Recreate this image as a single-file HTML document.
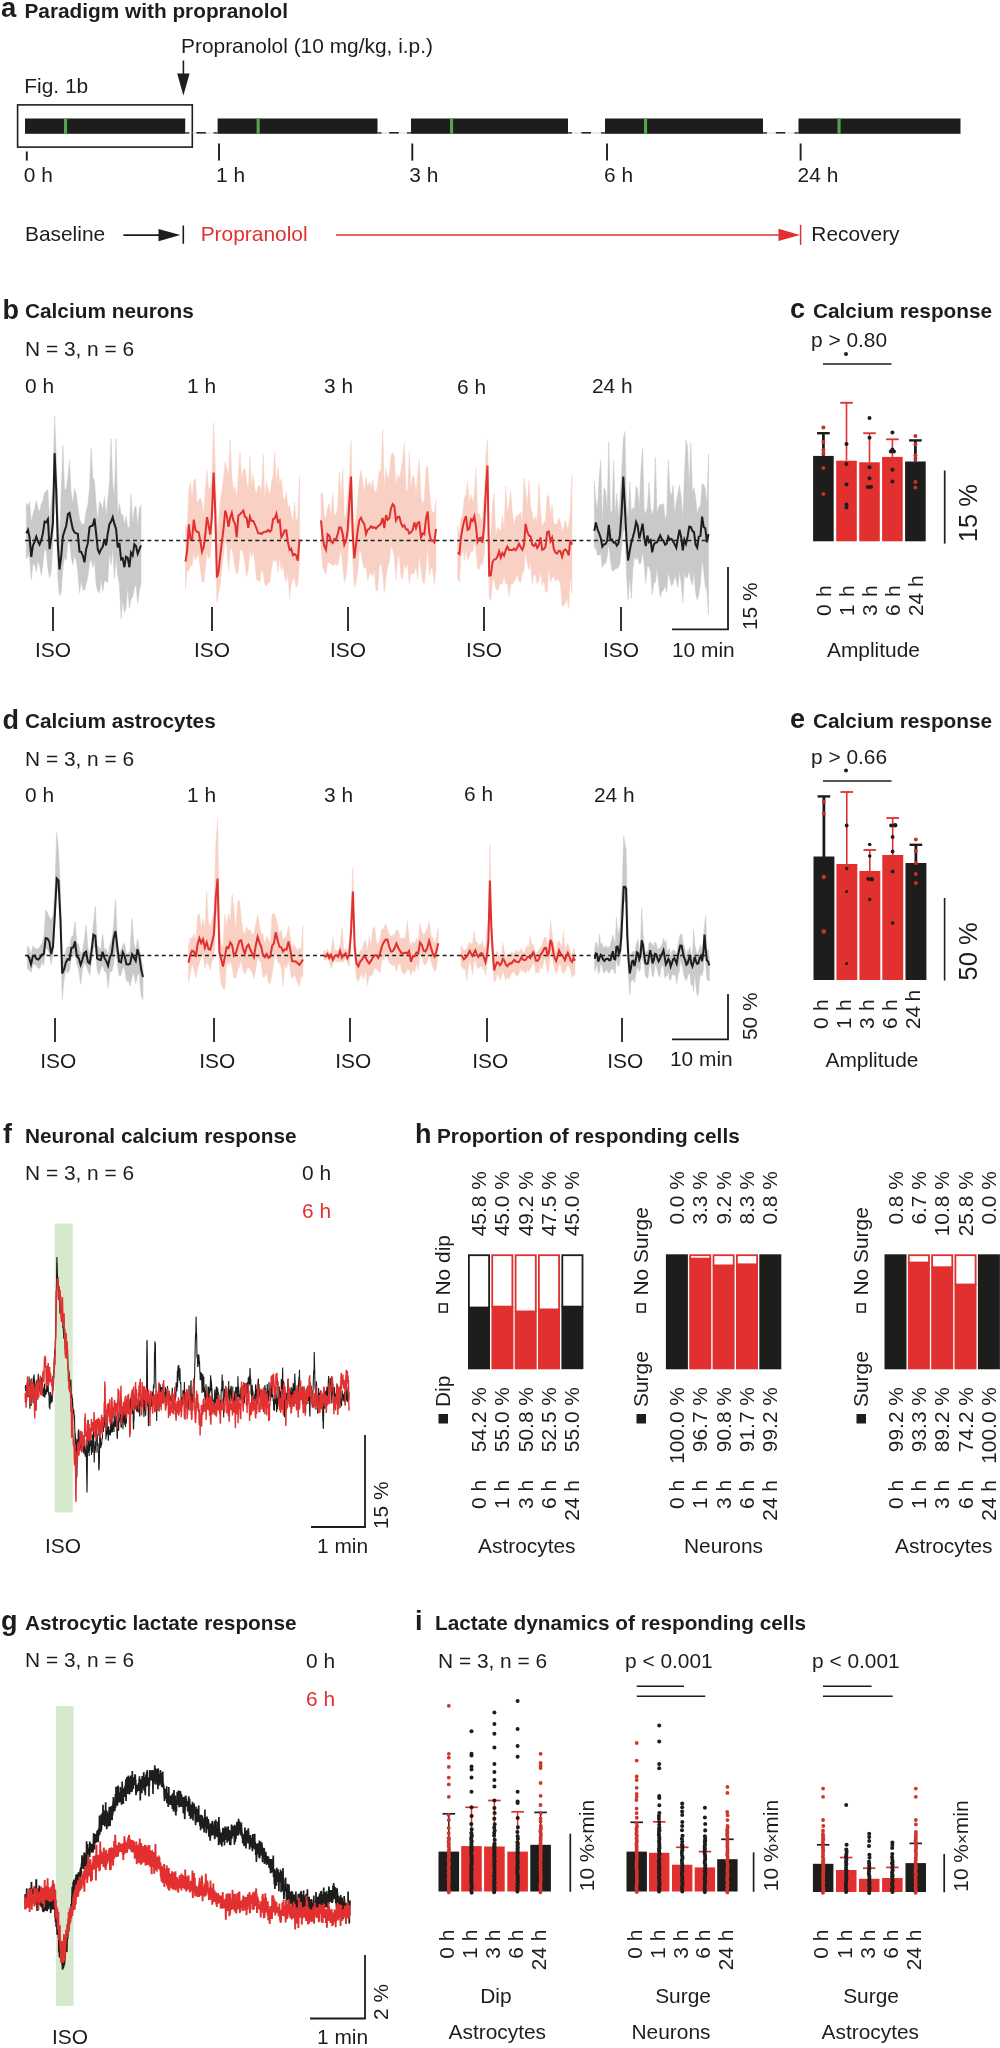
<!DOCTYPE html>
<html><head><meta charset="utf-8"><title>Figure</title>
<style>
html,body{margin:0;padding:0;background:#fff;}
body{width:1000px;height:2048px;overflow:hidden;font-family:"Liberation Sans",sans-serif;}
svg{position:absolute;left:0;top:0;display:block;will-change:transform;font-family:"Liberation Sans",sans-serif;}
</style></head><body>
<svg width="1000" height="2048" viewBox="0 0 1000 2048">
<rect width="1000" height="2048" fill="#fff"/>
<text x="1" y="17" font-size="27.5" fill="#1d1d1b" font-weight="700">a</text>
<text x="24.5" y="18" font-size="20.8" fill="#1d1d1b" font-weight="700">Paradigm with propranolol</text>
<text x="181" y="53" font-size="20.9" fill="#1d1d1b">Propranolol (10 mg/kg, i.p.)</text>
<line x1="183.4" y1="60.5" x2="183.4" y2="76" stroke="#1d1d1b" stroke-width="1.6"/>
<path d="M177.2,73.4 L189.6,73.4 L183.4,95.6 Z" fill="#1d1d1b"/>
<text x="24.3" y="92.5" font-size="20.9" fill="#1d1d1b">Fig. 1b</text>
<rect x="17.6" y="104.9" width="174.7" height="42.2" fill="none" stroke="#1d1d1b" stroke-width="1.6"/>
<rect x="25" y="118.5" width="160.2" height="15.3" fill="#1d1d1b"/>
<rect x="217.6" y="118.5" width="159.9" height="15.3" fill="#1d1d1b"/>
<rect x="411" y="118.5" width="157" height="15.3" fill="#1d1d1b"/>
<rect x="605" y="118.5" width="158" height="15.3" fill="#1d1d1b"/>
<rect x="798.5" y="118.5" width="162" height="15.3" fill="#1d1d1b"/>
<rect x="64" y="118.5" width="3.1" height="15.3" fill="#4fa84a"/>
<rect x="256.6" y="118.5" width="3.1" height="15.3" fill="#4fa84a"/>
<rect x="450" y="118.5" width="3.1" height="15.3" fill="#4fa84a"/>
<rect x="644" y="118.5" width="3.1" height="15.3" fill="#4fa84a"/>
<rect x="837.5" y="118.5" width="3.1" height="15.3" fill="#4fa84a"/>
<line x1="185.2" y1="133" x2="217.6" y2="133" stroke="#bdbdbd" stroke-width="0.6"/>
<line x1="196.4" y1="132.8" x2="205.9" y2="132.8" stroke="#1d1d1b" stroke-width="1.5"/>
<line x1="185.2" y1="132.9" x2="189.2" y2="132.9" stroke="#1d1d1b" stroke-width="1.3"/>
<line x1="213.6" y1="132.9" x2="217.6" y2="132.9" stroke="#1d1d1b" stroke-width="1.3"/>
<line x1="377.5" y1="133" x2="411" y2="133" stroke="#bdbdbd" stroke-width="0.6"/>
<line x1="389.2" y1="132.8" x2="398.8" y2="132.8" stroke="#1d1d1b" stroke-width="1.5"/>
<line x1="377.5" y1="132.9" x2="381.5" y2="132.9" stroke="#1d1d1b" stroke-width="1.3"/>
<line x1="407" y1="132.9" x2="411" y2="132.9" stroke="#1d1d1b" stroke-width="1.3"/>
<line x1="568" y1="133" x2="605" y2="133" stroke="#bdbdbd" stroke-width="0.6"/>
<line x1="581.5" y1="132.8" x2="591" y2="132.8" stroke="#1d1d1b" stroke-width="1.5"/>
<line x1="568" y1="132.9" x2="572" y2="132.9" stroke="#1d1d1b" stroke-width="1.3"/>
<line x1="601" y1="132.9" x2="605" y2="132.9" stroke="#1d1d1b" stroke-width="1.3"/>
<line x1="763" y1="133" x2="798.5" y2="133" stroke="#bdbdbd" stroke-width="0.6"/>
<line x1="775.8" y1="132.8" x2="785.2" y2="132.8" stroke="#1d1d1b" stroke-width="1.5"/>
<line x1="763" y1="132.9" x2="767" y2="132.9" stroke="#1d1d1b" stroke-width="1.3"/>
<line x1="794.5" y1="132.9" x2="798.5" y2="132.9" stroke="#1d1d1b" stroke-width="1.3"/>
<line x1="26.8" y1="151.5" x2="26.8" y2="160.6" stroke="#1d1d1b" stroke-width="1.9"/>
<text x="23.8" y="182" font-size="20.9" fill="#1d1d1b">0 h</text>
<line x1="219" y1="143.5" x2="219" y2="160.6" stroke="#1d1d1b" stroke-width="1.9"/>
<text x="216" y="182" font-size="20.9" fill="#1d1d1b">1 h</text>
<line x1="412.3" y1="143.5" x2="412.3" y2="160.6" stroke="#1d1d1b" stroke-width="1.9"/>
<text x="409.3" y="182" font-size="20.9" fill="#1d1d1b">3 h</text>
<line x1="607" y1="143.5" x2="607" y2="160.6" stroke="#1d1d1b" stroke-width="1.9"/>
<text x="604" y="182" font-size="20.9" fill="#1d1d1b">6 h</text>
<line x1="800.6" y1="143.5" x2="800.6" y2="160.6" stroke="#1d1d1b" stroke-width="1.9"/>
<text x="797.6" y="182" font-size="20.9" fill="#1d1d1b">24 h</text>
<text x="25" y="241.2" font-size="20.9" fill="#1d1d1b">Baseline</text>
<line x1="123.4" y1="235.1" x2="162" y2="235.1" stroke="#1d1d1b" stroke-width="1.6"/>
<path d="M158.5,229 L180.3,235.1 L158.5,241.2 Z" fill="#1d1d1b"/>
<line x1="183.3" y1="225.5" x2="183.3" y2="243.8" stroke="#1d1d1b" stroke-width="1.6"/>
<text x="200.7" y="241.2" font-size="20.9" fill="#e1302f">Propranolol</text>
<line x1="336" y1="234.9" x2="782" y2="234.9" stroke="#e1302f" stroke-width="1.5"/>
<path d="M778.5,228.7 L800,234.9 L778.5,241.1 Z" fill="#e1302f"/>
<line x1="800.6" y1="224.8" x2="800.6" y2="245" stroke="#e1302f" stroke-width="1.5"/>
<text x="811.3" y="241.2" font-size="20.9" fill="#1d1d1b">Recovery</text>
<text x="2.5" y="319" font-size="27" fill="#1d1d1b" font-weight="700">b</text>
<text x="25" y="318" font-size="20.8" fill="#1d1d1b" font-weight="700">Calcium neurons</text>
<text x="25" y="356" font-size="20.9" fill="#1d1d1b">N = 3, n = 6</text>
<text x="25" y="393" font-size="20.9" fill="#1d1d1b">0 h</text>
<text x="187" y="393" font-size="20.9" fill="#1d1d1b">1 h</text>
<text x="324" y="393" font-size="20.9" fill="#1d1d1b">3 h</text>
<text x="457" y="394" font-size="20.9" fill="#1d1d1b">6 h</text>
<text x="592" y="393" font-size="20.9" fill="#1d1d1b">24 h</text>
<path d="M26.3,503.1 28,505.7 29.6,502 31.3,522 32.9,514.3 34.6,508.6 36.3,500.8 37.9,507.8 39.6,512.1 41.3,503.8 42.9,501.1 44.6,492.7 46.2,491.1 47.9,489.4 49.6,521.3 51.2,502.6 52.9,489.2 54.6,416 56.2,455 57.9,509 59.5,542.6 61.2,491 62.9,444.9 64.5,489.7 66.2,489.2 67.9,477.2 69.5,460.5 71.2,493.3 72.8,503.3 74.5,488.7 76.2,494 77.8,506.1 79.5,518.5 81.2,523.2 82.8,524.4 84.5,523.2 86.1,511.2 87.8,505.3 89.5,488.7 91.1,448.2 92.8,477.4 94.5,480.9 96.1,503.8 97.8,522.6 99.4,501.2 101.1,503.9 102.8,510.4 104.4,496.6 106.1,517.4 107.8,498.8 109.4,482.7 111.1,439 112.7,483.3 114.4,496.7 116.1,439 117.7,515.6 119.4,503.5 121.1,514.6 122.7,514.9 124.4,524.5 126,516 127.7,526.7 129.4,527.8 131,494.3 132.7,524.4 134.4,508 136,505.8 137.7,527 139.3,508.7 141,504.8 141,583.5 139.3,591.7 137.7,603.1 136,584.3 134.4,588 132.7,597.1 131,599.1 129.4,608.3 127.7,587 126,608.2 124.4,612.6 122.7,600 121.1,618.9 119.4,583.8 117.7,575.4 116.1,556.9 114.4,578.3 112.7,547.8 111.1,564.9 109.4,552.1 107.8,582.9 106.1,581.2 104.4,580.8 102.8,591.3 101.1,580.1 99.4,592.9 97.8,591.2 96.1,585.1 94.5,560 92.8,567.7 91.1,558.8 89.5,563.6 87.8,577.2 86.1,584.3 84.5,590.6 82.8,589.4 81.2,581.1 79.5,592.8 77.8,571.8 76.2,559.9 74.5,556.1 72.8,565.2 71.2,557.3 69.5,540.9 67.9,541.4 66.2,560.4 64.5,557.5 62.9,567.8 61.2,592.4 59.5,595.5 57.9,579.4 56.2,511.3 54.6,486.8 52.9,543.9 51.2,570.7 49.6,578 47.9,567.9 46.2,551.1 44.6,548.6 42.9,564.6 41.3,575.3 39.6,565.8 37.9,561.1 36.3,571.7 34.6,564.1 32.9,564.5 31.3,579.6 29.6,557.8 28,555.2 26.3,558.9Z" fill="#c9c9c9" stroke="#c9c9c9" stroke-width="0.5" stroke-linejoin="round"/>
<path d="M185.5,525.5 187.2,530.3 188.8,490.4 190.5,482.2 192.1,500.4 193.8,479.9 195.4,479 197.1,503.8 198.7,500.3 200.4,497.9 202,502.7 203.7,515.1 205.3,490.6 207,470.5 208.6,490.4 210.3,487.1 211.9,479.3 213.6,422.5 215.2,464.4 216.9,533 218.5,522.2 220.2,501.7 221.8,491.8 223.5,478.5 225.2,461.7 226.8,468.9 228.5,475.5 230.1,440.1 231.8,475.3 233.4,489.9 235.1,487 236.7,499.5 238.4,474.1 240,452.4 241.7,479 243.3,470.3 245,468.4 246.6,481.5 248.3,490.7 249.9,456.4 251.6,486.5 253.2,473.8 254.9,489.8 256.5,493.8 258.2,485.7 259.8,485.6 261.5,491 263.2,453.6 264.8,501.2 266.5,481.3 268.1,489.2 269.8,494.5 271.4,483.8 273.1,476 274.7,451.8 276.4,483.7 278,466.7 279.7,484.1 281.3,478.7 283,496.6 284.6,500.7 286.3,491.8 287.9,507.2 289.6,505.5 291.2,514.8 292.9,522.2 294.5,502 296.2,521.1 297.8,517.6 299.5,476 299.5,561.9 297.8,583.7 296.2,587.6 294.5,578.5 292.9,578.6 291.2,584.4 289.6,598.5 287.9,572.7 286.3,582.2 284.6,576.4 283,565 281.3,570.7 279.7,557.2 278,572.2 276.4,558.3 274.7,561.9 273.1,559.2 271.4,568.9 269.8,582.7 268.1,582.4 266.5,585.9 264.8,584.4 263.2,572.1 261.5,569.2 259.8,581.9 258.2,580.3 256.5,579.5 254.9,562.3 253.2,550.9 251.6,557.5 249.9,548.9 248.3,570.4 246.6,576.3 245,562.7 243.3,554.3 241.7,549 240,551.6 238.4,570.5 236.7,574.3 235.1,568.1 233.4,556.6 231.8,547.7 230.1,550.2 228.5,571.2 226.8,546.2 225.2,538.1 223.5,555.4 221.8,568.3 220.2,584.6 218.5,592.8 216.9,602.8 215.2,532.1 213.6,495 211.9,537.4 210.3,555.4 208.6,558.9 207,552 205.3,569.4 203.7,582.4 202,581.4 200.4,570 198.7,554.5 197.1,556.4 195.4,560.1 193.8,552.6 192.1,565.5 190.5,565.6 188.8,570.5 187.2,570.4 185.5,588.6Z" fill="#f9d0c4" stroke="#f9d0c4" stroke-width="0.5" stroke-linejoin="round"/>
<path d="M321,492 322.7,494.2 324.3,517 326,517.8 327.7,507.3 329.3,503.7 331,518.5 332.7,493.7 334.3,514.8 336,515 337.7,506.3 339.3,472.1 341,498.2 342.7,468.1 344.3,517 346,516.1 347.7,495.5 349.3,477.8 351,440.5 352.7,509 354.3,528.4 356,518.5 357.7,499.3 359.3,480.1 361,470.3 362.7,481.8 364.3,491.9 366,477.3 367.7,487 369.3,481.8 371,488 372.7,479.9 374.3,490.5 376,492.4 377.7,484.7 379.3,470.4 381,473.1 382.7,429.3 384.3,488 386,468.7 387.7,479.6 389.3,474.1 391,456.1 392.7,452.4 394.3,456 396,486.6 397.7,474.8 399.3,479.1 401,469.8 402.7,460.3 404.3,442.2 406,490.6 407.7,490.8 409.3,451.9 411,489.6 412.7,475.5 414.3,478 416,495.4 417.7,475.1 419.3,459.2 421,497.8 422.7,504.2 424.3,500 426,468.8 427.7,465.6 429.3,488.7 431,507.6 432.7,512.4 434.3,512.9 436,499.7 436,568.5 434.3,584.3 432.7,569.5 431,567.8 429.3,575.3 427.7,546 426,567.8 424.3,583.8 422.7,581.8 421,568.9 419.3,554.5 417.7,579.1 416,565.6 414.3,573.3 412.7,574 411,572.4 409.3,583.7 407.7,563.6 406,568.7 404.3,563.6 402.7,578.9 401,577.5 399.3,555.9 397.7,557.1 396,580.1 394.3,557.6 392.7,550 391,546.1 389.3,562.5 387.7,566.8 386,578.1 384.3,592.5 382.7,572.9 381,563.7 379.3,566.3 377.7,589.9 376,591.1 374.3,569.3 372.7,576.8 371,572.6 369.3,574.7 367.7,580.3 366,567.8 364.3,568.4 362.7,563.3 361,552.2 359.3,550.5 357.7,572.4 356,582.2 354.3,587.4 352.7,559.7 351,514.9 349.3,530.5 347.7,561.2 346,576.7 344.3,582.5 342.7,565.3 341,550.2 339.3,557.6 337.7,566.4 336,562.8 334.3,565 332.7,565.6 331,563.4 329.3,563.1 327.7,561.5 326,574.1 324.3,570.9 322.7,567.2 321,545.3Z" fill="#f9d0c4" stroke="#f9d0c4" stroke-width="0.5" stroke-linejoin="round"/>
<path d="M457.7,525.9 459.4,534.8 461,518.4 462.7,514.5 464.3,497.7 466,495.3 467.6,481.5 469.3,503.6 471,494.6 472.6,502.4 474.3,495.5 475.9,468 477.6,512.7 479.2,513.6 480.9,519.5 482.5,519.2 484.2,496 485.9,455 487.5,439.5 489.2,548.6 490.8,536.5 492.5,504.2 494.1,493.4 495.8,536.1 497.5,527 499.1,529.6 500.8,531 502.4,515.4 504.1,528.8 505.7,486.1 507.4,513.2 509.1,504.5 510.7,490.9 512.4,512.9 514,525.4 515.7,516.9 517.3,515.5 519,514.8 520.6,511.9 522.3,522.6 524,478 525.6,491.2 527.3,506.2 528.9,480.4 530.6,506.3 532.2,513.2 533.9,521.5 535.6,516.1 537.2,522.8 538.9,482.2 540.5,511.2 542.2,526.9 543.8,522.8 545.5,520.3 547.2,496.5 548.8,495.1 550.5,515.5 552.1,505 553.8,523.4 555.4,524.5 557.1,523.9 558.7,517.6 560.4,522.3 562.1,530.8 563.7,527.3 565.4,519.5 567,528 568.7,525.9 570.3,512.5 572,475 572,593.7 570.3,575.7 568.7,608.4 567,598.2 565.4,603.2 563.7,605.6 562.1,606.2 560.4,582.8 558.7,580.9 557.1,579 555.4,581.5 553.8,576.2 552.1,577.9 550.5,582.4 548.8,565.9 547.2,591.7 545.5,591.9 543.8,579.5 542.2,586.5 540.5,570.7 538.9,581.3 537.2,583.7 535.6,575.5 533.9,574.2 532.2,584.3 530.6,562.3 528.9,569.7 527.3,563.8 525.6,550.1 524,570.4 522.3,573.2 520.6,583 519,581.4 517.3,573.4 515.7,578.9 514,581.1 512.4,584.6 510.7,584.1 509.1,596.7 507.4,582.9 505.7,584 504.1,575.6 502.4,583.9 500.8,583.3 499.1,586.6 497.5,590.7 495.8,588.6 494.1,578.7 492.5,580.3 490.8,600.9 489.2,596.2 487.5,486.4 485.9,515.4 484.2,554.4 482.5,564.6 480.9,562.9 479.2,569.4 477.6,568.7 475.9,550.1 474.3,541.3 472.6,552.2 471,550.5 469.3,557.4 467.6,560.4 466,549.5 464.3,560.2 462.7,548.6 461,557.1 459.4,581.8 457.7,579.4Z" fill="#f9d0c4" stroke="#f9d0c4" stroke-width="0.5" stroke-linejoin="round"/>
<path d="M594.3,481.1 595.9,501.4 597.5,508.6 599.1,478.2 600.7,460.5 602.3,523.3 604,487.9 605.6,491 607.2,507.9 608.8,441.9 610.4,511.2 612,511.8 613.6,460.4 615.2,513.9 616.8,493.5 618.4,517.8 620,497.8 621.6,473.8 623.3,439.5 624.9,431.4 626.5,504.3 628.1,518.8 629.7,482 631.3,511.4 632.9,507.7 634.5,509.7 636.1,486.1 637.7,489.6 639.3,509.3 640.9,470.2 642.6,448.6 644.2,509.5 645.8,514.3 647.4,506.5 649,481.9 650.6,506.9 652.2,515.6 653.8,507.8 655.4,457.3 657,512.7 658.6,507.1 660.2,504 661.9,504.8 663.5,503.5 665.1,519.4 666.7,514.1 668.3,460.4 669.9,490.8 671.5,496.5 673.1,485.4 674.7,514.1 676.3,501.9 677.9,493.6 679.5,485 681.2,497.6 682.8,518.5 684.4,476.4 686,440.2 687.6,447 689.2,487.7 690.8,442.8 692.4,492.7 694,487.7 695.6,497.5 697.2,513.9 698.8,507.5 700.5,505.3 702.1,483.8 703.7,484.7 705.3,489 706.9,504.7 708.5,453.9 708.5,614.3 706.9,590 705.3,586.7 703.7,571 702.1,559.4 700.5,583.2 698.8,594.7 697.2,599.7 695.6,592.9 694,571.2 692.4,585.1 690.8,580.4 689.2,570.3 687.6,577 686,577.9 684.4,572.3 682.8,603 681.2,582.4 679.5,571.1 677.9,587.5 676.3,579.9 674.7,575.8 673.1,583.7 671.5,586 669.9,579.2 668.3,571.8 666.7,592.3 665.1,585.5 663.5,590.3 661.9,591.8 660.2,597 658.6,583.5 657,568 655.4,582.2 653.8,583.4 652.2,594.5 650.6,572 649,566.9 647.4,565.3 645.8,583.5 644.2,564 642.6,552.1 640.9,563 639.3,564 637.7,557.3 636.1,559.7 634.5,555.9 632.9,568.2 631.3,598.4 629.7,575.9 628.1,600.5 626.5,574.6 624.9,529.7 623.3,530.5 621.6,546.8 620,563.3 618.4,567.5 616.8,568.7 615.2,568.7 613.6,570.9 612,570.4 610.4,559.7 608.8,543.3 607.2,557.1 605.6,563.5 604,564 602.3,567.5 600.7,552.9 599.1,555.2 597.5,555.2 595.9,547.5 594.3,549Z" fill="#c9c9c9" stroke="#c9c9c9" stroke-width="0.5" stroke-linejoin="round"/>
<line x1="25" y1="540.5" x2="706" y2="540.5" stroke="#1d1d1b" stroke-width="1.5" stroke-dasharray="4 3.2"/>
<path d="M26.3,533.3 28,529.9 29.6,537.8 31.3,556.9 32.9,545.7 34.6,541.9 36.3,536.6 37.9,541.3 39.6,544.5 41.3,540.2 42.9,533.1 44.6,521.7 46.2,522.3 47.9,519.2 49.6,549.2 51.2,538.3 52.9,523.2 54.6,453 56.2,489 57.9,545.3 59.5,569.5 61.2,556.2 62.9,536.3 64.5,531 66.2,526 67.9,514.1 69.5,512.9 71.2,521.5 72.8,529.2 74.5,532.2 76.2,533.4 77.8,533.6 79.5,551.6 81.2,551.9 82.8,555.6 84.5,562.3 86.1,549.4 87.8,543.4 89.5,527.2 91.1,525.9 92.8,525.6 94.5,518.5 96.1,533.1 97.8,549.4 99.4,553 101.1,549.2 102.8,546.7 104.4,539 106.1,545.4 107.8,533.2 109.4,524.2 111.1,521.5 112.7,517.2 114.4,523.9 116.1,529.1 117.7,547.3 119.4,543.2 121.1,559.5 122.7,558.3 124.4,567.2 126,556.7 127.7,557.9 129.4,567.2 131,552.6 132.7,555.6 134.4,544.2 136,546 137.7,553.8 139.3,549.7 141,545.4" fill="none" stroke="#1d1d1b" stroke-width="2" stroke-linejoin="miter"/>
<path d="M185.5,561.6 187.2,550.1 188.8,524.3 190.5,539.4 192.1,539 193.8,519.6 195.4,530 197.1,531.8 198.7,532.4 200.4,541.3 202,551.7 203.7,547.1 205.3,534.5 207,517.1 208.6,525.5 210.3,534.5 211.9,515.8 213.6,472.5 215.2,510 216.9,577.5 218.5,572.3 220.2,556.1 221.8,543 223.5,528.9 225.2,510.5 226.8,515.7 228.5,526.9 230.1,517.9 231.8,512.8 233.4,520.6 235.1,524 236.7,537.3 238.4,515.5 240,514.3 241.7,512.4 243.3,510.5 245,516.8 246.6,517.8 248.3,527.8 249.9,516.7 251.6,521.1 253.2,521.1 254.9,524.4 256.5,528.5 258.2,533.3 259.8,533.2 261.5,534 263.2,532.4 264.8,531.7 266.5,531.7 268.1,529.9 269.8,531.7 271.4,530.1 273.1,519.1 274.7,518.5 276.4,513.7 278,521.9 279.7,520.2 281.3,537.2 283,534.7 284.6,530.5 286.3,530.4 287.9,542.3 289.6,549.8 291.2,548.6 292.9,555.2 294.5,554.1 296.2,555.4 297.8,560.6 299.5,539.3" fill="none" stroke="#e1302f" stroke-width="2" stroke-linejoin="miter"/>
<path d="M321,520.3 322.7,538 324.3,546.1 326,549.8 327.7,534.2 329.3,535.5 331,541.4 332.7,543 334.3,538.9 336,539.8 337.7,534.1 339.3,527.4 341,527.7 342.7,534 344.3,544.8 346,540.7 347.7,530 349.3,503.5 351,476.5 352.7,533.3 354.3,558.5 356,544.7 357.7,530.6 359.3,520.4 361,517.8 362.7,521.8 364.3,524.1 366,534.1 367.7,529.7 369.3,528.8 371,526.2 372.7,527.8 374.3,527.2 376,528.5 377.7,526.4 379.3,525.4 381,523.4 382.7,517.8 384.3,528.2 386,515.2 387.7,519.7 389.3,518.3 391,508.3 392.7,504.1 394.3,506 396,520.4 397.7,517.1 399.3,516.7 401,523.1 402.7,526.6 404.3,525.3 406,529.4 407.7,529.5 409.3,533.4 411,532.3 412.7,530 414.3,522.4 416,528.1 417.7,522.8 419.3,522.1 421,537.4 422.7,533.4 424.3,534.3 426,518.9 427.7,511.6 429.3,533 431,540.4 432.7,540.4 434.3,542.3 436,529" fill="none" stroke="#e1302f" stroke-width="2" stroke-linejoin="miter"/>
<path d="M457.7,552.6 459.4,554 461,537 462.7,527.4 464.3,520.4 466,516 467.6,529.9 469.3,528.6 471,519.3 472.6,521 474.3,516.3 475.9,526.2 477.6,541.8 479.2,538.4 480.9,537.6 482.5,542.7 484.2,523.8 485.9,489.6 487.5,465.5 489.2,575.5 490.8,575.3 492.5,562.3 494.1,559.6 495.8,559.2 497.5,556.5 499.1,551.4 500.8,557.6 502.4,553 504.1,555.7 505.7,550.2 507.4,546.6 509.1,549.9 510.7,549.9 512.4,550.2 514,548.7 515.7,550.2 517.3,547.5 519,543.8 520.6,547.1 522.3,549.8 524,545.4 525.6,523.9 527.3,531.6 528.9,535.4 530.6,536.6 532.2,544.6 533.9,546.1 535.6,543.6 537.2,547.9 538.9,545.1 540.5,537.4 542.2,549.9 543.8,549.2 545.5,546.7 547.2,532 548.8,531.6 550.5,541.1 552.1,537.7 553.8,548.9 555.4,552.5 557.1,553.6 558.7,550.9 560.4,551.2 562.1,556.9 563.7,551 565.4,549.4 567,551.2 568.7,555.3 570.3,540 572,544.7" fill="none" stroke="#e1302f" stroke-width="2" stroke-linejoin="miter"/>
<path d="M594.3,530.9 595.9,522.5 597.5,529.3 599.1,533 600.7,537.9 602.3,546.6 604,544.3 605.6,543.9 607.2,540.7 608.8,524.9 610.4,539.3 612,539.5 613.6,542.6 615.2,542.2 616.8,545.6 618.4,543.5 620,534.9 621.6,512.8 623.3,476.5 624.9,507.9 626.5,539 628.1,560.5 629.7,551.1 631.3,542.6 632.9,537.1 634.5,531 636.1,522 637.7,525.7 639.3,538.5 640.9,531.9 642.6,523.6 644.2,537.5 645.8,546 647.4,535.6 649,542.1 650.6,540.2 652.2,552.4 653.8,544.5 655.4,542.7 657,542.3 658.6,538.9 660.2,535.4 661.9,539.3 663.5,540.9 665.1,544.7 666.7,543.6 668.3,536.6 669.9,539.6 671.5,538.9 673.1,541.4 674.7,544.3 676.3,547.7 677.9,538.3 679.5,529.6 681.2,537.5 682.8,550.4 684.4,539.7 686,543.8 687.6,536.8 689.2,526.7 690.8,526.9 692.4,530.9 694,532.1 695.6,544.6 697.2,547.6 698.8,536.6 700.5,535.9 702.1,516.7 703.7,526.9 705.3,528.3 706.9,542.4 708.5,534" fill="none" stroke="#1d1d1b" stroke-width="2" stroke-linejoin="miter"/>
<line x1="53" y1="607" x2="53" y2="631" stroke="#1d1d1b" stroke-width="1.8"/>
<text x="53" y="657" font-size="20.9" fill="#1d1d1b" text-anchor="middle">ISO</text>
<line x1="212" y1="607" x2="212" y2="631" stroke="#1d1d1b" stroke-width="1.8"/>
<text x="212" y="657" font-size="20.9" fill="#1d1d1b" text-anchor="middle">ISO</text>
<line x1="348" y1="607" x2="348" y2="631" stroke="#1d1d1b" stroke-width="1.8"/>
<text x="348" y="657" font-size="20.9" fill="#1d1d1b" text-anchor="middle">ISO</text>
<line x1="484" y1="607" x2="484" y2="631" stroke="#1d1d1b" stroke-width="1.8"/>
<text x="484" y="657" font-size="20.9" fill="#1d1d1b" text-anchor="middle">ISO</text>
<line x1="621" y1="607" x2="621" y2="631" stroke="#1d1d1b" stroke-width="1.8"/>
<text x="621" y="657" font-size="20.9" fill="#1d1d1b" text-anchor="middle">ISO</text>
<line x1="672" y1="629.3" x2="728.9" y2="629.3" stroke="#1d1d1b" stroke-width="1.8"/>
<line x1="728" y1="567" x2="728" y2="629.3" stroke="#1d1d1b" stroke-width="1.8"/>
<text transform="translate(757 630) rotate(-90)" font-size="20.9" fill="#1d1d1b">15 %</text>
<text x="672" y="657" font-size="20.9" fill="#1d1d1b">10 min</text>
<text x="790" y="318" font-size="27" fill="#1d1d1b" font-weight="700">c</text>
<text x="813" y="318" font-size="20.8" fill="#1d1d1b" font-weight="700">Calcium response</text>
<text x="811" y="347" font-size="20.9" fill="#1d1d1b">p &gt; 0.80</text>
<line x1="823" y1="364" x2="891.5" y2="364" stroke="#1d1d1b" stroke-width="1.5"/>
<circle cx="846" cy="354" r="2" fill="#1d1d1b"/>
<rect x="813.1" y="455.9" width="20.6" height="85.4" fill="#1d1d1b"/>
<rect x="836.2" y="460.7" width="20.6" height="80.6" fill="#e1302f"/>
<rect x="859.2" y="462.3" width="20.6" height="79" fill="#e1302f"/>
<rect x="882.1" y="456.9" width="20.6" height="84.4" fill="#e1302f"/>
<rect x="905.1" y="461.5" width="20.6" height="79.8" fill="#1d1d1b"/>
<line x1="823.4" y1="433.2" x2="823.4" y2="455.9" stroke="#1d1d1b" stroke-width="2.8"/>
<line x1="817.1" y1="433.2" x2="829.7" y2="433.2" stroke="#1d1d1b" stroke-width="2.4"/>
<line x1="846.5" y1="402.8" x2="846.5" y2="460.7" stroke="#e1302f" stroke-width="1.6"/>
<line x1="840.2" y1="402.8" x2="852.8" y2="402.8" stroke="#e1302f" stroke-width="1.8"/>
<line x1="869.5" y1="433.2" x2="869.5" y2="462.3" stroke="#e1302f" stroke-width="1.6"/>
<line x1="863.2" y1="433.2" x2="875.8" y2="433.2" stroke="#e1302f" stroke-width="1.8"/>
<line x1="892.4" y1="439.3" x2="892.4" y2="456.9" stroke="#e1302f" stroke-width="1.6"/>
<line x1="886.1" y1="439.3" x2="898.7" y2="439.3" stroke="#e1302f" stroke-width="1.8"/>
<line x1="915.4" y1="440.4" x2="915.4" y2="461.5" stroke="#1d1d1b" stroke-width="2.8"/>
<line x1="909.1" y1="440.4" x2="921.7" y2="440.4" stroke="#1d1d1b" stroke-width="2.4"/>
<circle cx="823.4" cy="427.6" r="2" fill="#c4322b"/>
<circle cx="823.4" cy="442" r="2" fill="#c4322b"/>
<circle cx="823.4" cy="450" r="2" fill="#c4322b"/>
<circle cx="823.4" cy="453.5" r="2" fill="#c4322b"/>
<circle cx="823.4" cy="468" r="2" fill="#c4322b"/>
<circle cx="823.4" cy="494" r="2" fill="#c4322b"/>
<circle cx="846.5" cy="444" r="2" fill="#1d1d1b"/>
<circle cx="846.5" cy="464" r="2" fill="#1d1d1b"/>
<circle cx="846.5" cy="484.4" r="2" fill="#1d1d1b"/>
<circle cx="846.5" cy="504.6" r="2" fill="#1d1d1b"/>
<circle cx="846.5" cy="507.4" r="2" fill="#1d1d1b"/>
<circle cx="869.5" cy="418" r="2" fill="#1d1d1b"/>
<circle cx="869.5" cy="437.7" r="2" fill="#1d1d1b"/>
<circle cx="869.5" cy="467.3" r="2" fill="#1d1d1b"/>
<circle cx="869.5" cy="478.3" r="2" fill="#1d1d1b"/>
<circle cx="868" cy="487" r="2" fill="#1d1d1b"/>
<circle cx="871" cy="487" r="2" fill="#1d1d1b"/>
<circle cx="892.4" cy="432.4" r="2" fill="#1d1d1b"/>
<circle cx="892.4" cy="449.4" r="2" fill="#1d1d1b"/>
<circle cx="890.8" cy="451.6" r="2" fill="#1d1d1b"/>
<circle cx="894" cy="451.6" r="2" fill="#1d1d1b"/>
<circle cx="892.4" cy="469.7" r="2" fill="#1d1d1b"/>
<circle cx="892.4" cy="481.5" r="2" fill="#1d1d1b"/>
<circle cx="915.4" cy="436" r="2" fill="#c4322b"/>
<circle cx="915.4" cy="444.4" r="2" fill="#c4322b"/>
<circle cx="915.4" cy="455.6" r="2" fill="#c4322b"/>
<circle cx="915.4" cy="458.8" r="2" fill="#c4322b"/>
<circle cx="915.4" cy="482" r="2" fill="#c4322b"/>
<circle cx="915.4" cy="487.6" r="2" fill="#c4322b"/>
<line x1="944.7" y1="470.5" x2="944.7" y2="543.6" stroke="#1d1d1b" stroke-width="1.7"/>
<text transform="translate(977 542.3) rotate(-90)" font-size="25.5" fill="#1d1d1b">15 %</text>
<text transform="translate(831.1 616) rotate(-90)" font-size="20.9" fill="#1d1d1b" word-spacing="1.6">0 h</text>
<text transform="translate(854.2 616) rotate(-90)" font-size="20.9" fill="#1d1d1b" word-spacing="1.6">1 h</text>
<text transform="translate(877.2 616) rotate(-90)" font-size="20.9" fill="#1d1d1b" word-spacing="1.6">3 h</text>
<text transform="translate(900.1 616) rotate(-90)" font-size="20.9" fill="#1d1d1b" word-spacing="1.6">6 h</text>
<text transform="translate(923.1 616) rotate(-90)" font-size="20.9" fill="#1d1d1b" word-spacing="0">24 h</text>
<text x="827" y="657" font-size="20.9" fill="#1d1d1b">Amplitude</text>
<text x="2.5" y="729" font-size="27" fill="#1d1d1b" font-weight="700">d</text>
<text x="25" y="728" font-size="20.8" fill="#1d1d1b" font-weight="700">Calcium astrocytes</text>
<text x="25" y="766" font-size="20.9" fill="#1d1d1b">N = 3, n = 6</text>
<text x="25" y="802" font-size="20.9" fill="#1d1d1b">0 h</text>
<text x="187" y="802" font-size="20.9" fill="#1d1d1b">1 h</text>
<text x="324" y="802" font-size="20.9" fill="#1d1d1b">3 h</text>
<text x="464" y="801" font-size="20.9" fill="#1d1d1b">6 h</text>
<text x="594" y="802" font-size="20.9" fill="#1d1d1b">24 h</text>
<path d="M27.3,946.4 29.1,947.7 31,955.1 32.8,945.8 34.6,948.1 36.5,949.1 38.3,948.7 40.2,945.9 42,943.3 43.8,937.6 45.7,910.1 47.5,912.8 49.3,917.6 51.2,919.8 53,915.2 54.8,890.9 56.7,832.5 58.5,850.5 60.4,888.1 62.2,957.7 64,957.7 65.9,950.4 67.7,946.2 69.5,947.4 71.4,937.1 73.2,935.7 75,921.5 76.9,942.3 78.7,945 80.6,953.3 82.4,951.8 84.2,940.8 86.1,925.6 87.9,948.1 89.7,954.7 91.6,943.1 93.4,923.8 95.3,905.9 97.1,945 98.9,947.4 100.8,949.7 102.6,933.8 104.4,949.8 106.3,948.8 108.1,955.8 109.9,944.7 111.8,940 113.6,924.9 115.5,899.1 117.3,938.3 119.1,954 121,950.1 122.8,945.2 124.6,943.2 126.5,954.4 128.3,953.1 130.1,950.9 132,918.3 133.8,943 135.7,950.1 137.5,939 139.3,948.2 141.2,958.9 143,966.6 143,999.4 141.2,996.3 139.3,974.3 137.5,974.8 135.7,984 133.8,972.7 132,977.6 130.1,986 128.3,980.3 126.5,981.6 124.6,968.7 122.8,967.6 121,975.3 119.1,975.7 117.3,963.7 115.5,947.6 113.6,964.2 111.8,971.5 109.9,971.5 108.1,987.9 106.3,971.9 104.4,971.2 102.6,964.2 100.8,968.9 98.9,974.8 97.1,970 95.3,946.8 93.4,948.3 91.6,961.6 89.7,975.3 87.9,970.3 86.1,965.6 84.2,963 82.4,969.7 80.6,984.4 78.7,969.8 76.9,964 75,953.3 73.2,956.9 71.4,957.1 69.5,970.2 67.7,973.2 65.9,970.1 64,979.8 62.2,999.2 60.4,927.7 58.5,888.5 56.7,891.9 54.8,923.3 53,954.1 51.2,964.5 49.3,953.8 47.5,949.3 45.7,947.4 43.8,965.2 42,962.1 40.2,967.7 38.3,968.6 36.5,966.1 34.6,964 32.8,964.9 31,972.4 29.1,969.5 27.3,968.9Z" fill="#c9c9c9" stroke="#c9c9c9" stroke-width="0.5" stroke-linejoin="round"/>
<path d="M188.5,947.5 190.3,938.3 192.1,938.1 194,933.5 195.8,941.3 197.6,916.2 199.4,913.7 201.2,928.2 203,918.4 204.9,929 206.7,890.9 208.5,923.5 210.3,926.5 212.1,919.5 213.9,913.6 215.8,846.3 217.6,818.5 219.4,929.4 221.2,943.7 223,947.6 224.8,913.9 226.7,926.1 228.5,913.6 230.3,921.1 232.1,894.1 233.9,907.4 235.8,931 237.6,901.7 239.4,900 241.2,917.5 243,931.9 244.8,933.2 246.7,926.9 248.5,930.5 250.3,929.8 252.1,934.6 253.9,933.4 255.7,924.3 257.6,915.1 259.4,925.1 261.2,933.8 263,933.9 264.8,944.3 266.7,936 268.5,939.8 270.3,943.5 272.1,914.3 273.9,912.9 275.7,916.8 277.6,924.7 279.4,935.1 281.2,930 283,939.7 284.8,937.5 286.6,936.1 288.5,926 290.3,937.2 292.1,949.7 293.9,944.4 295.7,947 297.5,950.9 299.4,948.1 301.2,949.7 303,925.1 303,977.1 301.2,976.3 299.4,986.4 297.5,982.8 295.7,976.7 293.9,975.4 292.1,979 290.3,970.6 288.5,959.9 286.6,968.4 284.8,964.3 283,986 281.2,967.6 279.4,963.3 277.6,961.5 275.7,953 273.9,961 272.1,973.6 270.3,983.4 268.5,982.7 266.7,972.6 264.8,976.8 263,977.4 261.2,962.5 259.4,960.5 257.6,958 255.7,969.8 253.9,978.7 252.1,972.2 250.3,969.7 248.5,967.2 246.7,969.6 244.8,973.9 243,969.9 241.2,959.7 239.4,966.8 237.6,970.3 235.8,977.8 233.9,978.2 232.1,966.2 230.3,961.4 228.5,965.5 226.7,961 224.8,989.3 223,988.5 221.2,984.2 219.4,967.3 217.6,904.2 215.8,919.4 213.9,957.6 212.1,961.2 210.3,970.1 208.5,964.9 206.7,962.2 204.9,968.2 203,954.4 201.2,958 199.4,962.9 197.6,968.3 195.8,978.3 194,969.2 192.1,964.6 190.3,973.2 188.5,982.4Z" fill="#f9d0c4" stroke="#f9d0c4" stroke-width="0.5" stroke-linejoin="round"/>
<path d="M323.8,950 325.6,952.1 327.4,948.7 329.2,953.2 331.1,951.3 332.9,937.5 334.7,949.6 336.5,950.4 338.3,950.4 340.1,944.7 342,927.7 343.8,950.1 345.6,948.5 347.4,953.1 349.2,946 351,911.4 352.9,867.5 354.7,937 356.5,953.3 358.3,956.5 360.1,950.5 361.9,950.1 363.7,943 365.6,940.4 367.4,951.1 369.2,936.7 371,946.5 372.8,928.9 374.6,926.4 376.5,943.5 378.3,943.9 380.1,938.4 381.9,929 383.7,929.1 385.5,923.2 387.4,928.8 389.2,934.6 391,936.4 392.8,935.1 394.6,934.6 396.4,929.7 398.3,930.4 400.1,938.6 401.9,937.9 403.7,938.8 405.5,936.6 407.3,920.9 409.1,939.4 411,946.6 412.8,941.4 414.6,943.8 416.4,937.8 418.2,941.7 420,923.2 421.9,931.8 423.7,935.4 425.5,931.4 427.3,928.6 429.1,921.4 430.9,935.1 432.8,938 434.6,944.1 436.4,936.9 438.2,928.3 438.2,952.8 436.4,968.7 434.6,971.6 432.8,966.7 430.9,961 429.1,952.4 427.3,961.4 425.5,964.7 423.7,964.1 421.9,955.5 420,954.3 418.2,970 416.4,963.4 414.6,972.3 412.8,969.4 411,975.1 409.1,969.7 407.3,969 405.5,973 403.7,973.9 401.9,971.2 400.1,963.8 398.3,964.1 396.4,972.1 394.6,964 392.8,965.9 391,964 389.2,962.7 387.4,955.9 385.5,954.6 383.7,960.1 381.9,960.2 380.1,972.7 378.3,971.2 376.5,968.9 374.6,967.8 372.8,974.5 371,975.9 369.2,976.3 367.4,985.3 365.6,970.3 363.7,979.6 361.9,974.1 360.1,976.8 358.3,981.7 356.5,979 354.7,959.8 352.9,903 351,942.4 349.2,966.1 347.4,963.2 345.6,957 343.8,961.5 342,961.6 340.1,961.9 338.3,961.3 336.5,962.1 334.7,959.3 332.9,963.3 331.1,968.2 329.2,961.7 327.4,958 325.6,959.8 323.8,960.4Z" fill="#f9d0c4" stroke="#f9d0c4" stroke-width="0.5" stroke-linejoin="round"/>
<path d="M461,945.3 462.4,948 463.9,950.3 465.3,949.8 466.8,948.7 468.2,944.2 469.7,942.2 471.1,943.8 472.5,944.5 474,930.6 475.4,941.3 476.9,942.1 478.3,946.8 479.8,943.6 481.2,944.9 482.6,940.4 484.1,948.7 485.5,946.4 487,930.2 488.4,917.7 489.9,844.5 491.3,902.3 492.7,939.2 494.2,958.2 495.6,954.8 497.1,950.8 498.5,954.2 500,956.7 501.4,956.6 502.8,942.9 504.3,950.7 505.7,956.7 507.2,955.6 508.6,954.2 510.1,954.4 511.5,951.4 512.9,953.7 514.4,953.4 515.8,950.4 517.3,950.6 518.7,952.9 520.2,949.9 521.6,948.8 523.1,952.6 524.5,952.5 525.9,948.3 527.4,945.3 528.8,947 530.3,936 531.7,945.6 533.2,943.8 534.6,949.1 536,953.7 537.5,951.7 538.9,949.6 540.4,947.5 541.8,946.1 543.3,940.6 544.7,937.1 546.1,938 547.6,945.4 549,941.5 550.5,919.8 551.9,932.8 553.4,942.9 554.8,947.4 556.2,953.3 557.7,941.4 559.1,941 560.6,944.2 562,947.7 563.5,931.1 564.9,951.1 566.3,945.8 567.8,943.3 569.2,947.8 570.7,951.4 572.1,956.3 573.6,947.4 575,952.3 575,974.6 573.6,975.1 572.1,977.5 570.7,969.8 569.2,966.5 567.8,965.6 566.3,968.3 564.9,972 563.5,973.7 562,971.4 560.6,965.1 559.1,964.2 557.7,970.5 556.2,973.3 554.8,970.1 553.4,962.6 551.9,955.5 550.5,953.1 549,968.6 547.6,973.5 546.1,963.9 544.7,957.7 543.3,963.4 541.8,969.4 540.4,964.8 538.9,973.5 537.5,971.6 536,973.6 534.6,965.5 533.2,962.4 531.7,966.2 530.3,969.1 528.8,971.8 527.4,969.5 525.9,973.5 524.5,972.1 523.1,969.9 521.6,971.7 520.2,968.1 518.7,974.8 517.3,976.2 515.8,975 514.4,972.2 512.9,971.7 511.5,973.6 510.1,976.6 508.6,979.1 507.2,976.8 505.7,980.2 504.3,975.2 502.8,970.6 501.4,976.3 500,980 498.5,974.8 497.1,974.1 495.6,980.6 494.2,982.5 492.7,964.5 491.3,941.7 489.9,893.7 488.4,954.6 487,964.2 485.5,975.4 484.1,969 482.6,968.7 481.2,966 479.8,966.8 478.3,968.9 476.9,967.1 475.4,959.9 474,962.6 472.5,975.1 471.1,965.5 469.7,960.5 468.2,967.9 466.8,980.4 465.3,968.4 463.9,969.6 462.4,967.7 461,965.3Z" fill="#f9d0c4" stroke="#f9d0c4" stroke-width="0.5" stroke-linejoin="round"/>
<path d="M594.7,948 595.9,942 597.1,943.8 598.3,951.7 599.5,934 600.7,944.7 601.9,943 603.1,947.4 604.4,947.4 605.6,945.5 606.8,948.1 608,946.4 609.2,948.5 610.4,944.9 611.6,939.7 612.8,934.9 614,939.7 615.2,945.6 616.4,917 617.6,932.3 618.8,932.5 620,925.1 621.2,898.8 622.4,881.8 623.7,836 624.9,844.6 626.1,848.5 627.3,902.4 628.5,947.5 629.7,961.8 630.9,956 632.1,952.6 633.3,951.1 634.5,954.1 635.7,946.9 636.9,942 638.1,939.4 639.3,951 640.5,944.6 641.7,908.3 643,933.5 644.2,944.9 645.4,952.7 646.6,952.1 647.8,950.6 649,943.1 650.2,941.7 651.4,944.6 652.6,943.4 653.8,948 655,942.1 656.2,943.5 657.4,949.5 658.6,948.5 659.8,948.7 661,946 662.3,943.8 663.5,938 664.7,943.1 665.9,940.4 667.1,952.4 668.3,949.7 669.5,948.1 670.7,957.6 671.9,951.4 673.1,950 674.3,949.9 675.5,951.6 676.7,955.4 677.9,945.5 679.1,939.2 680.3,934.6 681.6,933.7 682.8,941.3 684,946 685.2,950.1 686.4,956.1 687.6,950.8 688.8,950.6 690,946.9 691.2,954.3 692.4,957.2 693.6,929.9 694.8,944.8 696,950.6 697.2,954.8 698.4,951.6 699.6,947.6 700.9,944.9 702.1,953 703.3,941.1 704.5,925.6 705.7,915.6 706.9,950.8 708.1,949.1 709.3,957.4 709.3,980.4 708.1,980.8 706.9,979.3 705.7,964.4 704.5,952.9 703.3,969.9 702.1,975.9 700.9,972.7 699.6,978.7 698.4,994 697.2,995.8 696,986.3 694.8,973.1 693.6,991.4 692.4,984 691.2,985.6 690,974 688.8,973.5 687.6,976.6 686.4,980.6 685.2,979.3 684,976 682.8,968.1 681.6,964.6 680.3,960.6 679.1,972 677.9,975.6 676.7,983.8 675.5,974 674.3,975.8 673.1,973.9 671.9,975.2 670.7,979.8 669.5,980.3 668.3,970.7 667.1,975.9 665.9,976 664.7,978 663.5,965.6 662.3,965.6 661,967.8 659.8,977.3 658.6,975.2 657.4,970.2 656.2,965.8 655,964.7 653.8,975.3 652.6,977.2 651.4,969.8 650.2,960.2 649,968 647.8,978.7 646.6,977.4 645.4,976 644.2,964.2 643,960.7 641.7,949.7 640.5,968.6 639.3,971.9 638.1,967.7 636.9,968.3 635.7,975.4 634.5,982.7 633.3,978.4 632.1,980.5 630.9,981.1 629.7,995 628.5,975.8 627.3,949.9 626.1,903.6 624.9,901.5 623.7,901.3 622.4,930.1 621.2,953.2 620,961.4 618.8,966.6 617.6,964.5 616.4,959.3 615.2,974 614,971.5 612.8,967.7 611.6,969.7 610.4,970.2 609.2,973.3 608,972.2 606.8,969.7 605.6,970 604.4,973.1 603.1,971.9 601.9,964.8 600.7,964.2 599.5,972.1 598.3,973.6 597.1,964.9 595.9,967.5 594.7,971.4Z" fill="#c9c9c9" stroke="#c9c9c9" stroke-width="0.5" stroke-linejoin="round"/>
<line x1="25" y1="955.5" x2="706" y2="955.5" stroke="#1d1d1b" stroke-width="1.5" stroke-dasharray="4 3.2"/>
<path d="M27.3,955.4 29.1,957.7 31,964.2 32.8,956.5 34.6,955.5 36.5,959 38.3,959.5 40.2,957.4 42,954.4 43.8,954.2 45.7,938.1 47.5,938.7 49.3,941.5 51.2,954 53,946.6 54.8,915.2 56.7,878.5 58.5,880.5 60.4,918.3 62.2,973.5 64,969.4 65.9,962.4 67.7,959.2 69.5,959.7 71.4,947.8 73.2,947.6 75,941.5 76.9,956.5 78.7,958.1 80.6,964.9 82.4,959.5 84.2,953 86.1,951.6 87.9,962 89.7,963.6 91.6,950.6 93.4,934.7 95.3,935.9 97.1,958.4 98.9,959.6 100.8,960 102.6,951.8 104.4,957.9 106.3,961.1 108.1,965.8 109.9,957.1 111.8,953.4 113.6,938.3 115.5,931.1 117.3,947 119.1,961.5 121,962.3 122.8,952.3 124.6,956 126.5,964.3 128.3,964.4 130.1,963.7 132,954.3 133.8,957.6 135.7,961 137.5,949.2 139.3,955.9 141.2,969.6 143,977" fill="none" stroke="#1d1d1b" stroke-width="2" stroke-linejoin="miter"/>
<path d="M188.5,962.8 190.3,954.9 192.1,950.7 194,951.8 195.8,956.9 197.6,944.1 199.4,938.1 201.2,943.2 203,939.3 204.9,947.8 206.7,942.3 208.5,949 210.3,949.6 212.1,942.2 213.9,934.5 215.8,896.8 217.6,878.5 219.4,952 221.2,959.1 223,966.5 224.8,957 226.7,947.1 228.5,948.3 230.3,942.6 232.1,945.2 233.9,955.6 235.8,953.2 237.6,947 239.4,941 241.2,940.3 243,948.4 244.8,954.2 246.7,946.8 248.5,944.7 250.3,949.5 252.1,953.4 253.9,957.2 255.7,946 257.6,936.9 259.4,942.3 261.2,946.8 263,955.2 264.8,957.1 266.7,954.1 268.5,957.9 270.3,956.7 272.1,946 273.9,943.4 275.7,932.3 277.6,940 279.4,946.9 281.2,947.1 283,951.5 284.8,949.3 286.6,949.6 288.5,941.4 290.3,949.7 292.1,961.1 293.9,961.4 295.7,961.3 297.5,963.1 299.4,964.9 301.2,962.5 303,959.5" fill="none" stroke="#e1302f" stroke-width="2" stroke-linejoin="miter"/>
<path d="M323.8,955.5 325.6,956.7 327.4,954.1 329.2,958 331.1,954.8 332.9,959.9 334.7,956 336.5,955.1 338.3,956.7 340.1,951 342,957.7 343.8,955 345.6,953.2 347.4,958.2 349.2,954.7 351,932.8 352.9,891.5 354.7,948.2 356.5,963.4 358.3,966.5 360.1,961.8 361.9,959.7 363.7,956.7 365.6,957.5 367.4,961.1 369.2,963.6 371,960.9 372.8,957.5 374.6,955.5 376.5,955.4 378.3,957.9 380.1,953.3 381.9,946.4 383.7,942.3 385.5,939.8 387.4,939.6 389.2,946.8 391,951.6 392.8,951.2 394.6,948 396.4,943.4 398.3,948 400.1,950.9 401.9,953.8 403.7,953.2 405.5,952.5 407.3,953.4 409.1,951 411,961.8 412.8,956.1 414.6,956.4 416.4,952.5 418.2,953.4 420,942.4 421.9,945.2 423.7,950.7 425.5,951.5 427.3,947.7 429.1,940.9 430.9,947.3 432.8,953.5 434.6,956.6 436.4,951 438.2,943.3" fill="none" stroke="#e1302f" stroke-width="2" stroke-linejoin="miter"/>
<path d="M461,954.8 462.4,956.7 463.9,959.4 465.3,958 466.8,956.3 468.2,953.7 469.7,950.9 471.1,953.8 472.5,956 474,952.6 475.4,950.4 476.9,954.8 478.3,957 479.8,954.7 481.2,953.1 482.6,954 484.1,957.9 485.5,962.1 487,955.1 488.4,941.1 489.9,880.5 491.3,926.7 492.7,951.4 494.2,970.5 495.6,965.5 497.1,962.3 498.5,963 500,965.3 501.4,963.3 502.8,958.9 504.3,960.6 505.7,964.3 507.2,966.2 508.6,964.7 510.1,963.1 511.5,963.6 512.9,961.4 514.4,959.9 515.8,961.8 517.3,961.7 518.7,962.3 520.2,959.7 521.6,957.1 523.1,959.7 524.5,960.3 525.9,959.8 527.4,956.9 528.8,956.7 530.3,958 531.7,954.9 533.2,952.2 534.6,955.4 536,960.7 537.5,961 538.9,959 540.4,954.9 541.8,953.1 543.3,950.3 544.7,947.9 546.1,948.2 547.6,956.2 549,951.9 550.5,939.8 551.9,943.3 553.4,952.8 554.8,958.2 556.2,961 557.7,955.4 559.1,950.5 560.6,953.8 562,955 563.5,957.1 564.9,960.1 566.3,956.3 567.8,952.8 569.2,956 570.7,960.4 572.1,961.9 573.6,958 575,960.6" fill="none" stroke="#e1302f" stroke-width="2" stroke-linejoin="miter"/>
<path d="M594.7,958.9 595.9,953.3 597.1,954.1 598.3,961.7 599.5,958 600.7,954.9 601.9,956.3 603.1,959.5 604.4,961 605.6,959.3 606.8,958.8 608,958.7 609.2,960.3 610.4,960.1 611.6,956.1 612.8,951.2 614,958.8 615.2,959.3 616.4,947 617.6,946.6 618.8,954.1 620,951 621.2,938.2 622.4,914.8 623.7,887 624.9,886.9 626.1,888.5 627.3,936.1 628.5,958.7 629.7,973.5 630.9,968 632.1,961.2 633.3,960.7 634.5,966.1 635.7,960.5 636.9,952.3 638.1,953.3 639.3,959.5 640.5,956.1 641.7,940.3 643,944.8 644.2,955.4 645.4,963.2 646.6,964 647.8,963.6 649,956.7 650.2,950.1 651.4,956 652.6,963.4 653.8,960 655,953.8 656.2,954.3 657.4,958.4 658.6,961.3 659.8,959 661,955.9 662.3,953.3 663.5,950.4 664.7,957.2 665.9,964.4 667.1,962.3 668.3,958.9 669.5,960.7 670.7,966.6 671.9,963.3 673.1,959.2 674.3,958.1 675.5,960.8 676.7,963.8 677.9,956.1 679.1,950 680.3,945.5 681.6,945.7 682.8,951.7 684,957.5 685.2,960.2 686.4,964.7 687.6,963.5 688.8,958.9 690,955.1 691.2,963.3 692.4,966.4 693.6,961.9 694.8,956.7 696,961.4 697.2,963.8 698.4,963.2 699.6,957.9 700.9,955.7 702.1,961.2 703.3,952.7 704.5,934.5 705.7,949.6 706.9,960.3 708.1,961.6 709.3,965.5" fill="none" stroke="#1d1d1b" stroke-width="2" stroke-linejoin="miter"/>
<line x1="55" y1="1018" x2="55" y2="1042" stroke="#1d1d1b" stroke-width="1.8"/>
<text x="58.3" y="1068" font-size="20.9" fill="#1d1d1b" text-anchor="middle">ISO</text>
<line x1="214" y1="1018" x2="214" y2="1042" stroke="#1d1d1b" stroke-width="1.8"/>
<text x="217.3" y="1068" font-size="20.9" fill="#1d1d1b" text-anchor="middle">ISO</text>
<line x1="350" y1="1018" x2="350" y2="1042" stroke="#1d1d1b" stroke-width="1.8"/>
<text x="353.3" y="1068" font-size="20.9" fill="#1d1d1b" text-anchor="middle">ISO</text>
<line x1="487" y1="1018" x2="487" y2="1042" stroke="#1d1d1b" stroke-width="1.8"/>
<text x="490.3" y="1068" font-size="20.9" fill="#1d1d1b" text-anchor="middle">ISO</text>
<line x1="622" y1="1018" x2="622" y2="1042" stroke="#1d1d1b" stroke-width="1.8"/>
<text x="625.3" y="1068" font-size="20.9" fill="#1d1d1b" text-anchor="middle">ISO</text>
<line x1="672" y1="1039.3" x2="728.9" y2="1039.3" stroke="#1d1d1b" stroke-width="1.8"/>
<line x1="728" y1="994" x2="728" y2="1039.3" stroke="#1d1d1b" stroke-width="1.8"/>
<text transform="translate(757 1040) rotate(-90)" font-size="20.9" fill="#1d1d1b">50 %</text>
<text x="670" y="1066" font-size="20.9" fill="#1d1d1b">10 min</text>
<text x="790" y="728" font-size="27" fill="#1d1d1b" font-weight="700">e</text>
<text x="813" y="728" font-size="20.8" fill="#1d1d1b" font-weight="700">Calcium response</text>
<text x="811" y="763.5" font-size="20.9" fill="#1d1d1b">p &gt; 0.66</text>
<line x1="823" y1="781" x2="891.5" y2="781" stroke="#1d1d1b" stroke-width="1.5"/>
<circle cx="846" cy="770.5" r="2" fill="#1d1d1b"/>
<rect x="813.5" y="856.5" width="20.9" height="123.5" fill="#1d1d1b"/>
<rect x="836.4" y="864" width="20.9" height="116" fill="#e1302f"/>
<rect x="859.4" y="871" width="20.9" height="109" fill="#e1302f"/>
<rect x="882.3" y="855" width="20.9" height="125" fill="#e1302f"/>
<rect x="905.5" y="863" width="20.9" height="117" fill="#1d1d1b"/>
<line x1="823.9" y1="796.4" x2="823.9" y2="918" stroke="#1d1d1b" stroke-width="2.8"/>
<line x1="817.6" y1="796.4" x2="830.2" y2="796.4" stroke="#1d1d1b" stroke-width="2.4"/>
<line x1="846.8" y1="792" x2="846.8" y2="864" stroke="#e1302f" stroke-width="1.6"/>
<line x1="840.5" y1="792" x2="853.1" y2="792" stroke="#e1302f" stroke-width="1.8"/>
<line x1="869.8" y1="850" x2="869.8" y2="871" stroke="#e1302f" stroke-width="1.6"/>
<line x1="863.5" y1="850" x2="876.1" y2="850" stroke="#e1302f" stroke-width="1.8"/>
<line x1="892.7" y1="818" x2="892.7" y2="855" stroke="#e1302f" stroke-width="1.6"/>
<line x1="886.4" y1="818" x2="899" y2="818" stroke="#e1302f" stroke-width="1.8"/>
<line x1="915.9" y1="844.8" x2="915.9" y2="863" stroke="#1d1d1b" stroke-width="2.8"/>
<line x1="909.6" y1="844.8" x2="922.2" y2="844.8" stroke="#1d1d1b" stroke-width="2.4"/>
<circle cx="823.8" cy="802" r="2" fill="#c4322b"/>
<circle cx="823.8" cy="813.5" r="2" fill="#c4322b"/>
<circle cx="823.8" cy="877" r="2.2" fill="#c4322b"/>
<circle cx="823.8" cy="931.5" r="2.4" fill="#c4322b"/>
<circle cx="846.7" cy="825.5" r="1.9" fill="#1d1d1b"/>
<circle cx="846.7" cy="868.5" r="1.7" fill="#1d1d1b"/>
<circle cx="846.7" cy="891.5" r="1.6" fill="#1d1d1b"/>
<circle cx="846.7" cy="963.5" r="1.6" fill="#1d1d1b"/>
<circle cx="869.7" cy="844.5" r="1.8" fill="#1d1d1b"/>
<circle cx="869.7" cy="856" r="1.8" fill="#1d1d1b"/>
<circle cx="868.2" cy="879" r="1.9" fill="#1d1d1b"/>
<circle cx="871.7" cy="879.3" r="2.3" fill="#1d1d1b"/>
<circle cx="869.7" cy="899.5" r="1.7" fill="#1d1d1b"/>
<circle cx="895.1" cy="825.3" r="2.3" fill="#1d1d1b"/>
<circle cx="891.1" cy="825.5" r="1.9" fill="#1d1d1b"/>
<circle cx="892.6" cy="837" r="1.9" fill="#1d1d1b"/>
<circle cx="892.6" cy="851.5" r="1.9" fill="#1d1d1b"/>
<circle cx="892.6" cy="871.5" r="1.9" fill="#1d1d1b"/>
<circle cx="892.6" cy="923" r="1.8" fill="#1d1d1b"/>
<circle cx="915.8" cy="839.5" r="1.9" fill="#c4322b"/>
<circle cx="915.8" cy="851" r="2" fill="#c4322b"/>
<circle cx="915.8" cy="863" r="2" fill="#c4322b"/>
<circle cx="915.8" cy="874" r="2" fill="#c4322b"/>
<circle cx="915.8" cy="883" r="2" fill="#c4322b"/>
<line x1="944.6" y1="898" x2="944.6" y2="980.5" stroke="#1d1d1b" stroke-width="1.6"/>
<text transform="translate(977 980.5) rotate(-90)" font-size="25.5" fill="#1d1d1b">50 %</text>
<text transform="translate(828.3 1029) rotate(-90)" font-size="20.9" fill="#1d1d1b" word-spacing="0.6">0 h</text>
<text transform="translate(851.2 1029) rotate(-90)" font-size="20.9" fill="#1d1d1b" word-spacing="0.6">1 h</text>
<text transform="translate(874.2 1029) rotate(-90)" font-size="20.9" fill="#1d1d1b" word-spacing="0.6">3 h</text>
<text transform="translate(897.1 1029) rotate(-90)" font-size="20.9" fill="#1d1d1b" word-spacing="0.6">6 h</text>
<text transform="translate(920.3 1029) rotate(-90)" font-size="20.9" fill="#1d1d1b" word-spacing="-1.5">24 h</text>
<text x="825.5" y="1066.5" font-size="20.9" fill="#1d1d1b">Amplitude</text>
<text x="3" y="1143" font-size="27" fill="#1d1d1b" font-weight="700">f</text>
<text x="25" y="1143" font-size="20.8" fill="#1d1d1b" font-weight="700">Neuronal calcium response</text>
<text x="25" y="1180" font-size="20.9" fill="#1d1d1b">N = 3, n = 6</text>
<text x="302" y="1180" font-size="20.9" fill="#1d1d1b">0 h</text>
<text x="302" y="1218" font-size="20.9" fill="#e1302f">6 h</text>
<rect x="54.6" y="1223.5" width="18.2" height="289" fill="#d6e9cd"/>
<path d="M25,1387 25.2,1387 25.4,1387.9 25.5,1385 25.7,1390.9 25.9,1389.7 26.1,1388.7 26.3,1398.6 26.4,1388 26.6,1385.8 26.8,1390.5 27,1388.9 27.2,1382.7 27.3,1386.4 27.5,1389.3 27.7,1397.3 27.9,1390.8 28.1,1387.7 28.2,1387.5 28.4,1396.8 28.6,1385.4 28.8,1387.5 29,1391 29.1,1376.6 29.3,1383.6 29.5,1394 29.7,1396.7 29.9,1408.8 30,1395.7 30.2,1397.4 30.4,1398.8 30.6,1388.3 30.8,1401.5 30.9,1393.2 31.1,1405.9 31.3,1400.2 31.5,1401.5 31.7,1386.9 31.8,1378.2 32,1385.7 32.2,1382.7 32.4,1388 32.6,1384.6 32.7,1390.7 32.9,1398.3 33.1,1403.4 33.3,1392.4 33.5,1378.1 33.6,1376.2 33.8,1384.1 34,1374.4 34.2,1377.5 34.4,1378.9 34.5,1381.3 34.7,1386.7 34.9,1391.2 35.1,1400.2 35.3,1393.8 35.4,1393.5 35.6,1384.1 35.8,1387.5 36,1399.9 36.2,1394.4 36.3,1380.4 36.5,1384.1 36.7,1390.4 36.9,1396.4 37.1,1396.9 37.2,1391.3 37.4,1395.8 37.6,1379.5 37.8,1380.8 38,1381.5 38.1,1376.7 38.3,1373.7 38.5,1382.1 38.7,1382.2 38.9,1383 39,1383.6 39.2,1391.6 39.4,1385.1 39.6,1382.9 39.8,1383.3 39.9,1390.4 40.1,1388.2 40.3,1389.6 40.5,1389.7 40.7,1383.6 40.8,1376.8 41,1377.5 41.2,1379.9 41.4,1379.7 41.6,1383.6 41.7,1386.5 41.9,1393 42.1,1391.2 42.3,1379.5 42.5,1378.2 42.6,1387 42.8,1390.6 43,1396.2 43.2,1390.6 43.4,1388.4 43.6,1396.7 43.7,1391.5 43.9,1396.7 44.1,1386.8 44.3,1389.3 44.5,1383.4 44.6,1392.4 44.8,1397.7 45,1395 45.2,1389.7 45.4,1389.2 45.5,1395 45.7,1391.7 45.9,1390.5 46.1,1391.8 46.3,1394.5 46.4,1382.9 46.6,1387.5 46.8,1391.6 47,1390.6 47.2,1390.7 47.3,1392.2 47.5,1388.5 47.7,1385.8 47.9,1387 48.1,1382.3 48.2,1385.4 48.4,1392.2 48.6,1392.6 48.8,1395.5 49,1392.3 49.1,1399.6 49.3,1407.8 49.5,1398.9 49.7,1402.2 49.9,1409.6 50,1400.7 50.2,1397.3 50.4,1391.9 50.6,1395.8 50.8,1399.5 50.9,1403.6 51.1,1401.3 51.3,1397 51.5,1397.2 51.7,1395.3 51.8,1399.4 52,1394 52.2,1402 52.4,1396.7 52.6,1389.5 52.7,1382.6 52.9,1375.7 53.1,1390.8 53.3,1381.9 53.5,1374.4 53.6,1370.8 53.8,1378.1 54,1370.8 54.2,1357.8 54.4,1367.3 54.5,1358 54.7,1349.8 54.9,1355.6 55.1,1348.6 55.3,1348.6 55.4,1342.4 55.6,1334.1 55.8,1324 56,1314.3 56.2,1298.6 56.3,1294 56.5,1283.2 56.7,1265.8 56.9,1256.9 57.1,1263.5 57.2,1263.3 57.4,1273.9 57.6,1276.9 57.8,1281.4 58,1277.6 58.1,1281.7 58.3,1294.7 58.5,1299.8 58.7,1289.3 58.9,1289.7 59,1285.9 59.2,1288.8 59.4,1298.4 59.6,1293.8 59.8,1301.7 59.9,1313.7 60.1,1294.4 60.3,1306.2 60.5,1299.5 60.7,1295.9 60.8,1299.5 61,1312.5 61.2,1303.5 61.4,1315.5 61.6,1320.3 61.7,1318.7 61.9,1310.3 62.1,1308.6 62.3,1304.3 62.5,1312.1 62.6,1317.3 62.8,1327.8 63,1328.1 63.2,1325.7 63.4,1331.6 63.5,1329.7 63.7,1336.6 63.9,1338.7 64.1,1334.4 64.3,1336.2 64.4,1332.7 64.6,1336.7 64.8,1328.8 65,1337.9 65.2,1344.2 65.3,1354.4 65.5,1349.9 65.7,1348.2 65.9,1356.5 66.1,1356.1 66.2,1351.5 66.4,1354.4 66.6,1358.7 66.8,1354.4 67,1355.8 67.1,1355.7 67.3,1354.1 67.5,1350.3 67.7,1359.3 67.9,1363.8 68,1365 68.2,1369.2 68.4,1381.7 68.6,1370.9 68.8,1371 68.9,1370.8 69.1,1380.4 69.3,1373.3 69.5,1379.3 69.7,1380.1 69.8,1389.4 70,1383.7 70.2,1383.8 70.4,1382.5 70.6,1382 70.7,1383.7 70.9,1379.6 71.1,1386.9 71.3,1395.5 71.5,1396.3 71.6,1398 71.8,1394.4 72,1396.8 72.2,1413.2 72.4,1408.4 72.5,1398.1 72.7,1403 72.9,1408.8 73.1,1408.1 73.3,1413 73.4,1409.9 73.6,1414.2 73.8,1409.9 74,1413.3 74.2,1420.7 74.3,1418.5 74.5,1415.1 74.7,1426.8 74.9,1431.6 75.1,1445 75.2,1432.7 75.4,1438 75.6,1451.4 75.8,1457.9 76,1451.1 76.1,1438.5 76.3,1440.2 76.5,1444.2 76.7,1461 76.9,1477.4 77,1469.8 77.2,1460 77.4,1452.6 77.6,1439.6 77.8,1445.2 77.9,1445.9 78.1,1436.7 78.3,1430.4 78.5,1435.3 78.7,1429.2 78.8,1439.1 79,1437.2 79.2,1440.7 79.4,1450.2 79.6,1444 79.8,1436.9 79.9,1439.1 80.1,1438.9 80.3,1431.2 80.5,1444 80.7,1448.1 80.8,1447.9 81,1450.8 81.2,1439.3 81.4,1442.3 81.6,1449.8 81.7,1451.4 81.9,1431.5 82.1,1441.8 82.3,1446.6 82.5,1442.1 82.6,1437.4 82.8,1438.4 83,1445.4 83.2,1450.8 83.4,1444.7 83.5,1442.5 83.7,1453.7 83.9,1442.2 84.1,1438.4 84.3,1445.7 84.4,1446.4 84.6,1445 84.8,1448.8 85,1455.1 85.2,1450.7 85.3,1456.7 85.5,1449.1 85.7,1454.2 85.9,1449.4 86.1,1450.8 86.2,1439.6 86.4,1454.9 86.6,1471.4 86.8,1481.9 87,1492.5 87.1,1487.3 87.3,1471 87.5,1449.3 87.7,1433.8 87.9,1441.4 88,1426 88.2,1420 88.4,1431.9 88.6,1453 88.8,1446.6 88.9,1443.2 89.1,1456.1 89.3,1447.5 89.5,1446.7 89.7,1450.7 89.8,1442 90,1437 90.2,1441.7 90.4,1440.4 90.6,1443.4 90.7,1446.3 90.9,1446 91.1,1440.4 91.3,1445 91.5,1454.9 91.6,1444.4 91.8,1449.5 92,1443.9 92.2,1434.6 92.4,1438.8 92.5,1446.5 92.7,1452.7 92.9,1441.1 93.1,1439.3 93.3,1436.7 93.4,1431.4 93.6,1435 93.8,1440.7 94,1447.3 94.2,1462.4 94.3,1460.1 94.5,1452 94.7,1449.9 94.9,1445.7 95.1,1446.2 95.2,1445.4 95.4,1441.2 95.6,1444.9 95.8,1444.3 96,1452.8 96.1,1441.4 96.3,1438.4 96.5,1434.6 96.7,1427.3 96.9,1428.3 97,1436.5 97.2,1434.6 97.4,1446 97.6,1443.1 97.8,1443.7 97.9,1452.6 98.1,1443.4 98.3,1452 98.5,1451 98.7,1464.2 98.8,1470.4 99,1468.6 99.2,1467 99.4,1460 99.6,1446.6 99.7,1431.7 99.9,1431.5 100.1,1433.2 100.3,1430.1 100.5,1445.9 100.6,1445.5 100.8,1448.1 101,1443.2 101.2,1444.9 101.4,1445.8 101.5,1442.5 101.7,1444.7 101.9,1438.8 102.1,1439.4 102.3,1438.5 102.4,1438.9 102.6,1430.2 102.8,1429.8 103,1424.6 103.2,1423.1 103.3,1431.9 103.5,1426.7 103.7,1423.8 103.9,1422.9 104.1,1426.8 104.2,1427.8 104.4,1420.4 104.6,1414.1 104.8,1423.7 105,1420.9 105.1,1424.7 105.3,1421.5 105.5,1421.2 105.7,1416.9 105.9,1439.6 106,1436.1 106.2,1437.1 106.4,1430.5 106.6,1431 106.8,1431.8 106.9,1424.5 107.1,1413.1 107.3,1434.8 107.5,1430.7 107.7,1426.8 107.8,1428 108,1430.4 108.2,1438.9 108.4,1440.7 108.6,1430.6 108.7,1426.2 108.9,1429.8 109.1,1434.4 109.3,1432.5 109.5,1432.8 109.6,1430.1 109.8,1431.4 110,1435.5 110.2,1429.7 110.4,1435.2 110.5,1429.3 110.7,1421.8 110.9,1430.3 111.1,1425 111.3,1432.8 111.4,1423.8 111.6,1416.8 111.8,1422.9 112,1417.6 112.2,1424.5 112.3,1430.3 112.5,1432.2 112.7,1428.5 112.9,1426.7 113.1,1425.3 113.2,1428.9 113.4,1423.6 113.6,1421.8 113.8,1426.5 114,1432 114.1,1421.4 114.3,1415.7 114.5,1417.8 114.7,1424.8 114.9,1420.9 115.1,1411.5 115.2,1426.9 115.4,1420.5 115.6,1419.3 115.8,1424.8 116,1421 116.1,1426.9 116.3,1421.5 116.5,1415.9 116.7,1419.4 116.9,1427.4 117,1436.6 117.2,1437 117.4,1439 117.6,1421.3 117.8,1422.5 117.9,1428.8 118.1,1431 118.3,1429.6 118.5,1426.2 118.7,1430.8 118.8,1412.4 119,1417.4 119.2,1422.4 119.4,1420.5 119.6,1412 119.7,1406.3 119.9,1415.6 120.1,1415.9 120.3,1417.1 120.5,1414 120.6,1412.4 120.8,1421.6 121,1427.3 121.2,1421.9 121.4,1427.7 121.5,1417.2 121.7,1417.1 121.9,1423.4 122.1,1421.5 122.3,1419.8 122.4,1418.7 122.6,1410.8 122.8,1421.7 123,1429.3 123.2,1420 123.3,1418.7 123.5,1418.3 123.7,1412.8 123.9,1414.7 124.1,1411.9 124.2,1422.5 124.4,1420.2 124.6,1423 124.8,1424.9 125,1415 125.1,1411.8 125.3,1423.2 125.5,1427.1 125.7,1419.4 125.9,1409.7 126,1416.5 126.2,1416.7 126.4,1423.5 126.6,1404.3 126.8,1404.1 126.9,1404.6 127.1,1403.2 127.3,1404 127.5,1406.1 127.7,1413.1 127.8,1409.8 128,1412.5 128.2,1405.5 128.4,1413.9 128.6,1413.6 128.7,1407.8 128.9,1402.2 129.1,1405.1 129.3,1410.9 129.5,1411.3 129.6,1415.2 129.8,1403.8 130,1402.7 130.2,1398.9 130.4,1402.4 130.5,1409.6 130.7,1402.4 130.9,1397.3 131.1,1400.1 131.3,1402.9 131.4,1397.7 131.6,1402.4 131.8,1400.1 132,1407 132.2,1413.8 132.3,1406.2 132.5,1405.3 132.7,1397.6 132.9,1405.9 133.1,1407.4 133.2,1418.3 133.4,1428.1 133.6,1429.4 133.8,1417.8 134,1421.3 134.1,1412.2 134.3,1401.9 134.5,1406.1 134.7,1396.9 134.9,1402.7 135,1398.6 135.2,1403 135.4,1400 135.6,1409.4 135.8,1405.7 135.9,1408.7 136.1,1409.2 136.3,1405.3 136.5,1407.9 136.7,1411.8 136.8,1406.1 137,1401 137.2,1411 137.4,1403.4 137.6,1401.1 137.7,1407.8 137.9,1404.1 138.1,1412.6 138.3,1398.4 138.5,1404.5 138.6,1406.4 138.8,1400.2 139,1405.4 139.2,1401.8 139.4,1413.2 139.5,1412.6 139.7,1416.5 139.9,1411.9 140.1,1400.7 140.3,1397.4 140.4,1394 140.6,1402.4 140.8,1406.1 141,1405.4 141.2,1400.5 141.3,1400.2 141.5,1400.7 141.7,1398.8 141.9,1400.5 142.1,1400.3 142.2,1394.1 142.4,1401.1 142.6,1400.4 142.8,1392.4 143,1395.2 143.1,1394.2 143.3,1401 143.5,1393.1 143.7,1410.6 143.9,1415.7 144,1417.1 144.2,1399.6 144.4,1396.8 144.6,1401.1 144.8,1410.7 144.9,1404.5 145.1,1403.7 145.3,1407.1 145.5,1415.7 145.7,1414.8 145.8,1405.3 146,1403.1 146.2,1400.9 146.4,1394.5 146.6,1385 146.7,1357.7 146.9,1342.3 147.1,1340.1 147.3,1357.1 147.5,1383.8 147.6,1406.3 147.8,1405.1 148,1406.5 148.2,1410.2 148.4,1426.2 148.5,1418 148.7,1408.3 148.9,1401.5 149.1,1408.7 149.3,1411.8 149.4,1411.1 149.6,1399.3 149.8,1408.9 150,1406.2 150.2,1409.8 150.3,1405 150.5,1410.4 150.7,1402.1 150.9,1402.7 151.1,1402.7 151.3,1399.4 151.4,1393 151.6,1406.8 151.8,1398.8 152,1395.8 152.2,1401.5 152.3,1394.7 152.5,1396.2 152.7,1391.4 152.9,1398.6 153.1,1405.6 153.2,1395.1 153.4,1386 153.6,1386.8 153.8,1384.3 154,1388 154.1,1387.9 154.3,1375.7 154.5,1353.2 154.7,1351.7 154.9,1341.2 155,1344.9 155.2,1342.9 155.4,1344.7 155.6,1368.1 155.8,1382 155.9,1383 156.1,1390.3 156.3,1404.3 156.5,1412.5 156.7,1420.9 156.8,1407.2 157,1408.3 157.2,1399.9 157.4,1394.7 157.6,1400.8 157.7,1401.3 157.9,1393.7 158.1,1395.3 158.3,1394.6 158.5,1405.5 158.6,1395.5 158.8,1400.8 159,1411.5 159.2,1406.3 159.4,1398.4 159.5,1383.8 159.7,1391.3 159.9,1400.8 160.1,1384.4 160.3,1386.8 160.4,1389.5 160.6,1395.8 160.8,1399.6 161,1387.1 161.2,1390.9 161.3,1397.3 161.5,1400.6 161.7,1387.1 161.9,1394.1 162.1,1394.9 162.2,1395 162.4,1394.7 162.6,1402.9 162.8,1393.4 163,1383.4 163.1,1387.7 163.3,1395.9 163.5,1401.2 163.7,1394.6 163.9,1394.1 164,1394.5 164.2,1393.2 164.4,1401.1 164.6,1391.9 164.8,1392.4 164.9,1393.1 165.1,1392 165.3,1387.1 165.5,1389.7 165.7,1398.5 165.8,1388.9 166,1392.8 166.2,1399.2 166.4,1406.2 166.6,1401.9 166.7,1405.6 166.9,1402.5 167.1,1395.4 167.3,1391.7 167.5,1385.9 167.6,1389 167.8,1393.5 168,1399.2 168.2,1398.2 168.4,1392.2 168.5,1392.4 168.7,1395.2 168.9,1390.9 169.1,1392.5 169.3,1397.6 169.4,1406.2 169.6,1398.3 169.8,1397.6 170,1394.6 170.2,1399 170.3,1401.2 170.5,1400.5 170.7,1398.8 170.9,1398.3 171.1,1398.2 171.2,1400.3 171.4,1396.7 171.6,1396.3 171.8,1400.4 172,1394.9 172.1,1391.5 172.3,1387.9 172.5,1394.4 172.7,1397.8 172.9,1405.4 173,1398.7 173.2,1413.2 173.4,1409.4 173.6,1406.6 173.8,1398.4 173.9,1401.3 174.1,1405.7 174.3,1409.8 174.5,1408.2 174.7,1404.1 174.8,1402.6 175,1399.4 175.2,1399.5 175.4,1397.7 175.6,1391.6 175.7,1397.9 175.9,1395.4 176.1,1382.6 176.3,1384.5 176.5,1389.9 176.6,1386.6 176.8,1391.3 177,1390.3 177.2,1378.3 177.4,1370.7 177.5,1387.5 177.7,1379.2 177.9,1366.8 178.1,1377 178.3,1374.6 178.4,1365.1 178.6,1370.9 178.8,1365.2 179,1368.2 179.2,1380.4 179.3,1377 179.5,1380.1 179.7,1376.1 179.9,1368.3 180.1,1373.8 180.2,1382.5 180.4,1382.7 180.6,1384.2 180.8,1382.1 181,1395 181.1,1401.8 181.3,1409.4 181.5,1397.9 181.7,1397.1 181.9,1404.8 182,1407.3 182.2,1403 182.4,1405.2 182.6,1403.6 182.8,1403.1 182.9,1390.4 183.1,1390.6 183.3,1397.8 183.5,1401.9 183.7,1393 183.8,1394.3 184,1394.2 184.2,1389.6 184.4,1382 184.6,1396.1 184.7,1401.4 184.9,1411 185.1,1401.1 185.3,1400.5 185.5,1401.1 185.6,1402.1 185.8,1396.5 186,1400.2 186.2,1400.9 186.4,1393.1 186.5,1398.6 186.7,1407.5 186.9,1389.6 187.1,1397.9 187.3,1401.6 187.5,1403.5 187.6,1402.4 187.8,1395 188,1393.9 188.2,1394 188.4,1400 188.5,1409.5 188.7,1404.3 188.9,1393.4 189.1,1385.3 189.3,1393.3 189.4,1390.8 189.6,1395.1 189.8,1395.8 190,1400.8 190.2,1400.8 190.3,1396.2 190.5,1397.6 190.7,1390.9 190.9,1381.8 191.1,1380.2 191.2,1389.9 191.4,1399.5 191.6,1403.9 191.8,1405.7 192,1401.8 192.1,1396.1 192.3,1397.2 192.5,1395.4 192.7,1393.7 192.9,1398.7 193,1402.1 193.2,1386.9 193.4,1385.9 193.6,1394.2 193.8,1398.9 193.9,1397.7 194.1,1394.2 194.3,1384.8 194.5,1379.3 194.7,1373.1 194.8,1365.9 195,1357.4 195.2,1346.5 195.4,1338.4 195.6,1333.6 195.7,1337.5 195.9,1327.5 196.1,1316.6 196.3,1325.3 196.5,1334.2 196.6,1333 196.8,1344.3 197,1357.6 197.2,1354 197.4,1358.6 197.5,1358.6 197.7,1367 197.9,1365.4 198.1,1366.4 198.3,1363.1 198.4,1358.5 198.6,1354.3 198.8,1358.3 199,1355.4 199.2,1364.1 199.3,1360.9 199.5,1360.7 199.7,1367.4 199.9,1373.5 200.1,1374.3 200.2,1380.3 200.4,1374.8 200.6,1372.1 200.8,1379.4 201,1379.3 201.1,1373.4 201.3,1373.1 201.5,1373 201.7,1381.6 201.9,1385.2 202,1392.9 202.2,1388 202.4,1375.2 202.6,1375.4 202.8,1374.2 202.9,1375.2 203.1,1391 203.3,1389.7 203.5,1392.2 203.7,1381.6 203.8,1376.5 204,1386.5 204.2,1387.4 204.4,1387.5 204.6,1392.1 204.7,1396.6 204.9,1397.4 205.1,1391.1 205.3,1400.2 205.5,1393.4 205.6,1394.7 205.8,1391 206,1384.2 206.2,1394.9 206.4,1399.1 206.5,1395.5 206.7,1401.8 206.9,1401.5 207.1,1398.9 207.3,1398.7 207.4,1403.8 207.6,1401.9 207.8,1396 208,1386.3 208.2,1402.3 208.3,1390.2 208.5,1386.8 208.7,1392.5 208.9,1402.7 209.1,1395.3 209.2,1396 209.4,1391.9 209.6,1387.4 209.8,1392.9 210,1390 210.1,1388.7 210.3,1385 210.5,1378.6 210.7,1375.2 210.9,1384.3 211,1391.3 211.2,1379.5 211.4,1383.2 211.6,1384.6 211.8,1394.3 211.9,1388 212.1,1394.4 212.3,1393.9 212.5,1400.9 212.7,1399.4 212.8,1397.7 213,1406 213.2,1404.4 213.4,1399.8 213.6,1407 213.7,1408.8 213.9,1407.6 214.1,1411.6 214.3,1400.5 214.5,1404.6 214.6,1396.2 214.8,1389.5 215,1400 215.2,1395.8 215.4,1398.1 215.5,1403 215.7,1398.7 215.9,1396.6 216.1,1391.1 216.3,1386.4 216.4,1395.8 216.6,1398.9 216.8,1392.9 217,1386.7 217.2,1406.2 217.3,1394.9 217.5,1395.3 217.7,1388.4 217.9,1391.5 218.1,1398.9 218.2,1396.3 218.4,1392.6 218.6,1395 218.8,1410.3 219,1399.2 219.1,1406.7 219.3,1407.4 219.5,1405.1 219.7,1408.5 219.9,1408.7 220,1406.1 220.2,1407.4 220.4,1403.2 220.6,1400.1 220.8,1406.9 220.9,1402.1 221.1,1394.9 221.3,1389.1 221.5,1391.2 221.7,1389.6 221.8,1385.7 222,1379.4 222.2,1374.6 222.4,1387.2 222.6,1391.2 222.7,1383.2 222.9,1380.7 223.1,1381 223.3,1402.6 223.5,1401.1 223.7,1417.5 223.8,1403.8 224,1399.8 224.2,1397.3 224.4,1397.8 224.6,1388.8 224.7,1394.6 224.9,1391.7 225.1,1391.5 225.3,1390.9 225.5,1386.6 225.6,1392.1 225.8,1400.6 226,1395.3 226.2,1391.4 226.4,1395.8 226.5,1391.9 226.7,1387.5 226.9,1399.7 227.1,1398.6 227.3,1397.2 227.4,1399.2 227.6,1396.4 227.8,1397.2 228,1398.1 228.2,1393.7 228.3,1391.8 228.5,1391.4 228.7,1381 228.9,1389.8 229.1,1391.6 229.2,1402.1 229.4,1397.3 229.6,1390.4 229.8,1389.6 230,1396.5 230.1,1399.6 230.3,1390.3 230.5,1391.8 230.7,1387.2 230.9,1395.4 231,1387.2 231.2,1385.7 231.4,1390.5 231.6,1398.6 231.8,1399.5 231.9,1401.2 232.1,1398.6 232.3,1397 232.5,1397.4 232.7,1393.7 232.8,1386.4 233,1403.4 233.2,1407.3 233.4,1410.7 233.6,1408.8 233.7,1411.2 233.9,1399.8 234.1,1397.8 234.3,1397.9 234.5,1400.7 234.6,1396.1 234.8,1391.8 235,1391.1 235.2,1398.2 235.4,1390.7 235.5,1396.6 235.7,1387.1 235.9,1408.2 236.1,1405.6 236.3,1406.8 236.4,1395.8 236.6,1403.8 236.8,1387.3 237,1400.4 237.2,1386.6 237.3,1390.1 237.5,1391 237.7,1388.5 237.9,1376.3 238.1,1380.1 238.2,1397.1 238.4,1386.9 238.6,1386.6 238.8,1396.9 239,1389.6 239.1,1397.4 239.3,1395.7 239.5,1394.1 239.7,1398.1 239.9,1394.3 240,1400.7 240.2,1395 240.4,1398.2 240.6,1398.7 240.8,1387.4 240.9,1390.9 241.1,1396.9 241.3,1395.5 241.5,1398.7 241.7,1397.7 241.8,1394.8 242,1393.1 242.2,1393.4 242.4,1396.8 242.6,1393.8 242.7,1387.1 242.9,1391.9 243.1,1391.7 243.3,1390.6 243.5,1383.7 243.6,1382.4 243.8,1392.8 244,1393.4 244.2,1402.1 244.4,1403.5 244.5,1397 244.7,1390.1 244.9,1383.2 245.1,1387.3 245.3,1396.5 245.4,1391 245.6,1394.2 245.8,1388.5 246,1389.7 246.2,1387.3 246.3,1383.4 246.5,1383.7 246.7,1391.4 246.9,1386.6 247.1,1393.5 247.2,1393 247.4,1382.2 247.6,1384.5 247.8,1394.9 248,1383.5 248.1,1381.3 248.3,1377.6 248.5,1379.1 248.7,1381.7 248.9,1383.9 249,1385.9 249.2,1375.8 249.4,1383.4 249.6,1383.6 249.8,1384 249.9,1369.1 250.1,1368.2 250.3,1375.7 250.5,1379.3 250.7,1378.6 250.8,1378.9 251,1394.4 251.2,1387 251.4,1391.5 251.6,1395.9 251.7,1397.2 251.9,1391.8 252.1,1384.8 252.3,1388.3 252.5,1389.7 252.6,1396.9 252.8,1395.6 253,1391.2 253.2,1401.6 253.4,1402.5 253.5,1397.2 253.7,1407.8 253.9,1404.7 254.1,1398.3 254.3,1408.5 254.4,1404.1 254.6,1400 254.8,1393.7 255,1401.1 255.2,1391.8 255.3,1392.7 255.5,1386.1 255.7,1384.2 255.9,1386.2 256.1,1388.1 256.2,1400.7 256.4,1403.2 256.6,1402.9 256.8,1398.7 257,1389.1 257.1,1399.1 257.3,1396.5 257.5,1400.4 257.7,1404.7 257.9,1386.5 258,1388.5 258.2,1378.9 258.4,1379.1 258.6,1389.7 258.8,1398.9 258.9,1384.1 259.1,1387.4 259.3,1396.5 259.5,1391.1 259.7,1390.4 259.9,1396.8 260,1395.7 260.2,1392.4 260.4,1395.8 260.6,1393.5 260.8,1398.3 260.9,1399.3 261.1,1396.1 261.3,1396.2 261.5,1390 261.7,1396.4 261.8,1397.2 262,1405.8 262.2,1392 262.4,1400.2 262.6,1398.1 262.7,1405.7 262.9,1402.8 263.1,1395.8 263.3,1407.4 263.5,1402.7 263.6,1411.9 263.8,1398.5 264,1401.4 264.2,1407.4 264.4,1406.5 264.5,1395.7 264.7,1387.8 264.9,1385.1 265.1,1394.6 265.3,1396.4 265.4,1387.7 265.6,1396.2 265.8,1401.9 266,1405.5 266.2,1406.6 266.3,1393.7 266.5,1392.4 266.7,1394.1 266.9,1390.8 267.1,1388.4 267.2,1384.1 267.4,1390 267.6,1395.8 267.8,1402 268,1390.7 268.1,1396.1 268.3,1401.1 268.5,1397.7 268.7,1394.3 268.9,1387 269,1381.9 269.2,1388.6 269.4,1392.7 269.6,1393.7 269.8,1396.5 269.9,1393.5 270.1,1390.1 270.3,1388.9 270.5,1397.8 270.7,1400.7 270.8,1388 271,1394.2 271.2,1385.1 271.4,1383.2 271.6,1389.8 271.7,1397 271.9,1392.5 272.1,1397.4 272.3,1396.8 272.5,1393.2 272.6,1395.8 272.8,1395.3 273,1395.1 273.2,1401.5 273.4,1399.3 273.5,1400.7 273.7,1410 273.9,1404.4 274.1,1401.6 274.3,1402.7 274.4,1410.9 274.6,1398.6 274.8,1394.2 275,1392.3 275.2,1393.8 275.3,1400.8 275.5,1400 275.7,1404.1 275.9,1386.9 276.1,1396.1 276.2,1394.2 276.4,1406.5 276.6,1412.2 276.8,1407.8 277,1399.6 277.1,1397.7 277.3,1398.1 277.5,1409.4 277.7,1398.5 277.9,1405.7 278,1393 278.2,1386.8 278.4,1389.3 278.6,1388.8 278.8,1402.4 278.9,1386.4 279.1,1392.7 279.3,1386.6 279.5,1397 279.7,1396.3 279.8,1404.2 280,1403.7 280.2,1401.1 280.4,1398.8 280.6,1391.2 280.7,1392.3 280.9,1392.7 281.1,1391.9 281.3,1378.9 281.5,1389 281.6,1381.4 281.8,1394.9 282,1398.3 282.2,1393.1 282.4,1393.8 282.5,1373.2 282.7,1367.5 282.9,1388.7 283.1,1394.6 283.3,1394.1 283.4,1383.4 283.6,1380.7 283.8,1384.5 284,1400.4 284.2,1405 284.3,1415.7 284.5,1417.2 284.7,1403.7 284.9,1396 285.1,1403.6 285.2,1399.2 285.4,1391.3 285.6,1395.2 285.8,1400.7 286,1396.8 286.1,1393.1 286.3,1395.4 286.5,1399.7 286.7,1404.2 286.9,1402.3 287,1404.9 287.2,1395.3 287.4,1391.8 287.6,1387.2 287.8,1380.8 287.9,1379.5 288.1,1382.5 288.3,1387.6 288.5,1393.9 288.7,1385.4 288.8,1396 289,1402.2 289.2,1404.5 289.4,1399.5 289.6,1396.1 289.7,1388.4 289.9,1393.5 290.1,1405.1 290.3,1398.9 290.5,1391.9 290.6,1395.2 290.8,1396.3 291,1392.7 291.2,1387.1 291.4,1394.8 291.5,1403.1 291.7,1401.4 291.9,1398.1 292.1,1405.1 292.3,1392.3 292.4,1395.9 292.6,1388.4 292.8,1388.4 293,1392.8 293.2,1383.3 293.3,1391.7 293.5,1395.7 293.7,1390 293.9,1385.1 294.1,1386.5 294.2,1390.8 294.4,1382.8 294.6,1381.2 294.8,1373.5 295,1379.3 295.2,1383.6 295.3,1392.4 295.5,1403.8 295.7,1397.1 295.9,1392.6 296.1,1400.2 296.2,1402 296.4,1403.6 296.6,1393.3 296.8,1398.1 297,1393.2 297.1,1397 297.3,1395 297.5,1397.1 297.7,1408.1 297.9,1396.7 298,1386.3 298.2,1395.1 298.4,1384.9 298.6,1381.6 298.8,1380.8 298.9,1377 299.1,1385.9 299.3,1378.4 299.5,1369.8 299.7,1383.9 299.8,1386.6 300,1381.2 300.2,1385.2 300.4,1392.1 300.6,1396.3 300.7,1390.9 300.9,1390.5 301.1,1387.3 301.3,1396.7 301.5,1388.5 301.6,1395.1 301.8,1389.3 302,1392.3 302.2,1396.9 302.4,1397 302.5,1404.4 302.7,1403 302.9,1394.8 303.1,1389.4 303.3,1389.2 303.4,1395.8 303.6,1397.2 303.8,1392.1 304,1386.2 304.2,1394.1 304.3,1395.8 304.5,1399.7 304.7,1397 304.9,1393 305.1,1412.6 305.2,1405.2 305.4,1404.6 305.6,1413.1 305.8,1402.5 306,1399.2 306.1,1395.5 306.3,1403.1 306.5,1390 306.7,1393.1 306.9,1395.9 307,1388.1 307.2,1387.6 307.4,1389.2 307.6,1386.7 307.8,1404.1 307.9,1390.5 308.1,1395.3 308.3,1390.8 308.5,1391.7 308.7,1400.9 308.8,1399.3 309,1394.9 309.2,1398.2 309.4,1397.1 309.6,1410.1 309.7,1414.7 309.9,1416.5 310.1,1405.2 310.3,1382.6 310.5,1386 310.6,1390.7 310.8,1393.9 311,1388 311.2,1385.8 311.4,1398.1 311.5,1393.4 311.7,1393.2 311.9,1391.1 312.1,1403.9 312.3,1407.4 312.4,1400 312.6,1407.3 312.8,1397.5 313,1390.3 313.2,1387.3 313.3,1381.4 313.5,1376.1 313.7,1371 313.9,1369.9 314.1,1368.4 314.2,1352 314.4,1358.2 314.6,1365.8 314.8,1375.5 315,1388.1 315.1,1387.3 315.3,1391.1 315.5,1386.8 315.7,1394.8 315.9,1409.7 316,1405.3 316.2,1395.4 316.4,1381.3 316.6,1383.9 316.8,1393 316.9,1394.2 317.1,1401 317.3,1400 317.5,1405.6 317.7,1413.8 317.8,1407.2 318,1404.6 318.2,1403.7 318.4,1399.2 318.6,1388 318.7,1391.4 318.9,1395.8 319.1,1393.1 319.3,1406.3 319.5,1397.8 319.6,1401.4 319.8,1402.3 320,1400.4 320.2,1392.3 320.4,1397.1 320.5,1391.9 320.7,1390.7 320.9,1401 321.1,1395.1 321.3,1398.7 321.4,1404.7 321.6,1402.1 321.8,1401.2 322,1396.2 322.2,1402.2 322.3,1393.9 322.5,1402.9 322.7,1415.3 322.9,1421.9 323.1,1420.6 323.2,1428.5 323.4,1428.5 323.6,1416.7 323.8,1401.8 324,1397.6 324.1,1395 324.3,1396.7 324.5,1407.7 324.7,1402.5 324.9,1408.8 325,1395.6 325.2,1392.9 325.4,1395.1 325.6,1391.6 325.8,1391 325.9,1391.7 326.1,1391 326.3,1394.3 326.5,1401.5 326.7,1396 326.8,1388.7 327,1386.6 327.2,1392.5 327.4,1392.1 327.6,1397.4 327.7,1394.3 327.9,1396.6 328.1,1395.1 328.3,1380.5 328.5,1380.5 328.6,1376 328.8,1386.9 329,1392.4 329.2,1392.7 329.4,1389.2 329.5,1391.8 329.7,1386 329.9,1390 330.1,1379.5 330.3,1377.7 330.4,1387.9 330.6,1385.6 330.8,1391.8 331,1386.3 331.2,1392.2 331.4,1388.4 331.5,1382.8 331.7,1400.9 331.9,1403.5 332.1,1393 332.3,1390.3 332.4,1381.7 332.6,1382.4 332.8,1389.7 333,1387.5 333.2,1395.6 333.3,1394.6 333.5,1394.6 333.7,1389 333.9,1398.3 334.1,1400.1 334.2,1409 334.4,1387 334.6,1395.8 334.8,1400.6 335,1402.3 335.1,1403 335.3,1403.4 335.5,1394.9 335.7,1393.7 335.9,1395.8 336,1398.1 336.2,1399.1 336.4,1391.7 336.6,1394.7 336.8,1391 336.9,1404.2 337.1,1394.9 337.3,1392.7 337.5,1384.8 337.7,1406.7 337.8,1400.5 338,1399.2 338.2,1398.3 338.4,1400.5 338.6,1395.4 338.7,1390.1 338.9,1392.2 339.1,1393.7 339.3,1396.4 339.5,1397.3 339.6,1394.8 339.8,1398.4 340,1407.9 340.2,1393.1 340.4,1404.5 340.5,1400.6 340.7,1404.1 340.9,1403.6 341.1,1403.6 341.3,1398.7 341.4,1400.9 341.6,1406.3 341.8,1399.6 342,1390.8 342.2,1390.5 342.3,1391.2 342.5,1397.1 342.7,1395.4 342.9,1394.7 343.1,1400.4 343.2,1394 343.4,1395.2 343.6,1396.1 343.8,1400.2 344,1401.8 344.1,1399.3 344.3,1396.8 344.5,1391.9 344.7,1399.3 344.9,1398.3 345,1395.2 345.2,1405.5 345.4,1392.8 345.6,1391.8 345.8,1392.7 345.9,1400.8 346.1,1393.6 346.3,1397.4 346.5,1384.6 346.7,1387.6 346.8,1400.5 347,1395.5 347.2,1399.2 347.4,1401.5 347.6,1401.9 347.7,1397.8 347.9,1395.4 348.1,1389.7 348.3,1387.3 348.5,1393.6 348.6,1399.9 348.8,1399.8 349,1392.3" fill="none" stroke="#1d1d1b" stroke-width="1.1" stroke-linejoin="bevel"/>
<path d="M25,1393 25.2,1393.5 25.4,1402.5 25.5,1401.2 25.7,1401.8 25.9,1403 26.1,1407.8 26.3,1402.3 26.4,1400.9 26.6,1400.7 26.8,1394 27,1383.7 27.2,1387.3 27.3,1384.9 27.5,1376.5 27.7,1382.5 27.9,1378.4 28.1,1390.8 28.2,1395.8 28.4,1388 28.6,1387.2 28.8,1390.1 29,1385.8 29.1,1386.2 29.3,1389.5 29.5,1396 29.7,1390 29.9,1388.4 30,1395 30.2,1404.2 30.4,1399.4 30.6,1379.3 30.8,1402.3 30.9,1403.9 31.1,1401.9 31.3,1396.9 31.5,1389.1 31.7,1386.3 31.8,1384.9 32,1383.5 32.2,1391.8 32.4,1393.4 32.6,1396.4 32.7,1395 32.9,1394.3 33.1,1398.4 33.3,1382.9 33.5,1387.1 33.6,1392.6 33.8,1387 34,1398.8 34.2,1400 34.4,1403.1 34.5,1409 34.7,1418.4 34.9,1408.6 35.1,1404.7 35.3,1401.5 35.4,1391.5 35.6,1397.2 35.8,1383 36,1397.6 36.2,1410.8 36.3,1404.4 36.5,1394.9 36.7,1382.9 36.9,1390.4 37.1,1393.7 37.2,1394.5 37.4,1378.8 37.6,1400.1 37.8,1392.7 38,1390.7 38.1,1393.4 38.3,1393.9 38.5,1394.8 38.7,1397.7 38.9,1394.6 39,1386.2 39.2,1379.1 39.4,1383 39.6,1385.3 39.8,1384.2 39.9,1378.8 40.1,1379.9 40.3,1375.5 40.5,1380.6 40.7,1395.2 40.8,1385.8 41,1391.2 41.2,1386.2 41.4,1388.1 41.6,1384.5 41.7,1386.5 41.9,1386.8 42.1,1395.6 42.3,1381.9 42.5,1380.1 42.6,1380.9 42.8,1373.5 43,1373 43.2,1370.8 43.4,1371.3 43.6,1373 43.7,1377.1 43.9,1382.5 44.1,1370.2 44.3,1363.3 44.5,1358.1 44.6,1360.6 44.8,1356.4 45,1355.9 45.2,1357.7 45.4,1358.2 45.5,1359.1 45.7,1368.1 45.9,1367.2 46.1,1376.2 46.3,1387.4 46.4,1378.1 46.6,1380.2 46.8,1365.9 47,1380.5 47.2,1372.2 47.3,1378.2 47.5,1375.5 47.7,1383.7 47.9,1364.9 48.1,1372.8 48.2,1363 48.4,1375.7 48.6,1382.4 48.8,1384.7 49,1373.8 49.1,1381.5 49.3,1380.4 49.5,1369.6 49.7,1366.8 49.9,1379.1 50,1381.9 50.2,1372.6 50.4,1380.8 50.6,1373.1 50.8,1376 50.9,1382.4 51.1,1379.2 51.3,1379.5 51.5,1380 51.7,1386.3 51.8,1380.5 52,1385.4 52.2,1379.4 52.4,1392.7 52.6,1396.3 52.7,1389.8 52.9,1384.5 53.1,1384.6 53.3,1379.3 53.5,1384.8 53.6,1380 53.8,1375.2 54,1372.1 54.2,1363.3 54.4,1367.9 54.5,1357.5 54.7,1355.5 54.9,1361.2 55.1,1364.8 55.3,1343.3 55.4,1344.3 55.6,1338.8 55.8,1338.6 56,1311 56.2,1290.8 56.3,1294.7 56.5,1299.7 56.7,1296.2 56.9,1288 57.1,1283.6 57.2,1278.3 57.4,1284.8 57.6,1283.2 57.8,1278.6 58,1281.8 58.1,1281.8 58.3,1286.6 58.5,1290.2 58.7,1287.2 58.9,1300.3 59,1291.2 59.2,1295.2 59.4,1291.4 59.6,1304.8 59.8,1297.6 59.9,1298.5 60.1,1290.1 60.3,1296.2 60.5,1305.8 60.7,1298.4 60.8,1307.7 61,1315.8 61.2,1318.9 61.4,1321.9 61.6,1320.7 61.7,1321.4 61.9,1309.4 62.1,1304.7 62.3,1301.8 62.5,1297.3 62.6,1304.3 62.8,1311.4 63,1323.4 63.2,1325.5 63.4,1321.9 63.5,1314.3 63.7,1324.3 63.9,1317.2 64.1,1313.3 64.3,1323.2 64.4,1330.7 64.6,1332.8 64.8,1341.4 65,1349.1 65.2,1349.4 65.3,1343.8 65.5,1357.7 65.7,1350.5 65.9,1338.7 66.1,1337.4 66.2,1332.7 66.4,1349.4 66.6,1358.3 66.8,1343.4 67,1344.2 67.1,1341.1 67.3,1346.4 67.5,1349.8 67.7,1363.5 67.9,1368.6 68,1365.7 68.2,1368.8 68.4,1371.5 68.6,1369.4 68.8,1377.3 68.9,1388.7 69.1,1389.6 69.3,1387.2 69.5,1378.5 69.7,1392.4 69.8,1390.6 70,1387 70.2,1388.9 70.4,1387.1 70.6,1395.9 70.7,1398 70.9,1411.9 71.1,1407 71.3,1409.1 71.5,1423.1 71.6,1437.7 71.8,1431.7 72,1427.8 72.2,1413.2 72.4,1407.2 72.5,1424.5 72.7,1421 72.9,1433.1 73.1,1436.3 73.3,1444.9 73.4,1443.3 73.6,1439.8 73.8,1446.9 74,1445.1 74.2,1456.1 74.3,1461.1 74.5,1465.5 74.7,1460.5 74.9,1455.2 75.1,1451.5 75.2,1444 75.4,1463.4 75.6,1474.8 75.8,1496.2 76,1501.7 76.1,1486.3 76.3,1475.7 76.5,1459.7 76.7,1455.3 76.9,1453.8 77,1451.1 77.2,1457.1 77.4,1460.3 77.6,1455.1 77.8,1442.4 77.9,1452.3 78.1,1450.4 78.3,1452.6 78.5,1447 78.7,1442.9 78.8,1455 79,1455.4 79.2,1448.3 79.4,1447.2 79.6,1445.1 79.8,1441.5 79.9,1441.5 80.1,1431.3 80.3,1436.9 80.5,1439.7 80.7,1444.8 80.8,1433.2 81,1430.9 81.2,1440.5 81.4,1448.9 81.6,1452.4 81.7,1441.6 81.9,1433 82.1,1435.5 82.3,1449.9 82.5,1451.9 82.6,1445 82.8,1441.5 83,1440 83.2,1439.6 83.4,1440.7 83.5,1435.8 83.7,1435.7 83.9,1446.6 84.1,1443.2 84.3,1436 84.4,1435.9 84.6,1429.1 84.8,1417.4 85,1432.9 85.2,1413.6 85.3,1423.9 85.5,1425.8 85.7,1423.6 85.9,1437.1 86.1,1434 86.2,1432.2 86.4,1437.3 86.6,1435.6 86.8,1440.2 87,1437.6 87.1,1445.6 87.3,1434.8 87.5,1428.5 87.7,1419.7 87.9,1429.5 88,1425.9 88.2,1429.8 88.4,1428.5 88.6,1437.7 88.8,1441 88.9,1439.5 89.1,1424 89.3,1440.1 89.5,1432.4 89.7,1431.8 89.8,1428.8 90,1434.3 90.2,1439.9 90.4,1427.7 90.6,1435.1 90.7,1431.2 90.9,1438.6 91.1,1432 91.3,1420.1 91.5,1419 91.6,1426.7 91.8,1426 92,1424.1 92.2,1431.4 92.4,1422.1 92.5,1424.3 92.7,1430.3 92.9,1424.9 93.1,1423.7 93.3,1426.1 93.4,1428.5 93.6,1432.1 93.8,1426.1 94,1412.1 94.2,1415.4 94.3,1414.7 94.5,1428.1 94.7,1437.2 94.9,1426.5 95.1,1432.4 95.2,1420.1 95.4,1423.6 95.6,1424.3 95.8,1422.6 96,1428.2 96.1,1439.4 96.3,1423.2 96.5,1424.7 96.7,1419.3 96.9,1424.1 97,1425.1 97.2,1424.3 97.4,1421.7 97.6,1419 97.8,1429.1 97.9,1422.5 98.1,1422.6 98.3,1423.6 98.5,1417.6 98.7,1436 98.8,1429.5 99,1427.1 99.2,1421.5 99.4,1422.3 99.6,1419 99.7,1429.2 99.9,1423.3 100.1,1437.8 100.3,1433.4 100.5,1433.4 100.6,1426.5 100.8,1428.1 101,1423.9 101.2,1421.6 101.4,1420.6 101.5,1414.9 101.7,1415.1 101.9,1429.9 102.1,1432.7 102.3,1434.2 102.4,1428 102.6,1427.9 102.8,1423.7 103,1426.4 103.2,1418 103.3,1417.1 103.5,1425.8 103.7,1421 103.9,1421.5 104.1,1416 104.2,1402.5 104.4,1410 104.6,1403.4 104.8,1381.4 105,1391.3 105.1,1385.5 105.3,1404.3 105.5,1410.3 105.7,1417.4 105.9,1425.4 106,1430.5 106.2,1417.9 106.4,1417.5 106.6,1409.8 106.8,1421.7 106.9,1422.7 107.1,1413.8 107.3,1404.9 107.5,1404.6 107.7,1408.2 107.8,1411 108,1413.5 108.2,1403.5 108.4,1403.5 108.6,1414.3 108.7,1407 108.9,1416.2 109.1,1416.7 109.3,1414.3 109.5,1422.1 109.6,1411.6 109.8,1399.2 110,1413.6 110.2,1424.7 110.4,1422.7 110.5,1423 110.7,1413.1 110.9,1423.6 111.1,1410.2 111.3,1420.1 111.4,1414.8 111.6,1400.5 111.8,1397.4 112,1398.9 112.2,1406 112.3,1408 112.5,1419 112.7,1407.1 112.9,1415.8 113.1,1417.2 113.2,1415.8 113.4,1416.4 113.6,1417.8 113.8,1414.8 114,1411 114.1,1405.3 114.3,1400.7 114.5,1401.9 114.7,1399.9 114.9,1411 115.1,1403.8 115.2,1407.3 115.4,1411.4 115.6,1402.8 115.8,1411.3 116,1411.6 116.1,1403.1 116.3,1404.6 116.5,1407.3 116.7,1413.1 116.9,1412.1 117,1428.9 117.2,1416.8 117.4,1413.7 117.6,1403.1 117.8,1400.9 117.9,1402.7 118.1,1388.4 118.3,1395.4 118.5,1396.6 118.7,1399.3 118.8,1390 119,1397.8 119.2,1418.1 119.4,1412.6 119.6,1408.2 119.7,1401.3 119.9,1404.3 120.1,1408.9 120.3,1414.4 120.5,1410.6 120.6,1402.1 120.8,1391.3 121,1385.7 121.2,1398.1 121.4,1403.9 121.5,1404.6 121.7,1424.6 121.9,1406.6 122.1,1415.5 122.3,1406.9 122.4,1417.5 122.6,1411.7 122.8,1408.3 123,1412.8 123.2,1405.9 123.3,1407.8 123.5,1401.7 123.7,1409.3 123.9,1408.9 124.1,1405.3 124.2,1406.9 124.4,1415.2 124.6,1405.5 124.8,1403.7 125,1398.5 125.1,1405.6 125.3,1397.5 125.5,1396.2 125.7,1399.7 125.9,1395.7 126,1413.9 126.2,1414.2 126.4,1418 126.6,1418.2 126.8,1413.9 126.9,1409.7 127.1,1398.7 127.3,1402.3 127.5,1398.9 127.7,1404.5 127.8,1394.8 128,1406.2 128.2,1413.6 128.4,1407.4 128.6,1393.9 128.7,1402.6 128.9,1405 129.1,1400.2 129.3,1411.9 129.5,1416.6 129.6,1426.4 129.8,1437.3 130,1432 130.2,1433.9 130.4,1429.1 130.5,1410.4 130.7,1414.5 130.9,1415.3 131.1,1405 131.3,1407 131.4,1392.7 131.6,1394.2 131.8,1398.9 132,1389.6 132.2,1391.4 132.3,1401.1 132.5,1410 132.7,1389.5 132.9,1398.9 133.1,1399.1 133.2,1397 133.4,1393.8 133.6,1386.5 133.8,1411.1 134,1410.8 134.1,1410.6 134.3,1396.8 134.5,1401.2 134.7,1405.1 134.9,1395.1 135,1400.3 135.2,1395.2 135.4,1388.8 135.6,1382.1 135.8,1394.2 135.9,1409.4 136.1,1399.4 136.3,1402.4 136.5,1388.9 136.7,1406.5 136.8,1399.5 137,1404.4 137.2,1404.3 137.4,1399.5 137.6,1398.9 137.7,1404.1 137.9,1401 138.1,1402.6 138.3,1401.6 138.5,1392.4 138.6,1409.6 138.8,1396.6 139,1385.5 139.2,1388.5 139.4,1388 139.5,1385.3 139.7,1382.1 139.9,1395.2 140.1,1391.4 140.3,1378.7 140.4,1396 140.6,1397.1 140.8,1400.3 141,1404.4 141.2,1401.3 141.3,1403.4 141.5,1410.8 141.7,1415.5 141.9,1398.5 142.1,1386.5 142.2,1381.9 142.4,1397.5 142.6,1407.2 142.8,1404.2 143,1395 143.1,1397.9 143.3,1386.6 143.5,1386.3 143.7,1388.5 143.9,1396.3 144,1399.1 144.2,1386 144.4,1391.7 144.6,1393.8 144.8,1400.5 144.9,1389.2 145.1,1393.3 145.3,1393.2 145.5,1406.7 145.7,1405.5 145.8,1410.2 146,1402.1 146.2,1387.4 146.4,1397 146.6,1405.2 146.7,1398.8 146.9,1389.9 147.1,1395 147.3,1397.7 147.5,1395.3 147.6,1396.7 147.8,1394.6 148,1398.4 148.2,1402.4 148.4,1400.6 148.5,1391 148.7,1389.7 148.9,1396.1 149.1,1395.3 149.3,1400.8 149.4,1400.9 149.6,1412.1 149.8,1415.6 150,1426.1 150.2,1405.6 150.3,1397.6 150.5,1394 150.7,1392.4 150.9,1390.9 151.1,1392.9 151.3,1396.9 151.4,1393.8 151.6,1396.3 151.8,1397.3 152,1399.6 152.2,1405.5 152.3,1402.3 152.5,1411.6 152.7,1413.6 152.9,1406.2 153.1,1396 153.2,1401.5 153.4,1404.4 153.6,1403.7 153.8,1400.2 154,1394.3 154.1,1400.6 154.3,1394.5 154.5,1402.1 154.7,1412.3 154.9,1398.3 155,1396.7 155.2,1398.8 155.4,1398.3 155.6,1394.5 155.8,1397.2 155.9,1411.8 156.1,1400.8 156.3,1393 156.5,1390.4 156.7,1392.8 156.8,1391.6 157,1403.2 157.2,1400.4 157.4,1401.4 157.6,1408.5 157.7,1410.9 157.9,1407.4 158.1,1404.7 158.3,1403.3 158.5,1391.9 158.6,1398.6 158.8,1384.2 159,1382.3 159.2,1391.2 159.4,1404.1 159.5,1395 159.7,1407 159.9,1394.6 160.1,1404.5 160.3,1397.1 160.4,1400.4 160.6,1391.9 160.8,1406.5 161,1401.6 161.2,1410.2 161.3,1399.6 161.5,1395.4 161.7,1390.2 161.9,1400.8 162.1,1397.9 162.2,1399.2 162.4,1396 162.6,1394.2 162.8,1388.8 163,1404.2 163.1,1399.6 163.3,1386.6 163.5,1383.1 163.7,1380 163.9,1393.5 164,1394.7 164.2,1402.5 164.4,1396.1 164.6,1402.8 164.8,1397.4 164.9,1399.7 165.1,1399.2 165.3,1406.9 165.5,1410.1 165.7,1410.2 165.8,1408.5 166,1407.1 166.2,1400.6 166.4,1405 166.6,1395 166.7,1394.2 166.9,1398.1 167.1,1400.7 167.3,1396.6 167.5,1389 167.6,1388.4 167.8,1390.1 168,1397.6 168.2,1404 168.4,1405.5 168.5,1418 168.7,1408.2 168.9,1397.2 169.1,1391 169.3,1402.9 169.4,1396.4 169.6,1397.7 169.8,1402 170,1412.4 170.2,1415.7 170.3,1405 170.5,1410.7 170.7,1404.6 170.9,1404.3 171.1,1413.1 171.2,1409.9 171.4,1406 171.6,1396.5 171.8,1394.9 172,1398.3 172.1,1393.1 172.3,1397.5 172.5,1392.6 172.7,1406.6 172.9,1410.1 173,1414.1 173.2,1409.4 173.4,1411.7 173.6,1403.4 173.8,1401.1 173.9,1398 174.1,1393.6 174.3,1403.4 174.5,1409.1 174.7,1391.6 174.8,1386.8 175,1407.1 175.2,1415.1 175.4,1414.2 175.6,1403.3 175.7,1416.1 175.9,1417.7 176.1,1420.8 176.3,1415.9 176.5,1408.1 176.6,1406.1 176.8,1410.1 177,1404.6 177.2,1401 177.4,1409.1 177.5,1413.3 177.7,1409.2 177.9,1413.8 178.1,1401.6 178.3,1408.3 178.4,1397.2 178.6,1414.6 178.8,1415.5 179,1414.3 179.2,1409.9 179.3,1409.4 179.5,1408 179.7,1401.3 179.9,1404.1 180.1,1399.5 180.2,1401.4 180.4,1411.6 180.6,1410.4 180.8,1408.6 181,1404.3 181.1,1409.3 181.3,1417.2 181.5,1413.1 181.7,1410.4 181.9,1406.9 182,1399.4 182.2,1403.6 182.4,1405.2 182.6,1398.1 182.8,1400.6 182.9,1400.1 183.1,1396.7 183.3,1399.5 183.5,1393.8 183.7,1394.7 183.8,1404.5 184,1400.7 184.2,1410.9 184.4,1418.4 184.6,1417.9 184.7,1414.7 184.9,1416.3 185.1,1419.7 185.3,1406 185.5,1395.4 185.6,1392.2 185.8,1400.4 186,1408.3 186.2,1392.5 186.4,1390.4 186.5,1389 186.7,1397.4 186.9,1398.2 187.1,1419.2 187.3,1414.3 187.5,1408.4 187.6,1414.3 187.8,1408.6 188,1391.4 188.2,1401.2 188.4,1390.9 188.5,1390.8 188.7,1398.3 188.9,1399.1 189.1,1387.3 189.3,1391.6 189.4,1391.5 189.6,1391.4 189.8,1395 190,1410.7 190.2,1405.4 190.3,1405.7 190.5,1410.2 190.7,1396.4 190.9,1399.3 191.1,1403.7 191.2,1414.4 191.4,1410.8 191.6,1419.9 191.8,1418.9 192,1417 192.1,1408.3 192.3,1405.9 192.5,1402.2 192.7,1403.1 192.9,1410.4 193,1402.6 193.2,1398.7 193.4,1391.6 193.6,1378.2 193.8,1389.3 193.9,1395.3 194.1,1402.8 194.3,1401.2 194.5,1403 194.7,1397.5 194.8,1410.4 195,1415 195.2,1419.6 195.4,1422.2 195.6,1423 195.7,1418.8 195.9,1417.7 196.1,1411.2 196.3,1403.2 196.5,1399.5 196.6,1390.6 196.8,1395.2 197,1396.7 197.2,1402.6 197.4,1408.1 197.5,1400 197.7,1394.3 197.9,1404.5 198.1,1410.8 198.3,1407.9 198.4,1411.8 198.6,1403.1 198.8,1408.3 199,1414.5 199.2,1425.1 199.3,1409.5 199.5,1422.2 199.7,1417.8 199.9,1420.1 200.1,1435.6 200.2,1431.3 200.4,1418.8 200.6,1418.7 200.8,1415.7 201,1413.1 201.1,1418.9 201.3,1404.9 201.5,1424.3 201.7,1426.4 201.9,1413.2 202,1411.7 202.2,1408.9 202.4,1410.5 202.6,1404.6 202.8,1414.8 202.9,1411.4 203.1,1406.2 203.3,1399.3 203.5,1411.2 203.7,1409.9 203.8,1398.4 204,1403 204.2,1407.1 204.4,1408.4 204.6,1407.3 204.7,1412 204.9,1407.6 205.1,1408.1 205.3,1406.1 205.5,1405.4 205.6,1398.9 205.8,1408 206,1407.4 206.2,1419.8 206.4,1404.4 206.5,1403.3 206.7,1396.4 206.9,1400 207.1,1407.4 207.3,1400.7 207.4,1390.4 207.6,1399.8 207.8,1410 208,1407.8 208.2,1399.7 208.3,1398.6 208.5,1398.5 208.7,1398.4 208.9,1410.4 209.1,1406.7 209.2,1405.5 209.4,1398.7 209.6,1415.7 209.8,1403.5 210,1402.6 210.1,1396 210.3,1409.9 210.5,1420.4 210.7,1421.3 210.9,1424.8 211,1417.4 211.2,1399.1 211.4,1394.5 211.6,1397.5 211.8,1401.6 211.9,1409.5 212.1,1414.7 212.3,1405.9 212.5,1408.4 212.7,1407.3 212.8,1412.3 213,1409.6 213.2,1404 213.4,1404.9 213.6,1401.8 213.7,1409.7 213.9,1413.3 214.1,1406.8 214.3,1414.5 214.5,1405.7 214.6,1405 214.8,1412.6 215,1411.4 215.2,1409.3 215.4,1415.5 215.5,1413.4 215.7,1411.6 215.9,1402.5 216.1,1412.9 216.3,1412.9 216.4,1416.8 216.6,1412.3 216.8,1408.8 217,1405.4 217.2,1398.9 217.3,1406.4 217.5,1404.8 217.7,1410.5 217.9,1409.2 218.1,1407.3 218.2,1394.4 218.4,1400 218.6,1403.5 218.8,1398.2 219,1394.6 219.1,1403.3 219.3,1406.1 219.5,1412.7 219.7,1411.7 219.9,1414.4 220,1410.9 220.2,1422 220.4,1423.7 220.6,1413.7 220.8,1406.7 220.9,1401.6 221.1,1403.7 221.3,1408.6 221.5,1407.3 221.7,1401.4 221.8,1405.6 222,1410.5 222.2,1402.3 222.4,1398.8 222.6,1399.7 222.7,1402.7 222.9,1403.5 223.1,1402.7 223.3,1409.5 223.5,1404.4 223.7,1405.8 223.8,1404.7 224,1402.9 224.2,1406.6 224.4,1409.9 224.6,1406.5 224.7,1412.4 224.9,1405.3 225.1,1405.8 225.3,1399.8 225.5,1393.2 225.6,1391.5 225.8,1385.7 226,1397.6 226.2,1400.9 226.4,1389 226.5,1388 226.7,1389.3 226.9,1413.5 227.1,1412 227.3,1404.8 227.4,1404 227.6,1392.5 227.8,1395 228,1401.7 228.2,1405.6 228.3,1416.2 228.5,1407 228.7,1402.9 228.9,1404 229.1,1418.9 229.2,1421.8 229.4,1417.8 229.6,1409 229.8,1400.4 230,1404.6 230.1,1402.8 230.3,1405.7 230.5,1403.2 230.7,1405.5 230.9,1398.6 231,1410.3 231.2,1405.9 231.4,1410.3 231.6,1403.2 231.8,1404.9 231.9,1404.9 232.1,1408.6 232.3,1409.4 232.5,1415.4 232.7,1402.6 232.8,1392.3 233,1408.1 233.2,1404.3 233.4,1410.3 233.6,1402.3 233.7,1405.9 233.9,1412.6 234.1,1409.2 234.3,1403.2 234.5,1401.1 234.6,1404.3 234.8,1406.1 235,1405.5 235.2,1420.5 235.4,1428.2 235.5,1415.7 235.7,1410.6 235.9,1398.9 236.1,1393.2 236.3,1405.1 236.4,1401.4 236.6,1414.3 236.8,1412.6 237,1412.4 237.2,1412.2 237.3,1413.9 237.5,1404.6 237.7,1399.2 237.9,1412.1 238.1,1423.3 238.2,1416 238.4,1400.4 238.6,1400 238.8,1397.8 239,1402 239.1,1405.4 239.3,1406.2 239.5,1402.5 239.7,1409.1 239.9,1404 240,1412.4 240.2,1411 240.4,1418.6 240.6,1414.7 240.8,1419.2 240.9,1411.7 241.1,1400.7 241.3,1399.9 241.5,1381.4 241.7,1391.4 241.8,1398.4 242,1394 242.2,1385.1 242.4,1400 242.6,1397.7 242.7,1401 242.9,1407.2 243.1,1408 243.3,1411.5 243.5,1392.3 243.6,1386.5 243.8,1382.3 244,1389.4 244.2,1389 244.4,1393.7 244.5,1391.7 244.7,1396.3 244.9,1391.4 245.1,1388.5 245.3,1388.4 245.4,1389.5 245.6,1387.5 245.8,1383.2 246,1384.2 246.2,1391.3 246.3,1405.5 246.5,1399.2 246.7,1398.8 246.9,1404.5 247.1,1413.1 247.2,1406.5 247.4,1404.5 247.6,1400.9 247.8,1394.6 248,1391.9 248.1,1383.9 248.3,1386.3 248.5,1396.7 248.7,1398.5 248.9,1390.3 249,1400.8 249.2,1406.3 249.4,1407.9 249.6,1421 249.8,1406.1 249.9,1407.1 250.1,1411.9 250.3,1411.1 250.5,1415.6 250.7,1402.4 250.8,1409.7 251,1405.8 251.2,1410 251.4,1414.7 251.6,1402.1 251.7,1397.8 251.9,1406.9 252.1,1396.4 252.3,1402.8 252.5,1399.8 252.6,1395.7 252.8,1396.7 253,1411.4 253.2,1408.3 253.4,1400 253.5,1405 253.7,1406.5 253.9,1403.3 254.1,1406.1 254.3,1410 254.4,1398.9 254.6,1403.9 254.8,1403.5 255,1406.2 255.2,1411.7 255.3,1417.6 255.5,1415.9 255.7,1418.4 255.9,1414.5 256.1,1409.4 256.2,1397.6 256.4,1409.8 256.6,1413.9 256.8,1409.3 257,1410.1 257.1,1399.7 257.3,1399.4 257.5,1389.7 257.7,1382.4 257.9,1392.5 258,1389.6 258.2,1387.6 258.4,1399.9 258.6,1400.7 258.8,1390.4 258.9,1411.2 259.1,1412.2 259.3,1410.7 259.5,1405.8 259.7,1410.6 259.9,1412.4 260,1405.1 260.2,1409.1 260.4,1405.5 260.6,1398.1 260.8,1388.6 260.9,1393 261.1,1398 261.3,1405.5 261.5,1389.9 261.7,1398.5 261.8,1399 262,1409.8 262.2,1399.3 262.4,1389.3 262.6,1392 262.7,1408.1 262.9,1405.5 263.1,1401.1 263.3,1410.4 263.5,1392.3 263.6,1387.3 263.8,1394.3 264,1394.2 264.2,1401.5 264.4,1409.5 264.5,1413.2 264.7,1414.1 264.9,1408 265.1,1404.7 265.3,1389.7 265.4,1392.4 265.6,1396.1 265.8,1394.9 266,1401 266.2,1399.3 266.3,1398 266.5,1413.5 266.7,1415.3 266.9,1396.2 267.1,1392.9 267.2,1397.3 267.4,1396.6 267.6,1404.5 267.8,1402.6 268,1401.2 268.1,1408.2 268.3,1406 268.5,1404.4 268.7,1421.1 268.9,1416.5 269,1412.7 269.2,1416.9 269.4,1420.3 269.6,1404.2 269.8,1405.8 269.9,1406.1 270.1,1389.6 270.3,1386.3 270.5,1388.4 270.7,1386.9 270.8,1383.1 271,1386.5 271.2,1376.3 271.4,1379.7 271.6,1379.9 271.7,1378.3 271.9,1378.6 272.1,1375.4 272.3,1385.8 272.5,1374.7 272.6,1393.6 272.8,1384.8 273,1381.3 273.2,1381.3 273.4,1381 273.5,1373.5 273.7,1380.3 273.9,1380.7 274.1,1386.9 274.3,1385.6 274.4,1392.9 274.6,1396 274.8,1398.2 275,1398.9 275.2,1397.3 275.3,1392.1 275.5,1387.8 275.7,1389.3 275.9,1375.9 276.1,1373.7 276.2,1377.8 276.4,1382.6 276.6,1384.2 276.8,1373 277,1373.2 277.1,1381.9 277.3,1378.6 277.5,1391 277.7,1383.6 277.9,1382.1 278,1381.1 278.2,1384.3 278.4,1395.5 278.6,1392.6 278.8,1395.1 278.9,1405 279.1,1403.5 279.3,1406.9 279.5,1404.9 279.7,1410.5 279.8,1406.8 280,1402.7 280.2,1404.5 280.4,1397.7 280.6,1411.9 280.7,1412.2 280.9,1412.6 281.1,1403.4 281.3,1407.8 281.5,1407.3 281.6,1407.6 281.8,1389 282,1404.5 282.2,1400.2 282.4,1405.5 282.5,1410.1 282.7,1404.7 282.9,1393.6 283.1,1406 283.3,1415.3 283.4,1413 283.6,1389.9 283.8,1383.4 284,1385.3 284.2,1390.4 284.3,1398.6 284.5,1399.5 284.7,1392.6 284.9,1390.1 285.1,1386.6 285.2,1393.1 285.4,1391.9 285.6,1404 285.8,1425.9 286,1419.8 286.1,1410.9 286.3,1410.5 286.5,1408.9 286.7,1409.5 286.9,1405.6 287,1399.9 287.2,1400.1 287.4,1407.7 287.6,1407.3 287.8,1398.4 287.9,1400.5 288.1,1378.2 288.3,1390.5 288.5,1401.5 288.7,1393.3 288.8,1392.1 289,1391.6 289.2,1390.4 289.4,1387.9 289.6,1394.8 289.7,1399.4 289.9,1407.3 290.1,1401.6 290.3,1404 290.5,1403.3 290.6,1399.9 290.8,1394.8 291,1413.6 291.2,1407.2 291.4,1413.3 291.5,1408.4 291.7,1403.8 291.9,1409.1 292.1,1400.5 292.3,1398 292.4,1398.3 292.6,1401.7 292.8,1394.2 293,1402.7 293.2,1399 293.3,1401.2 293.5,1406.7 293.7,1399.7 293.9,1403.8 294.1,1391.4 294.2,1406.5 294.4,1394.7 294.6,1397.8 294.8,1399.1 295,1395 295.2,1394.7 295.3,1393.2 295.5,1391.3 295.7,1404.1 295.9,1402.6 296.1,1401.1 296.2,1389.3 296.4,1408.4 296.6,1410.4 296.8,1393.5 297,1385.4 297.1,1387.2 297.3,1391.3 297.5,1395.4 297.7,1403.7 297.9,1405.7 298,1402.1 298.2,1417.4 298.4,1406.2 298.6,1401.9 298.8,1391.8 298.9,1392.2 299.1,1391.7 299.3,1392.4 299.5,1409.4 299.7,1404.8 299.8,1406.3 300,1383.1 300.2,1380.4 300.4,1388 300.6,1389.5 300.7,1380.4 300.9,1396.6 301.1,1400 301.3,1399.6 301.5,1391 301.6,1397.5 301.8,1394.6 302,1400.5 302.2,1391.5 302.4,1387.7 302.5,1393.8 302.7,1386.3 302.9,1399.6 303.1,1409.1 303.3,1411.5 303.4,1413.1 303.6,1410.4 303.8,1393.9 304,1394.2 304.2,1388.6 304.3,1396.6 304.5,1394.2 304.7,1390.3 304.9,1401.3 305.1,1395.2 305.2,1415.7 305.4,1396.8 305.6,1401.8 305.8,1399.6 306,1404.9 306.1,1405 306.3,1388.5 306.5,1392.2 306.7,1396.8 306.9,1399.2 307,1394.8 307.2,1398.7 307.4,1404 307.6,1385.6 307.8,1391.3 307.9,1391.1 308.1,1389 308.3,1397.4 308.5,1392 308.7,1392 308.8,1394.5 309,1393.4 309.2,1378 309.4,1389.3 309.6,1378 309.7,1375.2 309.9,1396.5 310.1,1382.8 310.3,1389.5 310.5,1384.6 310.6,1396.2 310.8,1394 311,1393.7 311.2,1404.1 311.4,1397.1 311.5,1389.2 311.7,1396.4 311.9,1391.4 312.1,1392.4 312.3,1404.5 312.4,1396.7 312.6,1399.3 312.8,1394.2 313,1407.3 313.2,1402.3 313.3,1402 313.5,1408.1 313.7,1402.5 313.9,1399.7 314.1,1401.8 314.2,1406.5 314.4,1400.7 314.6,1392.8 314.8,1398.1 315,1400.6 315.1,1404.7 315.3,1404.1 315.5,1409.3 315.7,1399.4 315.9,1385.7 316,1387.5 316.2,1391.8 316.4,1402.7 316.6,1393.2 316.8,1398.2 316.9,1396.2 317.1,1399.3 317.3,1400.9 317.5,1402.2 317.7,1402.9 317.8,1408.1 318,1407.3 318.2,1409.8 318.4,1406.2 318.6,1405.6 318.7,1413.1 318.9,1411.9 319.1,1395.3 319.3,1395 319.5,1399.5 319.6,1407.8 319.8,1408.4 320,1412.8 320.2,1404.4 320.4,1408.5 320.5,1408.4 320.7,1394.9 320.9,1390.2 321.1,1397.8 321.3,1402 321.4,1395.8 321.6,1395.6 321.8,1407.3 322,1409.7 322.2,1399.8 322.3,1395.1 322.5,1398.4 322.7,1402.4 322.9,1406 323.1,1392.2 323.2,1393.3 323.4,1401.8 323.6,1402.8 323.8,1386.6 324,1398.7 324.1,1387.1 324.3,1389.7 324.5,1392 324.7,1400.4 324.9,1393.9 325,1406.8 325.2,1403.9 325.4,1400.3 325.6,1400.7 325.8,1404.1 325.9,1398.9 326.1,1395 326.3,1412.9 326.5,1409.4 326.7,1402.3 326.8,1397.1 327,1396.1 327.2,1397.9 327.4,1399.1 327.6,1401.9 327.7,1405.6 327.9,1396.9 328.1,1398.4 328.3,1395.7 328.5,1403.8 328.6,1401.3 328.8,1392.5 329,1382.9 329.2,1385.6 329.4,1385.2 329.5,1384.1 329.7,1395.6 329.9,1404.1 330.1,1393.2 330.3,1390.1 330.4,1389.9 330.6,1388.7 330.8,1392 331,1391.5 331.2,1385.8 331.4,1385.8 331.5,1387 331.7,1376 331.9,1380.8 332.1,1378.5 332.3,1380.9 332.4,1377.1 332.6,1383.7 332.8,1386.5 333,1385 333.2,1390.3 333.3,1393 333.5,1401.4 333.7,1406.3 333.9,1414.2 334.1,1407.7 334.2,1396.6 334.4,1402.6 334.6,1405.5 334.8,1405.6 335,1409 335.1,1398.7 335.3,1396.9 335.5,1402.4 335.7,1410.5 335.9,1401 336,1403.7 336.2,1402.8 336.4,1397.2 336.6,1387.2 336.8,1383.4 336.9,1387.9 337.1,1388.3 337.3,1396.2 337.5,1391.5 337.7,1404.1 337.8,1414.9 338,1409.4 338.2,1393.5 338.4,1387.3 338.6,1399.7 338.7,1409.3 338.9,1405.7 339.1,1397.9 339.3,1397.8 339.5,1386.2 339.6,1407.2 339.8,1404 340,1399.1 340.2,1391.6 340.4,1393.1 340.5,1387.8 340.7,1387 340.9,1380.3 341.1,1375.2 341.3,1372.7 341.4,1385.2 341.6,1389.8 341.8,1383.4 342,1375.9 342.2,1380.3 342.3,1382.4 342.5,1382 342.7,1375.9 342.9,1374.5 343.1,1381.9 343.2,1384.4 343.4,1384.6 343.6,1383.5 343.8,1388.4 344,1387.3 344.1,1379.8 344.3,1383.4 344.5,1389.4 344.7,1387.5 344.9,1383.6 345,1392.2 345.2,1405.3 345.4,1401.5 345.6,1386.4 345.8,1376.9 345.9,1377.9 346.1,1375 346.3,1369.8 346.5,1391 346.7,1371 346.8,1375.4 347,1374.1 347.2,1382.9 347.4,1370.9 347.6,1375.9 347.7,1375.8 347.9,1375.5 348.1,1376.7 348.3,1384.1 348.5,1380.1 348.6,1397.9 348.8,1401.2 349,1410.8" fill="none" stroke="#e1302f" stroke-width="1.4" stroke-linejoin="bevel"/>
<line x1="311" y1="1527" x2="365.9" y2="1527" stroke="#1d1d1b" stroke-width="1.8"/>
<line x1="365" y1="1435" x2="365" y2="1527" stroke="#1d1d1b" stroke-width="1.8"/>
<text transform="translate(388 1529) rotate(-90)" font-size="20.9" fill="#1d1d1b">15 %</text>
<text x="317" y="1553" font-size="20.9" fill="#1d1d1b">1 min</text>
<text x="45" y="1553" font-size="20.9" fill="#1d1d1b">ISO</text>
<text x="1" y="1630" font-size="27" fill="#1d1d1b" font-weight="700">g</text>
<text x="25" y="1630" font-size="20.8" fill="#1d1d1b" font-weight="700">Astrocytic lactate response</text>
<text x="25" y="1667" font-size="20.9" fill="#1d1d1b">N = 3, n = 6</text>
<text x="306" y="1668" font-size="20.9" fill="#1d1d1b">0 h</text>
<text x="306" y="1706" font-size="20.9" fill="#e1302f">6 h</text>
<rect x="56" y="1706" width="17.6" height="300" fill="#d6e9cd"/>
<path d="M25,1899 25.1,1899.1 25.3,1894.1 25.4,1904 25.6,1896 25.7,1907.6 25.9,1902.6 26,1901.7 26.2,1894.3 26.3,1898.2 26.5,1901.8 26.6,1891.6 26.8,1888.4 26.9,1900.1 27.1,1895.1 27.2,1899.4 27.4,1895.7 27.5,1894.9 27.7,1902.3 27.8,1897.1 28,1901.9 28.1,1903.2 28.3,1901 28.4,1907.5 28.5,1906.6 28.7,1898.8 28.8,1894.3 29,1892.2 29.1,1898.7 29.3,1894.5 29.4,1888.5 29.6,1889.4 29.7,1901.5 29.9,1905 30,1893.7 30.2,1887.9 30.3,1892.4 30.5,1889 30.6,1891 30.8,1890.9 30.9,1889.6 31.1,1889.7 31.2,1893.3 31.4,1881.9 31.5,1884.6 31.7,1892.8 31.8,1893.3 31.9,1898.2 32.1,1890.9 32.2,1900.6 32.4,1895.6 32.5,1889.6 32.7,1889.9 32.8,1889.9 33,1898.2 33.1,1889.8 33.3,1894.7 33.4,1888.9 33.6,1896.5 33.7,1887.7 33.9,1892.3 34,1891.5 34.2,1895.6 34.3,1896.7 34.5,1896.3 34.6,1889.7 34.8,1894.8 34.9,1894.3 35.1,1886.9 35.2,1889.7 35.3,1894.5 35.5,1892.5 35.6,1901.3 35.8,1904.4 35.9,1893.4 36.1,1879.2 36.2,1881.1 36.4,1879.3 36.5,1888.6 36.7,1896.4 36.8,1889.4 37,1899.1 37.1,1910.9 37.3,1897.8 37.4,1891.6 37.6,1892.1 37.7,1888.4 37.9,1892.2 38,1895.2 38.2,1904.3 38.3,1900.2 38.4,1904.7 38.6,1901.1 38.7,1889.6 38.9,1894.7 39,1895.5 39.2,1900.7 39.3,1885.4 39.5,1905.1 39.6,1902.1 39.8,1893.3 39.9,1900.3 40.1,1904 40.2,1897.2 40.4,1894.5 40.5,1895.5 40.7,1903.7 40.8,1897 41,1905 41.1,1905.4 41.3,1907 41.4,1900.8 41.6,1902.6 41.7,1905.8 41.8,1902.9 42,1907.5 42.1,1905.2 42.3,1905.2 42.4,1905.8 42.6,1908.3 42.7,1910.6 42.9,1898.3 43,1911.8 43.2,1902.5 43.3,1906.1 43.5,1907 43.6,1912.3 43.8,1903.8 43.9,1906.5 44.1,1899.2 44.2,1904.9 44.4,1909.3 44.5,1911.1 44.7,1901.1 44.8,1901.3 45,1905.3 45.1,1896.2 45.2,1901 45.4,1905.4 45.5,1902.8 45.7,1909.9 45.8,1905.1 46,1910.6 46.1,1902.2 46.3,1900.7 46.4,1905.1 46.6,1899.6 46.7,1908.2 46.9,1903.4 47,1906.7 47.2,1911.2 47.3,1902.4 47.5,1895.1 47.6,1886.3 47.8,1899.9 47.9,1901.3 48.1,1894.7 48.2,1906.9 48.4,1894.9 48.5,1909.3 48.6,1907.9 48.8,1904.3 48.9,1905 49.1,1897.1 49.2,1906.4 49.4,1903.1 49.5,1904.2 49.7,1901.8 49.8,1898.8 50,1896.6 50.1,1900.1 50.3,1899.7 50.4,1901.6 50.6,1910.4 50.7,1913.1 50.9,1902.6 51,1910.2 51.2,1908.8 51.3,1903.8 51.5,1905.8 51.6,1908.3 51.8,1909 51.9,1904 52,1895.5 52.2,1909.6 52.3,1905.7 52.5,1898 52.6,1900.7 52.8,1904.9 52.9,1902.6 53.1,1901.4 53.2,1896.9 53.4,1909.5 53.5,1909.2 53.7,1903.2 53.8,1902 54,1901.2 54.1,1900.7 54.3,1899.1 54.4,1902 54.6,1892.3 54.7,1907.3 54.9,1909.9 55,1917.5 55.2,1909.1 55.3,1911.4 55.4,1915.5 55.6,1922.2 55.7,1908.2 55.9,1912.8 56,1914.5 56.2,1926.9 56.3,1922.6 56.5,1920.7 56.6,1915.5 56.8,1920.8 56.9,1919.8 57.1,1934.8 57.2,1931.1 57.4,1928.8 57.5,1930.8 57.7,1932.5 57.8,1933.5 58,1926.2 58.1,1934.9 58.3,1931.3 58.4,1931.8 58.5,1938.8 58.7,1937.9 58.8,1952.2 59,1945 59.1,1936.4 59.3,1946.3 59.4,1956.9 59.6,1944.2 59.7,1953.9 59.9,1942.7 60,1948.8 60.2,1958 60.3,1958 60.5,1947.8 60.6,1952.5 60.8,1955 60.9,1955.8 61.1,1957.7 61.2,1961.1 61.4,1955.5 61.5,1949.2 61.7,1954.4 61.8,1948.9 61.9,1951 62.1,1965 62.2,1956.7 62.4,1952 62.5,1969.6 62.7,1966.7 62.8,1961.5 63,1968.6 63.1,1963.8 63.3,1965.5 63.4,1968 63.6,1964.9 63.7,1965.2 63.9,1962.7 64,1962.3 64.2,1965.3 64.3,1964.4 64.5,1962.9 64.6,1956.1 64.8,1961 64.9,1949.8 65.1,1957.9 65.2,1944.5 65.3,1951.2 65.5,1952.5 65.6,1952.5 65.8,1946.8 65.9,1946.1 66.1,1950.6 66.2,1945.1 66.4,1941.9 66.5,1942.5 66.7,1934.9 66.8,1951.9 67,1943.3 67.1,1941.2 67.3,1935.1 67.4,1924.5 67.6,1937.7 67.7,1938.8 67.9,1934.6 68,1928.5 68.2,1923.6 68.3,1931.7 68.5,1923.9 68.6,1926.7 68.7,1919.6 68.9,1922.2 69,1918.3 69.2,1919.9 69.3,1924.6 69.5,1923.9 69.6,1916.1 69.8,1920.8 69.9,1922 70.1,1916.8 70.2,1911.8 70.4,1909.4 70.5,1914.9 70.7,1912.7 70.8,1907.8 71,1912.3 71.1,1904.3 71.3,1905.9 71.4,1911.3 71.6,1903.2 71.7,1905.7 71.9,1896.2 72,1901.4 72.1,1892.8 72.3,1886.8 72.4,1893.6 72.6,1893.1 72.7,1896.9 72.9,1895.2 73,1890.4 73.2,1881.8 73.3,1884.9 73.5,1894.1 73.6,1884.3 73.8,1892.2 73.9,1880.3 74.1,1880.2 74.2,1884.5 74.4,1893.2 74.5,1884.2 74.7,1888.5 74.8,1889.3 75,1885.5 75.1,1892.6 75.3,1886 75.4,1882 75.5,1878.1 75.7,1883.5 75.8,1884.3 76,1875.8 76.1,1874.8 76.3,1889.8 76.4,1879.5 76.6,1874.4 76.7,1883.1 76.9,1875.5 77,1880.1 77.2,1882.2 77.3,1886.7 77.5,1873.9 77.6,1882.8 77.8,1896.3 77.9,1889.2 78.1,1884.5 78.2,1886.4 78.4,1872.3 78.5,1881.2 78.6,1879.7 78.8,1877 78.9,1874 79.1,1883.8 79.2,1887 79.4,1882.4 79.5,1874.6 79.7,1876.1 79.8,1872.2 80,1878.7 80.1,1870.2 80.3,1871.3 80.4,1871.7 80.6,1867.7 80.7,1868.5 80.9,1867.7 81,1876.6 81.2,1868.9 81.3,1868.6 81.5,1864.2 81.6,1863.4 81.8,1865.7 81.9,1861.7 82,1855.3 82.2,1859.8 82.3,1862.4 82.5,1863.4 82.6,1858.6 82.8,1864.8 82.9,1862.4 83.1,1863.8 83.2,1869.1 83.4,1858.7 83.5,1856.9 83.7,1862.4 83.8,1863.6 84,1859.2 84.1,1852.4 84.3,1861 84.4,1852.4 84.6,1854.8 84.7,1871.2 84.9,1865.5 85,1860.6 85.2,1864.1 85.3,1857.6 85.4,1858 85.6,1857.5 85.7,1861.3 85.9,1869.4 86,1859.4 86.2,1864.6 86.3,1854.1 86.5,1854.4 86.6,1841.2 86.8,1850.3 86.9,1862.5 87.1,1844.4 87.2,1848.9 87.4,1846.7 87.5,1844 87.7,1856.8 87.8,1859.1 88,1849.9 88.1,1858.4 88.3,1864.5 88.4,1860.3 88.6,1855.6 88.7,1849.4 88.8,1854.4 89,1855.5 89.1,1849.9 89.3,1850.2 89.4,1847.3 89.6,1856.9 89.7,1841.6 89.9,1855 90,1844.6 90.2,1842.9 90.3,1851.6 90.5,1848.2 90.6,1850.6 90.8,1845.3 90.9,1843.8 91.1,1847.8 91.2,1846.2 91.4,1851.3 91.5,1844.8 91.7,1844 91.8,1847.9 92,1852.7 92.1,1843.9 92.2,1852.1 92.4,1852 92.5,1852 92.7,1846 92.8,1847 93,1852.4 93.1,1850.1 93.3,1850.1 93.4,1842.7 93.6,1833.2 93.7,1834.1 93.9,1834.5 94,1834.8 94.2,1844.7 94.3,1844.7 94.5,1849.5 94.6,1838.6 94.8,1838.6 94.9,1843 95.1,1837.5 95.2,1839.6 95.4,1834 95.5,1839.7 95.6,1843.1 95.8,1840.5 95.9,1839.6 96.1,1835.4 96.2,1839.9 96.4,1841.4 96.5,1836.6 96.7,1842.1 96.8,1840 97,1831.7 97.1,1839.2 97.3,1830.7 97.4,1836.1 97.6,1834.7 97.7,1829.9 97.9,1831.5 98,1839.5 98.2,1842 98.3,1833.4 98.5,1836.6 98.6,1834 98.7,1828.2 98.9,1831.1 99,1833.3 99.2,1835.3 99.3,1829.7 99.5,1815.5 99.6,1828.5 99.8,1834.6 99.9,1831 100.1,1822.6 100.2,1828.6 100.4,1830 100.5,1828 100.7,1827.5 100.8,1831.1 101,1831.8 101.1,1825.2 101.3,1814.2 101.4,1830 101.6,1824.9 101.7,1822.8 101.9,1822.1 102,1817.8 102.1,1820.8 102.3,1813.2 102.4,1820.4 102.6,1825.3 102.7,1821.2 102.9,1815.7 103,1804.7 103.2,1817.6 103.3,1810.2 103.5,1824.9 103.6,1814.8 103.8,1810.6 103.9,1817.2 104.1,1813.2 104.2,1819.1 104.4,1819.2 104.5,1819 104.7,1814.3 104.8,1826.4 105,1811.4 105.1,1817.1 105.3,1820.2 105.4,1811.4 105.5,1815.5 105.7,1802.2 105.8,1818.2 106,1817.8 106.1,1818.8 106.3,1809.9 106.4,1818.7 106.6,1823.3 106.7,1829.2 106.9,1827.1 107,1817.7 107.2,1820.3 107.3,1811.5 107.5,1822.8 107.6,1817.7 107.8,1823.9 107.9,1818.2 108.1,1819.6 108.2,1820.2 108.4,1826.5 108.5,1814 108.7,1819.1 108.8,1819 108.9,1818.9 109.1,1817.1 109.2,1808 109.4,1807 109.5,1812 109.7,1818.4 109.8,1812.9 110,1814.8 110.1,1826 110.3,1818.7 110.4,1813 110.6,1816.8 110.7,1815.7 110.9,1808.5 111,1806.3 111.2,1820.1 111.3,1810.6 111.5,1810.1 111.6,1808.1 111.8,1811 111.9,1807.9 112.1,1820.2 112.2,1811.7 112.3,1805.6 112.5,1815.4 112.6,1814.2 112.8,1814.6 112.9,1808.3 113.1,1801.8 113.2,1808.2 113.4,1796.9 113.5,1807.4 113.7,1802.4 113.8,1800.7 114,1808.6 114.1,1808.9 114.3,1803.8 114.4,1808.5 114.6,1811.4 114.7,1806.2 114.9,1810.5 115,1804.8 115.2,1805.2 115.3,1799.4 115.5,1793.7 115.6,1807.6 115.7,1804.2 115.9,1797.2 116,1786.7 116.2,1796.8 116.3,1797.7 116.5,1801 116.6,1786.8 116.8,1798.6 116.9,1795.9 117.1,1793.2 117.2,1803.5 117.4,1805.7 117.5,1803.6 117.7,1797.1 117.8,1791.3 118,1798.1 118.1,1785.5 118.3,1795.8 118.4,1793 118.6,1795.2 118.7,1798.9 118.8,1796.3 119,1794.9 119.1,1802.5 119.3,1797.6 119.4,1802.5 119.6,1792.4 119.7,1801 119.9,1801.8 120,1801.1 120.2,1793.5 120.3,1787.1 120.5,1798.9 120.6,1792.5 120.8,1790.8 120.9,1796.1 121.1,1791.6 121.2,1791.4 121.4,1795.8 121.5,1804.7 121.7,1795.6 121.8,1796.7 122,1793 122.1,1789.7 122.2,1781.4 122.4,1792.4 122.5,1788.2 122.7,1790.8 122.8,1794.9 123,1798.1 123.1,1800.5 123.3,1803.9 123.4,1792.2 123.6,1789.8 123.7,1796.3 123.9,1788.5 124,1789 124.2,1790.9 124.3,1795.8 124.5,1796.7 124.6,1788.1 124.8,1787.4 124.9,1789.2 125.1,1785.7 125.2,1787.6 125.4,1795.9 125.5,1784.8 125.6,1789.5 125.8,1779.3 125.9,1792.2 126.1,1801.1 126.2,1789 126.4,1780.7 126.5,1789.2 126.7,1788.6 126.8,1777 127,1780.2 127.1,1781.4 127.3,1788.3 127.4,1790 127.6,1793.8 127.7,1793.6 127.9,1789 128,1784.1 128.2,1775.7 128.3,1776.7 128.5,1783.5 128.6,1785.5 128.8,1784.6 128.9,1786 129,1777.1 129.2,1787 129.3,1787.6 129.5,1793.9 129.6,1793.9 129.8,1785.9 129.9,1782.6 130.1,1781.1 130.2,1779.4 130.4,1788.7 130.5,1775.6 130.7,1781 130.8,1788.6 131,1788 131.1,1791.8 131.3,1791.5 131.4,1785.8 131.6,1788.3 131.7,1785.8 131.9,1784.4 132,1791.8 132.2,1778.2 132.3,1771 132.4,1783.1 132.6,1780.7 132.7,1777.2 132.9,1782.5 133,1783.4 133.2,1789 133.3,1788.1 133.5,1784.4 133.6,1777.5 133.8,1781.6 133.9,1778.7 134.1,1782.6 134.2,1785 134.4,1779.1 134.5,1780.3 134.7,1778.4 134.8,1774.3 135,1778.3 135.1,1778 135.3,1774.8 135.4,1783.7 135.6,1784 135.7,1779.4 135.8,1788.9 136,1795.3 136.1,1793 136.3,1784.5 136.4,1785.8 136.6,1786.9 136.7,1787 136.9,1792.5 137,1788.7 137.2,1791.6 137.3,1784.8 137.5,1788.4 137.6,1785.7 137.8,1786.1 137.9,1788.4 138.1,1790.2 138.2,1790.9 138.4,1784.5 138.5,1783 138.7,1790.6 138.8,1787.2 138.9,1783.7 139.1,1783.5 139.2,1778.5 139.4,1782.5 139.5,1776.3 139.7,1785.7 139.8,1781.6 140,1785.3 140.1,1789.6 140.3,1800.5 140.4,1789.2 140.6,1785.8 140.7,1783.5 140.9,1779.3 141,1783.6 141.2,1787.3 141.3,1791.5 141.5,1790.5 141.6,1785 141.8,1793.1 141.9,1791.8 142.1,1785.9 142.2,1776.1 142.3,1781 142.5,1777.8 142.6,1782.2 142.8,1787.6 142.9,1785.1 143.1,1779.6 143.2,1784.1 143.4,1782.2 143.5,1780.8 143.7,1772.4 143.8,1772.5 144,1789.4 144.1,1790.5 144.3,1779.9 144.4,1782.2 144.6,1780.8 144.7,1779.2 144.9,1776.9 145,1792.5 145.2,1790 145.3,1795.2 145.5,1776.9 145.6,1778.7 145.7,1781.7 145.9,1780.4 146,1774.6 146.2,1778.3 146.3,1786.7 146.5,1777.6 146.6,1772.2 146.8,1779 146.9,1777 147.1,1783.4 147.2,1770.1 147.4,1783.3 147.5,1782 147.7,1779 147.8,1779.5 148,1778.2 148.1,1786.1 148.3,1779.3 148.4,1783.7 148.6,1782.5 148.7,1780.1 148.9,1784.8 149,1796.5 149.1,1777.5 149.3,1782 149.4,1785.7 149.6,1774.3 149.7,1771.3 149.9,1776.4 150,1770 150.2,1773.7 150.3,1778.7 150.5,1779.8 150.6,1772.6 150.8,1776.4 150.9,1780.4 151.1,1775.9 151.2,1773.8 151.4,1777.9 151.5,1775.6 151.7,1770.5 151.8,1775.2 152,1770.8 152.1,1773.6 152.3,1770.1 152.4,1772.9 152.5,1773.1 152.7,1781.3 152.8,1775.5 153,1794.1 153.1,1782.1 153.3,1780 153.4,1779.7 153.6,1770.2 153.7,1779.7 153.9,1774.9 154,1773.8 154.2,1770.8 154.3,1771.3 154.5,1771.8 154.6,1771.1 154.8,1765.3 154.9,1780 155.1,1784.3 155.2,1775 155.4,1774.2 155.5,1768.4 155.7,1773.7 155.8,1769.5 155.9,1784.6 156.1,1779 156.2,1773 156.4,1776.2 156.5,1771.4 156.7,1776.2 156.8,1777.5 157,1771.4 157.1,1770.8 157.3,1775.7 157.4,1769 157.6,1777 157.7,1775.3 157.9,1789.2 158,1774.4 158.2,1768.3 158.3,1771.7 158.5,1779 158.6,1774.9 158.8,1778.7 158.9,1782.7 159,1785.6 159.2,1778.5 159.3,1782.7 159.5,1783.2 159.6,1774 159.8,1774.5 159.9,1773.7 160.1,1782.6 160.2,1779.7 160.4,1769.9 160.5,1778.6 160.7,1782.8 160.8,1777 161,1775.1 161.1,1785 161.3,1776.7 161.4,1772.8 161.6,1783.1 161.7,1786.9 161.9,1783.6 162,1779 162.2,1780.1 162.3,1778.6 162.4,1785.4 162.6,1774.5 162.7,1771.6 162.9,1779.1 163,1785.6 163.2,1787.6 163.3,1783.9 163.5,1785.6 163.6,1784.5 163.8,1788.6 163.9,1787.9 164.1,1792.3 164.2,1795.9 164.4,1798 164.5,1801.1 164.7,1789.9 164.8,1799.2 165,1795.5 165.1,1792.2 165.3,1790.5 165.4,1795.2 165.6,1788.8 165.7,1793.8 165.8,1793.6 166,1794.6 166.1,1798.8 166.3,1797.2 166.4,1796 166.6,1794.2 166.7,1786.2 166.9,1802.9 167,1800.9 167.2,1802.5 167.3,1795.6 167.5,1792.7 167.6,1799.2 167.8,1803.4 167.9,1795.5 168.1,1797.5 168.2,1806.9 168.4,1803 168.5,1798.8 168.7,1803.3 168.8,1786.9 169,1802.7 169.1,1801.8 169.2,1799.3 169.4,1799.2 169.5,1804.4 169.7,1803.8 169.8,1799.1 170,1797.2 170.1,1795.5 170.3,1798.3 170.4,1800.5 170.6,1799.3 170.7,1800.2 170.9,1804.9 171,1804.7 171.2,1796 171.3,1800.6 171.5,1801.1 171.6,1797.1 171.8,1801.1 171.9,1802.8 172.1,1794.6 172.2,1802.1 172.4,1809 172.5,1804.4 172.6,1801.7 172.8,1793.2 172.9,1797.9 173.1,1796.3 173.2,1805.9 173.4,1797.5 173.5,1811.6 173.7,1799.3 173.8,1798.2 174,1790.1 174.1,1797.4 174.3,1797.7 174.4,1803.1 174.6,1807.2 174.7,1803.9 174.9,1799.2 175,1810.4 175.2,1802.9 175.3,1795.5 175.5,1809.4 175.6,1813.8 175.8,1811.7 175.9,1815.5 176,1802.1 176.2,1804.4 176.3,1807.2 176.5,1811.4 176.6,1800.1 176.8,1803.3 176.9,1801.7 177.1,1801 177.2,1791.8 177.4,1801.8 177.5,1795.1 177.7,1794.4 177.8,1799.5 178,1792.8 178.1,1805 178.3,1799.7 178.4,1792.9 178.6,1790.4 178.7,1793.9 178.9,1793.7 179,1807.3 179.1,1800.2 179.3,1799.3 179.4,1802.3 179.6,1806.9 179.7,1804.7 179.9,1793.6 180,1800 180.2,1803.6 180.3,1791 180.5,1792.6 180.6,1798.8 180.8,1796.4 180.9,1806.6 181.1,1804.9 181.2,1793.7 181.4,1804.2 181.5,1802.9 181.7,1795.4 181.8,1798.7 182,1804 182.1,1806.8 182.3,1804.5 182.4,1798.5 182.5,1807 182.7,1802.8 182.8,1800.4 183,1801.8 183.1,1804.1 183.3,1813.3 183.4,1803.2 183.6,1797.1 183.7,1799 183.9,1804.5 184,1808.4 184.2,1810.6 184.3,1808.8 184.5,1812.9 184.6,1816 184.8,1819.1 184.9,1813.8 185.1,1807.5 185.2,1801.6 185.4,1795.8 185.5,1801.2 185.7,1802.8 185.8,1795.5 185.9,1806.2 186.1,1798.4 186.2,1798.3 186.4,1804.6 186.5,1802.6 186.7,1803.5 186.8,1806.4 187,1801.1 187.1,1804.1 187.3,1802.7 187.4,1804.5 187.6,1807.6 187.7,1811.6 187.9,1802 188,1802.7 188.2,1802.5 188.3,1810.4 188.5,1803.6 188.6,1802.8 188.8,1796.3 188.9,1803.7 189.1,1813.1 189.2,1805.7 189.3,1815.9 189.5,1806.4 189.6,1798.8 189.8,1805.1 189.9,1814.2 190.1,1807.4 190.2,1813.4 190.4,1813.5 190.5,1819.1 190.7,1812.8 190.8,1810.8 191,1804.9 191.1,1804.8 191.3,1810.2 191.4,1808 191.6,1805.6 191.7,1810.3 191.9,1812.5 192,1811.8 192.2,1818.2 192.3,1810.4 192.5,1801.8 192.6,1813.2 192.7,1810.9 192.9,1811.9 193,1820.5 193.2,1809.1 193.3,1812 193.5,1809.1 193.6,1812.2 193.8,1811.2 193.9,1812.8 194.1,1803.5 194.2,1809.9 194.4,1813.8 194.5,1811 194.7,1811.2 194.8,1810.2 195,1813.7 195.1,1814.2 195.3,1820.5 195.4,1820.8 195.6,1825.2 195.7,1817.1 195.9,1811.6 196,1806.6 196.1,1818.7 196.3,1818.2 196.4,1809 196.6,1816 196.7,1814.8 196.9,1815.7 197,1822.3 197.2,1819.9 197.3,1810.5 197.5,1813.2 197.6,1808.8 197.8,1815.4 197.9,1821.9 198.1,1817.6 198.2,1820.1 198.4,1817.4 198.5,1811.6 198.7,1805.5 198.8,1814.2 199,1820.3 199.1,1815.7 199.2,1816.4 199.4,1819.2 199.5,1822.1 199.7,1822.3 199.8,1822.2 200,1826.3 200.1,1818.7 200.3,1818 200.4,1818.4 200.6,1830.3 200.7,1823.1 200.9,1815.1 201,1815 201.2,1822.9 201.3,1820.2 201.5,1815 201.6,1819.8 201.8,1816.4 201.9,1826.2 202.1,1819.7 202.2,1815.8 202.4,1828.5 202.5,1818.3 202.6,1823.5 202.8,1823.7 202.9,1824.4 203.1,1823.8 203.2,1819.4 203.4,1823.7 203.5,1826.1 203.7,1821.4 203.8,1820.5 204,1820.4 204.1,1832.5 204.3,1819 204.4,1817.2 204.6,1821.5 204.7,1819.4 204.9,1809.5 205,1820.3 205.2,1820.4 205.3,1817 205.5,1823 205.6,1818.6 205.8,1826.9 205.9,1821.5 206,1826.8 206.2,1833.3 206.3,1828.5 206.5,1827 206.6,1829.3 206.8,1823.5 206.9,1826.4 207.1,1816.4 207.2,1824.9 207.4,1823.7 207.5,1823.1 207.7,1829.2 207.8,1821.9 208,1819.6 208.1,1822.7 208.3,1819.1 208.4,1821.2 208.6,1832.2 208.7,1821.6 208.9,1836.8 209,1826.7 209.2,1830.3 209.3,1834.3 209.4,1831.1 209.6,1833.8 209.7,1827 209.9,1830.6 210,1837.4 210.2,1840.6 210.3,1837.6 210.5,1823.7 210.6,1829.7 210.8,1826.5 210.9,1823.6 211.1,1828 211.2,1830.5 211.4,1827.6 211.5,1824.5 211.7,1823.4 211.8,1835.2 212,1835.1 212.1,1832.6 212.3,1820.7 212.4,1824.3 212.6,1833.6 212.7,1829.5 212.8,1825.4 213,1827.9 213.1,1828.3 213.3,1828.8 213.4,1827.9 213.6,1835 213.7,1826.8 213.9,1828.8 214,1826.9 214.2,1826.8 214.3,1825.3 214.5,1821.9 214.6,1839.3 214.8,1821.5 214.9,1838.6 215.1,1834.9 215.2,1822.1 215.4,1824.3 215.5,1820.7 215.7,1819.8 215.8,1829.4 216,1821.1 216.1,1829.7 216.2,1831.2 216.4,1830.9 216.5,1832.4 216.7,1832.8 216.8,1836.5 217,1833.2 217.1,1836 217.3,1837 217.4,1827.9 217.6,1828.1 217.7,1836.5 217.9,1821.6 218,1832.5 218.2,1830.1 218.3,1823.2 218.5,1832.9 218.6,1845.2 218.8,1828.1 218.9,1816.9 219.1,1826.3 219.2,1840.3 219.3,1828.4 219.5,1831.1 219.6,1829.2 219.8,1836.2 219.9,1842.4 220.1,1839.6 220.2,1838.2 220.4,1833.5 220.5,1842.9 220.7,1844.3 220.8,1839.1 221,1833.1 221.1,1832.6 221.3,1839 221.4,1836.3 221.6,1834 221.7,1837.7 221.9,1846.6 222,1837.3 222.2,1836.6 222.3,1837.2 222.5,1833.2 222.6,1833.2 222.7,1833.3 222.9,1827.7 223,1836.6 223.2,1833.6 223.3,1837.6 223.5,1842 223.6,1832.1 223.8,1834.1 223.9,1833.7 224.1,1830 224.2,1828.2 224.4,1836.7 224.5,1845.6 224.7,1837.1 224.8,1837.9 225,1838.2 225.1,1826.6 225.3,1834.5 225.4,1836.7 225.6,1832 225.7,1834.1 225.9,1838.4 226,1826.4 226.1,1839.9 226.3,1833.6 226.4,1832.3 226.6,1827.9 226.7,1838.6 226.9,1834.5 227,1836.1 227.2,1842.7 227.3,1837.8 227.5,1839 227.6,1835.5 227.8,1839.7 227.9,1839.7 228.1,1831.5 228.2,1826.3 228.4,1830.2 228.5,1831.6 228.7,1840.9 228.8,1840 229,1832.9 229.1,1831.6 229.3,1835.6 229.4,1830 229.5,1839.6 229.7,1842.8 229.8,1845 230,1836.1 230.1,1836.1 230.3,1835.9 230.4,1834 230.6,1834.7 230.7,1845.3 230.9,1837.9 231,1831.1 231.2,1834.2 231.3,1835.7 231.5,1824.6 231.6,1838.8 231.8,1837.1 231.9,1836.8 232.1,1832.3 232.2,1836.8 232.4,1834.2 232.5,1835.6 232.7,1828.5 232.8,1829.4 232.9,1825.8 233.1,1828.2 233.2,1836 233.4,1833.2 233.5,1833.4 233.7,1835.5 233.8,1826.2 234,1834.8 234.1,1833.3 234.3,1834.2 234.4,1844.8 234.6,1835.5 234.7,1824.8 234.9,1827.5 235,1833.5 235.2,1841.9 235.3,1837.7 235.5,1826 235.6,1833.7 235.8,1836.2 235.9,1839.3 236.1,1834.8 236.2,1835.2 236.3,1828.6 236.5,1833.6 236.6,1829.4 236.8,1835.4 236.9,1823.6 237.1,1821.8 237.2,1832.4 237.4,1831.5 237.5,1823.7 237.7,1826.6 237.8,1824.6 238,1828.2 238.1,1835.6 238.3,1832.4 238.4,1825.7 238.6,1818.8 238.7,1821.4 238.9,1828.3 239,1827.3 239.2,1826.9 239.3,1824.5 239.4,1828.3 239.6,1821.2 239.7,1830 239.9,1829.7 240,1829.2 240.2,1834.5 240.3,1831.4 240.5,1830.1 240.6,1828.2 240.8,1832.2 240.9,1829.4 241.1,1832.6 241.2,1835.6 241.4,1822.6 241.5,1833.5 241.7,1828.4 241.8,1833.8 242,1831.8 242.1,1836.5 242.3,1838.4 242.4,1837.7 242.6,1834.2 242.7,1843.5 242.8,1833.7 243,1836.7 243.1,1841.6 243.3,1843.5 243.4,1842.2 243.6,1837.8 243.7,1834.5 243.9,1838.9 244,1846.1 244.2,1845.2 244.3,1835.2 244.5,1842.8 244.6,1843.7 244.8,1844.7 244.9,1827.6 245.1,1833.4 245.2,1840.3 245.4,1834.6 245.5,1843.5 245.7,1836 245.8,1839.8 246,1848.6 246.1,1837.6 246.2,1844.5 246.4,1830.3 246.5,1831.6 246.7,1833.6 246.8,1837.7 247,1836.6 247.1,1836.6 247.3,1835.1 247.4,1831.3 247.6,1830.4 247.7,1832.1 247.9,1838.1 248,1842.4 248.2,1843.2 248.3,1828.3 248.5,1832.7 248.6,1831.6 248.8,1840.7 248.9,1839.4 249.1,1838.4 249.2,1835.8 249.4,1843.1 249.5,1839.9 249.6,1849.4 249.8,1844 249.9,1836.6 250.1,1838.8 250.2,1839.6 250.4,1841.5 250.5,1835 250.7,1838.4 250.8,1846 251,1842.7 251.1,1837.9 251.3,1841.1 251.4,1844.9 251.6,1847.5 251.7,1842.6 251.9,1845.9 252,1842.7 252.2,1847.6 252.3,1848.4 252.5,1851.3 252.6,1844.8 252.8,1834.1 252.9,1843.1 253,1847.7 253.2,1843 253.3,1840.4 253.5,1846.2 253.6,1838 253.8,1834.8 253.9,1845.2 254.1,1838.1 254.2,1844.1 254.4,1848.8 254.5,1840.5 254.7,1833.8 254.8,1841.3 255,1849.5 255.1,1841.7 255.3,1845.2 255.4,1844.5 255.6,1842.8 255.7,1854.9 255.9,1847.2 256,1847.9 256.2,1854 256.3,1856.4 256.4,1861.9 256.6,1855.5 256.7,1853.9 256.9,1852.3 257,1844.1 257.2,1853.1 257.3,1849.4 257.5,1853.4 257.6,1852.5 257.8,1854.1 257.9,1846.5 258.1,1843 258.2,1843.9 258.4,1843.4 258.5,1852.5 258.7,1847.8 258.8,1847.1 259,1857.4 259.1,1852.8 259.3,1845.6 259.4,1840.6 259.5,1851.7 259.7,1858.6 259.8,1849.5 260,1850 260.1,1849.5 260.3,1851.4 260.4,1843.5 260.6,1847.8 260.7,1841.4 260.9,1855.3 261,1855 261.2,1850 261.3,1848.9 261.5,1851.3 261.6,1854.3 261.8,1842.5 261.9,1845 262.1,1844.9 262.2,1852.8 262.4,1856.1 262.5,1862.2 262.7,1851.9 262.8,1853.4 262.9,1852.5 263.1,1848.9 263.2,1853.8 263.4,1853.8 263.5,1853.5 263.7,1847.8 263.8,1858.1 264,1857.6 264.1,1855 264.3,1848.3 264.4,1864 264.6,1858.4 264.7,1856.9 264.9,1854.3 265,1858 265.2,1853.4 265.3,1858.5 265.5,1861.2 265.6,1855.3 265.8,1851.8 265.9,1855.1 266.1,1855.5 266.2,1862.6 266.3,1863.2 266.5,1860.8 266.6,1864.9 266.8,1859.9 266.9,1862.2 267.1,1859.7 267.2,1862.7 267.4,1856.5 267.5,1856.5 267.7,1857 267.8,1862.6 268,1858.7 268.1,1860.4 268.3,1863.9 268.4,1856.7 268.6,1858.1 268.7,1859.9 268.9,1863.5 269,1866.5 269.2,1867.8 269.3,1866.2 269.5,1866.1 269.6,1860.8 269.7,1864.3 269.9,1859.1 270,1862.2 270.2,1862.3 270.3,1870.2 270.5,1869.8 270.6,1873.3 270.8,1870.7 270.9,1872.8 271.1,1859.1 271.2,1863.1 271.4,1860.2 271.5,1860 271.7,1872.5 271.8,1862.5 272,1864.2 272.1,1859.5 272.3,1868 272.4,1864.4 272.6,1860.1 272.7,1869.2 272.9,1871.5 273,1858.5 273.1,1868.8 273.3,1855.6 273.4,1871.1 273.6,1876.9 273.7,1870.7 273.9,1872.9 274,1877.8 274.2,1873.5 274.3,1884.3 274.5,1869.1 274.6,1878.4 274.8,1884.4 274.9,1889 275.1,1881.5 275.2,1870.4 275.4,1878.6 275.5,1876.7 275.7,1871.5 275.8,1880.2 276,1872.8 276.1,1882.9 276.3,1880.5 276.4,1881.4 276.5,1885.8 276.7,1867.7 276.8,1874.2 277,1875.2 277.1,1877.9 277.3,1874.9 277.4,1870.1 277.6,1870 277.7,1871.5 277.9,1871.9 278,1869.3 278.2,1881.9 278.3,1876.7 278.5,1871.9 278.6,1881.9 278.8,1882 278.9,1891.3 279.1,1875.6 279.2,1880.1 279.4,1879.1 279.5,1874 279.6,1882.5 279.8,1876.6 279.9,1877 280.1,1876.7 280.2,1873.1 280.4,1877.6 280.5,1869.5 280.7,1876.5 280.8,1875.6 281,1877.4 281.1,1892.2 281.3,1871.3 281.4,1881.6 281.6,1884.9 281.7,1884 281.9,1881.2 282,1873.9 282.2,1882 282.3,1876.8 282.5,1890.9 282.6,1883.5 282.8,1882.5 282.9,1875.4 283,1868 283.2,1881.8 283.3,1891.3 283.5,1884.6 283.6,1889.7 283.8,1895.9 283.9,1899.2 284.1,1896.7 284.2,1890.4 284.4,1886.7 284.5,1885 284.7,1886.5 284.8,1886.1 285,1891.6 285.1,1879.3 285.3,1883.2 285.4,1882.8 285.6,1877.6 285.7,1883.9 285.9,1891 286,1888.5 286.2,1888.3 286.3,1889.7 286.4,1896 286.6,1903.6 286.7,1893.4 286.9,1892.5 287,1897.7 287.2,1890.4 287.3,1900.1 287.5,1894.7 287.6,1883.7 287.8,1888.9 287.9,1899.1 288.1,1894.7 288.2,1893.6 288.4,1897.4 288.5,1899.1 288.7,1887.8 288.8,1893.4 289,1884.5 289.1,1891.5 289.3,1899.2 289.4,1903.1 289.6,1904.3 289.7,1903.3 289.8,1901.5 290,1891.8 290.1,1902.2 290.3,1893.3 290.4,1903.6 290.6,1902 290.7,1892 290.9,1898.7 291,1897.1 291.2,1903.4 291.3,1893 291.5,1897.2 291.6,1901.8 291.8,1890.9 291.9,1899.1 292.1,1897 292.2,1902.9 292.4,1891.9 292.5,1904.9 292.7,1907.2 292.8,1898.4 293,1893.9 293.1,1897.3 293.2,1897.9 293.4,1902.5 293.5,1900.2 293.7,1906.1 293.8,1910.4 294,1910.4 294.1,1901.4 294.3,1895 294.4,1903.2 294.6,1916.6 294.7,1907.9 294.9,1894.4 295,1896.5 295.2,1904.5 295.3,1903.9 295.5,1905.3 295.6,1899.3 295.8,1902.9 295.9,1891.6 296.1,1902.4 296.2,1907 296.4,1901.5 296.5,1901.5 296.6,1901.1 296.8,1900.3 296.9,1902 297.1,1908.5 297.2,1911.6 297.4,1914.4 297.5,1909.2 297.7,1907.9 297.8,1907.3 298,1907.5 298.1,1900.9 298.3,1894.3 298.4,1900.2 298.6,1895.5 298.7,1893.9 298.9,1895.9 299,1904.7 299.2,1898.7 299.3,1902.9 299.5,1906.4 299.6,1899.8 299.7,1899.9 299.9,1899.7 300,1903.9 300.2,1899.7 300.3,1897.4 300.5,1892.6 300.6,1896.2 300.8,1902.6 300.9,1904.7 301.1,1891 301.2,1896.8 301.4,1903.3 301.5,1895.3 301.7,1898.9 301.8,1900.9 302,1904.5 302.1,1915.2 302.3,1903.8 302.4,1904.8 302.6,1904.5 302.7,1894.4 302.9,1897.9 303,1903.2 303.1,1905.3 303.3,1906.3 303.4,1897.6 303.6,1890.4 303.7,1906.5 303.9,1903.1 304,1899.1 304.2,1911.3 304.3,1908.1 304.5,1900.2 304.6,1895.5 304.8,1898.1 304.9,1904.5 305.1,1900.9 305.2,1903.7 305.4,1900.4 305.5,1909.4 305.7,1911.1 305.8,1895.7 306,1900.1 306.1,1894.1 306.3,1901.7 306.4,1899.1 306.5,1899 306.7,1903.9 306.8,1894.1 307,1904.1 307.1,1904.1 307.3,1894.3 307.4,1889.2 307.6,1903.9 307.7,1904 307.9,1914.3 308,1910.7 308.2,1898.8 308.3,1899.9 308.5,1906 308.6,1903.3 308.8,1904.1 308.9,1907.6 309.1,1896.8 309.2,1902.2 309.4,1909.7 309.5,1900.5 309.7,1903.3 309.8,1910.9 309.9,1913 310.1,1910.5 310.2,1905.4 310.4,1908.6 310.5,1901.4 310.7,1899.5 310.8,1905.4 311,1914.4 311.1,1909.4 311.3,1908.9 311.4,1899 311.6,1902.2 311.7,1900.1 311.9,1905.7 312,1903.1 312.2,1907.8 312.3,1910.3 312.5,1906.5 312.6,1913.1 312.8,1904.4 312.9,1912.8 313.1,1909.5 313.2,1915.9 313.3,1911.5 313.5,1909.7 313.6,1913.9 313.8,1895.5 313.9,1906.9 314.1,1902 314.2,1914.2 314.4,1906.1 314.5,1912.3 314.7,1903.7 314.8,1902.2 315,1903.4 315.1,1901.5 315.3,1911.5 315.4,1906.9 315.6,1906.1 315.7,1905.5 315.9,1902.6 316,1892.1 316.2,1906.9 316.3,1903.5 316.5,1902.5 316.6,1902.5 316.7,1911.6 316.9,1901.5 317,1896.9 317.2,1901.8 317.3,1899.9 317.5,1903.8 317.6,1902.1 317.8,1909.6 317.9,1906 318.1,1898.1 318.2,1902.4 318.4,1905 318.5,1896.3 318.7,1898.4 318.8,1906.4 319,1906.7 319.1,1898.5 319.3,1900.4 319.4,1899.6 319.6,1893.6 319.7,1903.7 319.8,1895.1 320,1901.2 320.1,1905.8 320.3,1897.8 320.4,1902.2 320.6,1908.7 320.7,1891.5 320.9,1896 321,1899.1 321.2,1897.9 321.3,1890.9 321.5,1892.9 321.6,1902.3 321.8,1911 321.9,1894.6 322.1,1897.8 322.2,1912.7 322.4,1911.7 322.5,1902.2 322.7,1903.6 322.8,1896.4 323,1898.4 323.1,1894.6 323.2,1895.4 323.4,1895.3 323.5,1897.1 323.7,1887.5 323.8,1893.2 324,1902.3 324.1,1893 324.3,1897.8 324.4,1903.1 324.6,1903.8 324.7,1892.2 324.9,1893.3 325,1900.4 325.2,1896 325.3,1901.3 325.5,1906.1 325.6,1895.3 325.8,1894.4 325.9,1905.4 326.1,1907.6 326.2,1901.1 326.4,1891.3 326.5,1900.8 326.6,1899.6 326.8,1906.2 326.9,1894.5 327.1,1901.2 327.2,1897.4 327.4,1898.8 327.5,1897.6 327.7,1894.2 327.8,1903.6 328,1908 328.1,1895.3 328.3,1903.6 328.4,1892 328.6,1890.3 328.7,1904.1 328.9,1886.6 329,1887.4 329.2,1897.7 329.3,1892.2 329.5,1891.5 329.6,1901.3 329.8,1892.1 329.9,1892.2 330,1896.7 330.2,1899.6 330.3,1901.7 330.5,1897.3 330.6,1890.1 330.8,1891.5 330.9,1894.3 331.1,1900.9 331.2,1899.6 331.4,1893.7 331.5,1902.3 331.7,1896.8 331.8,1891.1 332,1894.7 332.1,1903 332.3,1893.2 332.4,1890 332.6,1902 332.7,1900 332.9,1896.2 333,1885.5 333.2,1890.7 333.3,1893.9 333.4,1895.1 333.6,1899.2 333.7,1882.9 333.9,1893.1 334,1894.5 334.2,1886.4 334.3,1887.2 334.5,1892.1 334.6,1890.6 334.8,1898 334.9,1890.3 335.1,1895.4 335.2,1899 335.4,1887.2 335.5,1893.7 335.7,1892.3 335.8,1903.3 336,1890.9 336.1,1892 336.3,1898.5 336.4,1906.7 336.6,1901.7 336.7,1892.2 336.8,1893.2 337,1896.5 337.1,1888.3 337.3,1895.1 337.4,1892.4 337.6,1896.2 337.7,1895.1 337.9,1897.9 338,1902 338.2,1903.8 338.3,1897.5 338.5,1896 338.6,1900.7 338.8,1896.7 338.9,1912.9 339.1,1909.5 339.2,1906.9 339.4,1904.6 339.5,1904.8 339.7,1898.2 339.8,1905.5 339.9,1910.9 340.1,1899.3 340.2,1906.4 340.4,1915.1 340.5,1908.6 340.7,1895 340.8,1901.9 341,1897.5 341.1,1903.4 341.3,1903.9 341.4,1909.9 341.6,1899.2 341.7,1900.8 341.9,1907.5 342,1903.3 342.2,1897.6 342.3,1903.4 342.5,1907 342.6,1909.8 342.8,1911.8 342.9,1911.7 343.1,1919.3 343.2,1911.8 343.3,1904.7 343.5,1911.6 343.6,1908.8 343.8,1901.3 343.9,1905.2 344.1,1912.8 344.2,1896.1 344.4,1902.1 344.5,1899.3 344.7,1907.8 344.8,1906.6 345,1905 345.1,1905.7 345.3,1909.1 345.4,1907.5 345.6,1914.5 345.7,1914.4 345.9,1902.7 346,1911.1 346.2,1908.2 346.3,1919.2 346.5,1917 346.6,1907.9 346.7,1912.8 346.9,1908.4 347,1910.6 347.2,1910.9 347.3,1914.5 347.5,1911.1 347.6,1917.2 347.8,1912.1 347.9,1908.6 348.1,1891.6 348.2,1916.4 348.4,1900.6 348.5,1911.1 348.7,1904.7 348.8,1908.7 349,1908.3 349.1,1904.5 349.3,1923.6 349.4,1911.7 349.6,1915.6 349.7,1907.9 349.9,1905.9 350,1900.6" fill="none" stroke="#1d1d1b" stroke-width="1.7" stroke-linejoin="bevel"/>
<path d="M25,1901 25.1,1909.4 25.3,1897.1 25.4,1902 25.6,1905.4 25.7,1908.9 25.9,1899.8 26,1908.3 26.2,1900.3 26.3,1906.5 26.5,1903.7 26.6,1904.8 26.8,1900.4 26.9,1898.1 27.1,1907.6 27.2,1898.4 27.4,1897.3 27.5,1894.9 27.7,1891.7 27.8,1906.4 28,1891.9 28.1,1907.7 28.3,1905.6 28.4,1900 28.5,1893.9 28.7,1896.1 28.8,1899.4 29,1898.9 29.1,1907.3 29.3,1903.9 29.4,1888.7 29.6,1911.9 29.7,1905.5 29.9,1903.4 30,1907.4 30.2,1903.5 30.3,1901.5 30.5,1901.4 30.6,1900.6 30.8,1906.3 30.9,1898.2 31.1,1902.7 31.2,1904.9 31.4,1888.4 31.5,1900.2 31.7,1903.1 31.8,1909.7 31.9,1899.3 32.1,1905.2 32.2,1904.1 32.4,1895.8 32.5,1894.6 32.7,1900.1 32.8,1894.3 33,1894.6 33.1,1896.8 33.3,1902.7 33.4,1895.8 33.6,1904 33.7,1894.8 33.9,1896.4 34,1902.6 34.2,1903.2 34.3,1886 34.5,1906.4 34.6,1899.3 34.8,1900.7 34.9,1897 35.1,1896 35.2,1892.4 35.3,1892.1 35.5,1896.8 35.6,1904.1 35.8,1898 35.9,1892.3 36.1,1891.4 36.2,1888.3 36.4,1894.4 36.5,1901.8 36.7,1899.2 36.8,1894.6 37,1889.7 37.1,1888.7 37.3,1889.9 37.4,1901.6 37.6,1899.3 37.7,1895.1 37.9,1895.4 38,1892.8 38.2,1902.5 38.3,1894 38.4,1910.6 38.6,1901.3 38.7,1897.2 38.9,1899.1 39,1893.4 39.2,1897.7 39.3,1897.6 39.5,1895.4 39.6,1902.6 39.8,1891.4 39.9,1900.4 40.1,1895.5 40.2,1897.2 40.4,1900.4 40.5,1898.4 40.7,1896.8 40.8,1900.9 41,1886.6 41.1,1900.8 41.3,1897.4 41.4,1890.4 41.6,1893.5 41.7,1890.6 41.8,1903.4 42,1899.4 42.1,1898.1 42.3,1890.5 42.4,1900.2 42.6,1898.9 42.7,1887.7 42.9,1893 43,1892.4 43.2,1895.3 43.3,1889 43.5,1904 43.6,1900.8 43.8,1899.1 43.9,1895.6 44.1,1895.8 44.2,1907.4 44.4,1896.9 44.5,1899.5 44.7,1879.9 44.8,1893.3 45,1888.3 45.1,1896.1 45.2,1896.8 45.4,1898.9 45.5,1890.7 45.7,1886 45.8,1898 46,1892.2 46.1,1890.8 46.3,1886.5 46.4,1896.5 46.6,1886.9 46.7,1900.3 46.9,1896 47,1897.5 47.2,1896.1 47.3,1888.5 47.5,1889.6 47.6,1878.3 47.8,1892 47.9,1899.7 48.1,1889.6 48.2,1892.7 48.4,1898.4 48.5,1890.5 48.6,1886.9 48.8,1901.6 48.9,1898.3 49.1,1889.3 49.2,1898.5 49.4,1888.6 49.5,1895.7 49.7,1894.2 49.8,1894.7 50,1901.7 50.1,1898.4 50.3,1901.3 50.4,1900.8 50.6,1892.3 50.7,1891.5 50.9,1896.9 51,1894.6 51.2,1886.7 51.3,1894.2 51.5,1897.3 51.6,1891.7 51.8,1897.3 51.9,1901.6 52,1885.8 52.2,1898.5 52.3,1895.7 52.5,1893.1 52.6,1895.7 52.8,1884.1 52.9,1880.4 53.1,1886.3 53.2,1897.6 53.4,1890.7 53.5,1899.6 53.7,1888.3 53.8,1884.9 54,1887.7 54.1,1883.9 54.3,1888.8 54.4,1896.7 54.6,1896.1 54.7,1889 54.9,1907 55,1898.7 55.2,1906.2 55.3,1890 55.4,1908.8 55.6,1918.2 55.7,1903 55.9,1899.6 56,1908.1 56.2,1907.6 56.3,1916.3 56.5,1911.6 56.6,1906.5 56.8,1910.1 56.9,1914.5 57.1,1919.2 57.2,1912.8 57.4,1908.8 57.5,1910 57.7,1925.5 57.8,1921.8 58,1928.6 58.1,1928.7 58.3,1924.6 58.4,1912 58.5,1922.5 58.7,1928.5 58.8,1932.9 59,1927.7 59.1,1939.9 59.3,1930.8 59.4,1929.1 59.6,1940.3 59.7,1930.9 59.9,1925.2 60,1943 60.2,1938.6 60.3,1946.4 60.5,1951 60.6,1943.7 60.8,1946.9 60.9,1959.2 61.1,1962.8 61.2,1953.4 61.4,1960.1 61.5,1960.7 61.7,1954.6 61.8,1955.5 61.9,1950.7 62.1,1941.1 62.2,1958.5 62.4,1946.7 62.5,1960.1 62.7,1955.9 62.8,1950.9 63,1942.9 63.1,1963 63.3,1948.3 63.4,1954.3 63.6,1953.2 63.7,1949.6 63.9,1940.5 64,1934.3 64.2,1944.5 64.3,1950.4 64.5,1952.2 64.6,1961 64.8,1958 64.9,1942.3 65.1,1954 65.2,1951.7 65.3,1945.8 65.5,1943.7 65.6,1943.1 65.8,1943.3 65.9,1940.2 66.1,1929.5 66.2,1930.5 66.4,1933.8 66.5,1937 66.7,1934.1 66.8,1931.8 67,1937.1 67.1,1937.4 67.3,1930.1 67.4,1933.3 67.6,1934.1 67.7,1929.5 67.9,1928.6 68,1932.4 68.2,1918.9 68.3,1921.4 68.5,1923.7 68.6,1917.9 68.7,1912 68.9,1917.3 69,1931.8 69.2,1927.3 69.3,1919.4 69.5,1917.1 69.6,1908.4 69.8,1911.5 69.9,1916.5 70.1,1911.3 70.2,1918.7 70.4,1909.9 70.5,1922.5 70.7,1907.2 70.8,1912.7 71,1907.3 71.1,1911.2 71.3,1918.6 71.4,1913.6 71.6,1910.4 71.7,1907.9 71.9,1908.4 72,1905.8 72.1,1909.6 72.3,1915.9 72.4,1910.1 72.6,1913 72.7,1906.4 72.9,1906.9 73,1903.2 73.2,1905.5 73.3,1897.8 73.5,1896.6 73.6,1895.5 73.8,1897.8 73.9,1894.9 74.1,1893 74.2,1896.5 74.4,1909.9 74.5,1903.9 74.7,1890.5 74.8,1908.8 75,1899.7 75.1,1900.8 75.3,1889 75.4,1892.9 75.5,1896.7 75.7,1895.4 75.8,1904.6 76,1885 76.1,1887.2 76.3,1896.9 76.4,1895.4 76.6,1889.5 76.7,1893.8 76.9,1894.7 77,1886.5 77.2,1889.2 77.3,1885.8 77.5,1883 77.6,1891.7 77.8,1880.5 77.9,1882 78.1,1892.6 78.2,1896.7 78.4,1889.5 78.5,1886.8 78.6,1892.9 78.8,1891 78.9,1890.6 79.1,1891.3 79.2,1886.7 79.4,1879.6 79.5,1876.7 79.7,1890.2 79.8,1888.5 80,1890.6 80.1,1888.7 80.3,1889.8 80.4,1880.2 80.6,1881.7 80.7,1888.3 80.9,1879.2 81,1886.9 81.2,1883.9 81.3,1882.2 81.5,1886.6 81.6,1888.8 81.8,1883.9 81.9,1880.3 82,1884.4 82.2,1874.6 82.3,1877.9 82.5,1883.7 82.6,1878.1 82.8,1882.6 82.9,1879 83.1,1877.4 83.2,1877.4 83.4,1871.3 83.5,1877.1 83.7,1876 83.8,1879.7 84,1886.7 84.1,1882 84.3,1878.2 84.4,1891.7 84.6,1878.4 84.7,1874.9 84.9,1868.9 85,1870.2 85.2,1866 85.3,1871.5 85.4,1874.1 85.6,1869.9 85.7,1877.2 85.9,1866.2 86,1878.2 86.2,1867 86.3,1874.7 86.5,1875.2 86.6,1879.6 86.8,1875.5 86.9,1872.7 87.1,1880.2 87.2,1882.9 87.4,1873.7 87.5,1879.8 87.7,1868.7 87.8,1863 88,1872.1 88.1,1854.4 88.3,1867.6 88.4,1875.3 88.6,1861.3 88.7,1866.4 88.8,1872.1 89,1871.2 89.1,1862.9 89.3,1860.2 89.4,1868.1 89.6,1876.4 89.7,1874.9 89.9,1867 90,1868.8 90.2,1868.1 90.3,1865.7 90.5,1859.2 90.6,1868.9 90.8,1870.3 90.9,1881.4 91.1,1872.8 91.2,1881.2 91.4,1877.2 91.5,1870.6 91.7,1873.4 91.8,1870.4 92,1880.2 92.1,1872.3 92.2,1867.3 92.4,1866.5 92.5,1864.6 92.7,1870 92.8,1862.5 93,1868.9 93.1,1868.3 93.3,1861.3 93.4,1856.1 93.6,1857.7 93.7,1868.5 93.9,1865.8 94,1867 94.2,1863.7 94.3,1855.7 94.5,1856.4 94.6,1869.6 94.8,1863.4 94.9,1861.1 95.1,1864.9 95.2,1864.4 95.4,1857 95.5,1861.2 95.6,1862.2 95.8,1864.4 95.9,1880.6 96.1,1864.2 96.2,1855.4 96.4,1847.8 96.5,1844.7 96.7,1861.9 96.8,1860.1 97,1863.6 97.1,1860.4 97.3,1867.6 97.4,1861.8 97.6,1858 97.7,1858.2 97.9,1858.9 98,1854.9 98.2,1862.1 98.3,1864.4 98.5,1863.2 98.6,1863.6 98.7,1859.8 98.9,1855.7 99,1859.7 99.2,1869.7 99.3,1871.2 99.5,1859.5 99.6,1855.1 99.8,1855.2 99.9,1870.3 100.1,1854.6 100.2,1841.6 100.4,1854.8 100.5,1856.9 100.7,1850.5 100.8,1859.2 101,1862.4 101.1,1851.6 101.3,1860 101.4,1854.3 101.6,1859.6 101.7,1860.4 101.9,1864.1 102,1856.7 102.1,1858.9 102.3,1859.2 102.4,1861.3 102.6,1861.7 102.7,1854.2 102.9,1854.3 103,1852.5 103.2,1863.6 103.3,1857.5 103.5,1867.1 103.6,1851.9 103.8,1847.7 103.9,1848.9 104.1,1855.4 104.2,1856 104.4,1858.8 104.5,1862.7 104.7,1855.3 104.8,1851.9 105,1860.6 105.1,1868.2 105.3,1864.4 105.4,1862.7 105.5,1863.9 105.7,1869.8 105.8,1868.6 106,1860.8 106.1,1849.8 106.3,1866 106.4,1860.4 106.6,1861.2 106.7,1857.3 106.9,1858.8 107,1853.3 107.2,1856.9 107.3,1863.6 107.5,1859.7 107.6,1858.8 107.8,1854.3 107.9,1856.4 108.1,1855.9 108.2,1858.7 108.4,1860.7 108.5,1860.9 108.7,1858 108.8,1852.2 108.9,1849.8 109.1,1860.4 109.2,1858.9 109.4,1857.8 109.5,1848.1 109.7,1860.3 109.8,1858.1 110,1870.2 110.1,1856.9 110.3,1861 110.4,1856.8 110.6,1850.6 110.7,1862.1 110.9,1869.7 111,1857 111.2,1859.5 111.3,1853.7 111.5,1847.2 111.6,1857.5 111.8,1861 111.9,1858.4 112.1,1862.6 112.2,1859.7 112.3,1848 112.5,1857.2 112.6,1862.3 112.8,1854.6 112.9,1852.2 113.1,1865.7 113.2,1854.5 113.4,1856 113.5,1850.5 113.7,1856 113.8,1854.8 114,1858.8 114.1,1841.1 114.3,1846.9 114.4,1847.2 114.6,1847.3 114.7,1850.2 114.9,1843.3 115,1844.9 115.2,1834.8 115.3,1842.9 115.5,1840 115.6,1854.7 115.7,1853.6 115.9,1852.3 116,1857.2 116.2,1853.7 116.3,1853.7 116.5,1855.8 116.6,1845 116.8,1851.2 116.9,1848.3 117.1,1856.8 117.2,1851.5 117.4,1853.9 117.5,1855.2 117.7,1846.2 117.8,1846.7 118,1854.6 118.1,1856.4 118.3,1846.1 118.4,1853.2 118.6,1851.2 118.7,1843.5 118.8,1842.2 119,1847.8 119.1,1850.1 119.3,1848.9 119.4,1851.9 119.6,1850.7 119.7,1843.3 119.9,1846.2 120,1847.6 120.2,1849.5 120.3,1843.8 120.5,1849.3 120.6,1845 120.8,1851.7 120.9,1850.2 121.1,1846.4 121.2,1851.9 121.4,1848.3 121.5,1848.1 121.7,1850.6 121.8,1845.6 122,1846.5 122.1,1850.8 122.2,1848.4 122.4,1843.2 122.5,1851.7 122.7,1854.4 122.8,1843.2 123,1850.7 123.1,1851.2 123.3,1860.1 123.4,1851.2 123.6,1847.3 123.7,1855 123.9,1847.4 124,1853.5 124.2,1850.7 124.3,1840.7 124.5,1836.2 124.6,1845 124.8,1838.9 124.9,1847.5 125.1,1841.6 125.2,1853.5 125.4,1844.7 125.5,1847.6 125.6,1852 125.8,1848.8 125.9,1849.8 126.1,1848.8 126.2,1842.6 126.4,1849.8 126.5,1850.9 126.7,1848.5 126.8,1849.6 127,1847.5 127.1,1852.8 127.3,1843.2 127.4,1850.2 127.6,1842.1 127.7,1840.1 127.9,1847.6 128,1841.3 128.2,1837.2 128.3,1844.7 128.5,1842.8 128.6,1848.1 128.8,1838.2 128.9,1841.2 129,1834.9 129.2,1836.8 129.3,1842.8 129.5,1849.1 129.6,1841.3 129.8,1839.1 129.9,1845 130.1,1840.9 130.2,1843 130.4,1845.6 130.5,1849.1 130.7,1846.2 130.8,1839.7 131,1849.8 131.1,1847.4 131.3,1846.4 131.4,1851.1 131.6,1851.6 131.7,1843.8 131.9,1839.9 132,1846.2 132.2,1851.5 132.3,1846.9 132.4,1847.9 132.6,1844.7 132.7,1852.5 132.9,1843.4 133,1848 133.2,1840.5 133.3,1845.3 133.5,1847.8 133.6,1847.5 133.8,1843.2 133.9,1842.7 134.1,1841.4 134.2,1852.7 134.4,1851.8 134.5,1849.4 134.7,1858.7 134.8,1852.2 135,1846.9 135.1,1852 135.3,1849.5 135.4,1852.7 135.6,1850.1 135.7,1855.8 135.8,1846.3 136,1845.4 136.1,1849.1 136.3,1841.5 136.4,1848.2 136.6,1852.5 136.7,1864.1 136.9,1860.7 137,1851.9 137.2,1845 137.3,1855.1 137.5,1849.2 137.6,1856.5 137.8,1855.3 137.9,1857 138.1,1855.9 138.2,1856.2 138.4,1853 138.5,1859.8 138.7,1846.3 138.8,1848.9 138.9,1861.9 139.1,1863.1 139.2,1843 139.4,1857.1 139.5,1851.2 139.7,1859.4 139.8,1838.4 140,1858.6 140.1,1846.2 140.3,1849.1 140.4,1853.7 140.6,1854.4 140.7,1857.4 140.9,1864.8 141,1851.3 141.2,1843.1 141.3,1852.6 141.5,1851 141.6,1848.6 141.8,1861 141.9,1858.5 142.1,1863.5 142.2,1852.6 142.3,1858.9 142.5,1846.4 142.6,1846.2 142.8,1857 142.9,1852.1 143.1,1851.2 143.2,1855.5 143.4,1852.9 143.5,1851.9 143.7,1862.4 143.8,1848.1 144,1855.5 144.1,1857.3 144.3,1850.4 144.4,1857.4 144.6,1846.3 144.7,1845.7 144.9,1851.7 145,1846.5 145.2,1844.8 145.3,1855.5 145.5,1865.1 145.6,1865.4 145.7,1860.6 145.9,1852 146,1852.3 146.2,1855.5 146.3,1846.1 146.5,1854.1 146.6,1852.2 146.8,1861.2 146.9,1859.4 147.1,1855.8 147.2,1848.5 147.4,1864.9 147.5,1850 147.7,1859.7 147.8,1850.7 148,1855.2 148.1,1861.9 148.3,1861.1 148.4,1845 148.6,1854.6 148.7,1858.8 148.9,1865.2 149,1864.1 149.1,1852.4 149.3,1848.9 149.4,1845.2 149.6,1852.8 149.7,1860 149.9,1864.7 150,1852.5 150.2,1860.5 150.3,1867.1 150.5,1862.2 150.6,1859.8 150.8,1851.7 150.9,1857.3 151.1,1850.7 151.2,1853 151.4,1856.9 151.5,1871.2 151.7,1874.3 151.8,1861.7 152,1855.6 152.1,1850.2 152.3,1867.1 152.4,1857.8 152.5,1856.4 152.7,1853.5 152.8,1858.3 153,1861.4 153.1,1860 153.3,1857.2 153.4,1852 153.6,1862.3 153.7,1863.2 153.9,1866.2 154,1861.8 154.2,1873.7 154.3,1855.7 154.5,1858.5 154.6,1865.8 154.8,1863.1 154.9,1862.3 155.1,1864.1 155.2,1861.4 155.4,1847.4 155.5,1843.9 155.7,1869.9 155.8,1863.5 155.9,1860.9 156.1,1868.5 156.2,1866.7 156.4,1864.9 156.5,1863.6 156.7,1871.6 156.8,1870.6 157,1859.4 157.1,1858.2 157.3,1857.4 157.4,1857.3 157.6,1867.6 157.7,1862.3 157.9,1866.6 158,1860.5 158.2,1865.2 158.3,1860.3 158.5,1867 158.6,1855.5 158.8,1862.9 158.9,1862.7 159,1869.2 159.2,1858.7 159.3,1859.2 159.5,1857.2 159.6,1869.5 159.8,1864.6 159.9,1867 160.1,1868.5 160.2,1866 160.4,1870.1 160.5,1862.4 160.7,1874.5 160.8,1876.3 161,1876.8 161.1,1868.3 161.3,1876.1 161.4,1881.3 161.6,1871.5 161.7,1865.6 161.9,1874.9 162,1870.7 162.2,1874.2 162.3,1871.5 162.4,1870.5 162.6,1883.1 162.7,1867.3 162.9,1874.4 163,1870.6 163.2,1869.9 163.3,1879.9 163.5,1868.1 163.6,1875.3 163.8,1880.7 163.9,1874.2 164.1,1864.1 164.2,1865.4 164.4,1887.1 164.5,1880.2 164.7,1876.1 164.8,1878.3 165,1880.4 165.1,1879.3 165.3,1882.2 165.4,1868.7 165.6,1873.5 165.7,1882.1 165.8,1876.8 166,1869.5 166.1,1877.9 166.3,1871.2 166.4,1883.7 166.6,1881.5 166.7,1865.3 166.9,1875.4 167,1885.7 167.2,1872.3 167.3,1880 167.5,1874.7 167.6,1877.8 167.8,1887.3 167.9,1872 168.1,1879.1 168.2,1889 168.4,1876 168.5,1879.9 168.7,1868.1 168.8,1871.4 169,1877.2 169.1,1888.1 169.2,1890.6 169.4,1883.9 169.5,1890.1 169.7,1882 169.8,1874.8 170,1878.3 170.1,1873.6 170.3,1875.2 170.4,1877.9 170.6,1882.8 170.7,1885 170.9,1883.3 171,1880.5 171.2,1873.9 171.3,1880.4 171.5,1885.9 171.6,1887 171.8,1887.6 171.9,1887.6 172.1,1871.3 172.2,1873.2 172.4,1878.8 172.5,1878.5 172.6,1882.8 172.8,1886.5 172.9,1889.4 173.1,1880.9 173.2,1875 173.4,1872.2 173.5,1880.8 173.7,1876 173.8,1885.2 174,1879.6 174.1,1882.5 174.3,1878.9 174.4,1889.8 174.6,1882.9 174.7,1882.2 174.9,1884.1 175,1874.9 175.2,1875.5 175.3,1874.4 175.5,1871.3 175.6,1884.3 175.8,1877.3 175.9,1890.6 176,1883.7 176.2,1887.9 176.3,1888.2 176.5,1881.7 176.6,1877.1 176.8,1878.9 176.9,1877.4 177.1,1878.3 177.2,1883.3 177.4,1879.9 177.5,1883.2 177.7,1888.1 177.8,1879.3 178,1884.5 178.1,1892.1 178.3,1892.1 178.4,1882 178.6,1882.6 178.7,1884.4 178.9,1881 179,1884.6 179.1,1884.9 179.3,1888.3 179.4,1880.6 179.6,1875.2 179.7,1885.3 179.9,1886.5 180,1880.4 180.2,1877.6 180.3,1876.7 180.5,1883.7 180.6,1880.9 180.8,1885.2 180.9,1881.1 181.1,1888.4 181.2,1881.9 181.4,1890.4 181.5,1873.4 181.7,1888 181.8,1883 182,1875.6 182.1,1881.7 182.3,1878.9 182.4,1887.9 182.5,1879.4 182.7,1875.6 182.8,1875.6 183,1883.1 183.1,1875.3 183.3,1878.7 183.4,1881.3 183.6,1885.1 183.7,1877.5 183.9,1879.1 184,1884 184.2,1886.6 184.3,1882.6 184.5,1889.4 184.6,1879.2 184.8,1876.9 184.9,1876.6 185.1,1884.6 185.2,1869.6 185.4,1879.9 185.5,1875.1 185.7,1878.3 185.8,1876.8 185.9,1886.5 186.1,1877.5 186.2,1885.3 186.4,1891.6 186.5,1887 186.7,1876.4 186.8,1877.4 187,1881.5 187.1,1889.7 187.3,1878.8 187.4,1880 187.6,1885.5 187.7,1879.3 187.9,1883.7 188,1886.6 188.2,1882 188.3,1880.8 188.5,1889.4 188.6,1875.2 188.8,1885.8 188.9,1881.7 189.1,1887.3 189.2,1888.7 189.3,1887.6 189.5,1890.5 189.6,1887.7 189.8,1884.2 189.9,1892.5 190.1,1884 190.2,1881.8 190.4,1886.4 190.5,1882.2 190.7,1882.5 190.8,1880.7 191,1884.5 191.1,1887.7 191.3,1889.6 191.4,1888.1 191.6,1887.9 191.7,1883.9 191.9,1890.6 192,1891.1 192.2,1890.1 192.3,1880 192.5,1870.5 192.6,1889 192.7,1895.5 192.9,1898 193,1890.1 193.2,1887.2 193.3,1886.6 193.5,1889.3 193.6,1888.3 193.8,1886.1 193.9,1872.9 194.1,1885.7 194.2,1884.5 194.4,1890.1 194.5,1889.2 194.7,1888.4 194.8,1877.5 195,1892.5 195.1,1892.5 195.3,1896.3 195.4,1890.4 195.6,1891.1 195.7,1896.5 195.9,1890.5 196,1889.3 196.1,1889.2 196.3,1891.7 196.4,1885.7 196.6,1887.3 196.7,1887.3 196.9,1888.7 197,1892.5 197.2,1891.3 197.3,1890.3 197.5,1893.3 197.6,1887.4 197.8,1897 197.9,1888.5 198.1,1892.8 198.2,1895.9 198.4,1892.2 198.5,1892.6 198.7,1886.8 198.8,1895 199,1897 199.1,1892 199.2,1882.5 199.4,1895.3 199.5,1886 199.7,1877.7 199.8,1889.7 200,1883.2 200.1,1888.8 200.3,1890.8 200.4,1891.4 200.6,1891.9 200.7,1895.6 200.9,1892.2 201,1894.2 201.2,1881.6 201.3,1882.3 201.5,1889.7 201.6,1890.5 201.8,1886.2 201.9,1875.5 202.1,1879.4 202.2,1885.2 202.4,1881.9 202.5,1898.6 202.6,1901.2 202.8,1891.2 202.9,1894.1 203.1,1890.5 203.2,1891 203.4,1890.1 203.5,1887.7 203.7,1892.2 203.8,1892.8 204,1885.7 204.1,1889 204.3,1891.3 204.4,1892.7 204.6,1894.4 204.7,1896.8 204.9,1883.4 205,1895.4 205.2,1890.1 205.3,1890.2 205.5,1890.6 205.6,1887.3 205.8,1873.7 205.9,1876.3 206,1887.7 206.2,1895.4 206.3,1888.4 206.5,1888.8 206.6,1891.9 206.8,1884.5 206.9,1889 207.1,1889.9 207.2,1880.6 207.4,1881.7 207.5,1889.9 207.7,1882.7 207.8,1887 208,1892 208.1,1892.7 208.3,1890.7 208.4,1891.9 208.6,1894.3 208.7,1893.2 208.9,1898.2 209,1900.1 209.2,1891.1 209.3,1887.6 209.4,1891.8 209.6,1898.1 209.7,1894.6 209.9,1899.6 210,1899.4 210.2,1896.8 210.3,1890.8 210.5,1880.5 210.6,1885.8 210.8,1893.3 210.9,1897.9 211.1,1891.1 211.2,1887.4 211.4,1895 211.5,1890 211.7,1888.2 211.8,1894.6 212,1895.9 212.1,1900.3 212.3,1904.8 212.4,1899.5 212.6,1897 212.7,1900.6 212.8,1901.9 213,1893.4 213.1,1896.6 213.3,1883.6 213.4,1891.6 213.6,1890.1 213.7,1895.9 213.9,1896.9 214,1899 214.2,1902.1 214.3,1890.5 214.5,1890.4 214.6,1899.2 214.8,1895.5 214.9,1894.2 215.1,1899.3 215.2,1897.7 215.4,1901.4 215.5,1898 215.7,1894.4 215.8,1897.9 216,1892.2 216.1,1893.7 216.2,1904.6 216.4,1898.8 216.5,1900.3 216.7,1901.5 216.8,1907 217,1896.9 217.1,1903.7 217.3,1897.2 217.4,1897.2 217.6,1894.6 217.7,1901.1 217.9,1895.5 218,1903.8 218.2,1892.9 218.3,1896.7 218.5,1899.6 218.6,1899.1 218.8,1895.3 218.9,1902.1 219.1,1898.9 219.2,1901.9 219.3,1899.4 219.5,1902 219.6,1898.7 219.8,1895.3 219.9,1903.2 220.1,1901 220.2,1896.5 220.4,1899.5 220.5,1897.1 220.7,1908.5 220.8,1907.9 221,1903.2 221.1,1897.7 221.3,1906.1 221.4,1899.3 221.6,1907.3 221.7,1896.2 221.9,1906.9 222,1895.6 222.2,1905 222.3,1905.5 222.5,1908.7 222.6,1905.7 222.7,1892 222.9,1898.7 223,1904.3 223.2,1905.4 223.3,1899.2 223.5,1908 223.6,1900.7 223.8,1899.8 223.9,1903.2 224.1,1901.6 224.2,1904.2 224.4,1901.4 224.5,1903.2 224.7,1899.5 224.8,1904.7 225,1901.5 225.1,1902.1 225.3,1906.9 225.4,1908.9 225.6,1898.6 225.7,1914.2 225.9,1919.7 226,1903.6 226.1,1899.6 226.3,1897.9 226.4,1894 226.6,1898.8 226.7,1897 226.9,1901.6 227,1900.5 227.2,1893.7 227.3,1899.2 227.5,1907.7 227.6,1911.3 227.8,1901.4 227.9,1910.7 228.1,1908.8 228.2,1908.4 228.4,1893.3 228.5,1902.7 228.7,1904.4 228.8,1898.4 229,1900.6 229.1,1911.6 229.3,1906.3 229.4,1916.2 229.5,1903.7 229.7,1899.8 229.8,1902.8 230,1893.5 230.1,1914.4 230.3,1897.4 230.4,1903.8 230.6,1901.2 230.7,1904.9 230.9,1902.5 231,1901.5 231.2,1909.3 231.3,1907.1 231.5,1910 231.6,1909.1 231.8,1901 231.9,1903.3 232.1,1900 232.2,1903.6 232.4,1901.2 232.5,1889.9 232.7,1893.9 232.8,1903.8 232.9,1905.7 233.1,1899.8 233.2,1896.3 233.4,1903.9 233.5,1909.3 233.7,1903.4 233.8,1893.9 234,1897.5 234.1,1902.7 234.3,1904.1 234.4,1906.4 234.6,1901.9 234.7,1911.5 234.9,1906.8 235,1901.5 235.2,1904.6 235.3,1900.3 235.5,1898 235.6,1893.7 235.8,1901.9 235.9,1909.4 236.1,1913 236.2,1906.7 236.3,1913.4 236.5,1899.2 236.6,1907.5 236.8,1909.4 236.9,1907.2 237.1,1901.9 237.2,1905.1 237.4,1902.3 237.5,1904 237.7,1898.9 237.8,1892.9 238,1902.7 238.1,1901 238.3,1909.4 238.4,1903.8 238.6,1894.2 238.7,1896.3 238.9,1892.1 239,1899.8 239.2,1907.7 239.3,1898.5 239.4,1891.4 239.6,1900.9 239.7,1907.3 239.9,1912.9 240,1907 240.2,1900.5 240.3,1911.5 240.5,1910.7 240.6,1909.9 240.8,1902.5 240.9,1908.1 241.1,1900.6 241.2,1908.4 241.4,1907 241.5,1906.6 241.7,1906.5 241.8,1904.4 242,1905.3 242.1,1901.9 242.3,1904.6 242.4,1903.3 242.6,1905 242.7,1899.2 242.8,1899.7 243,1911.1 243.1,1900.3 243.3,1895.5 243.4,1906.6 243.6,1905.5 243.7,1899.7 243.9,1901.8 244,1905 244.2,1896.4 244.3,1904.2 244.5,1902.2 244.6,1897 244.8,1906.1 244.9,1902.5 245.1,1910.4 245.2,1909.5 245.4,1905.1 245.5,1907.3 245.7,1907.6 245.8,1906.7 246,1908.4 246.1,1902.4 246.2,1897.1 246.4,1905.7 246.5,1915.3 246.7,1910.6 246.8,1909.4 247,1903 247.1,1901.4 247.3,1909.5 247.4,1902.5 247.6,1909.4 247.7,1900.4 247.9,1894.2 248,1905.1 248.2,1899.6 248.3,1902.9 248.5,1904.2 248.6,1900.1 248.8,1898.6 248.9,1903 249.1,1905.8 249.2,1904.9 249.4,1900 249.5,1892 249.6,1896.8 249.8,1913.2 249.9,1904.2 250.1,1913.2 250.2,1898.1 250.4,1898.3 250.5,1896.9 250.7,1894.8 250.8,1898.2 251,1901.6 251.1,1895.6 251.3,1901.8 251.4,1896.3 251.6,1903.1 251.7,1903.6 251.9,1897.1 252,1899.8 252.2,1900.8 252.3,1896.1 252.5,1909.8 252.6,1907.1 252.8,1900.7 252.9,1892.2 253,1894.1 253.2,1897.1 253.3,1903.2 253.5,1898.8 253.6,1902.2 253.8,1909.7 253.9,1908.1 254.1,1892.7 254.2,1898.9 254.4,1899.8 254.5,1895.6 254.7,1894 254.8,1898 255,1900.8 255.1,1906.2 255.3,1891 255.4,1894.7 255.6,1897.7 255.7,1899.7 255.9,1903.8 256,1895.1 256.2,1888.4 256.3,1903.3 256.4,1901.4 256.6,1893.2 256.7,1900.5 256.9,1907.8 257,1912.9 257.2,1900.2 257.3,1902.5 257.5,1896.6 257.6,1905.4 257.8,1897.8 257.9,1900.7 258.1,1909.6 258.2,1901.6 258.4,1901.6 258.5,1908.1 258.7,1900.2 258.8,1905.2 259,1908.4 259.1,1908.4 259.3,1909.3 259.4,1904.6 259.5,1907.4 259.7,1909.4 259.8,1908.9 260,1905.4 260.1,1904.2 260.3,1909.3 260.4,1906.4 260.6,1910.3 260.7,1917.5 260.9,1910 261,1901.2 261.2,1906.4 261.3,1907.2 261.5,1913.1 261.6,1911.3 261.8,1902.6 261.9,1910.1 262.1,1909.6 262.2,1910.7 262.4,1896 262.5,1896.7 262.7,1897.5 262.8,1893.9 262.9,1899 263.1,1902.3 263.2,1902.7 263.4,1901 263.5,1898.6 263.7,1912.3 263.8,1918.2 264,1904.3 264.1,1907.6 264.3,1904.5 264.4,1903.2 264.6,1917.7 264.7,1908.6 264.9,1910.8 265,1912.4 265.2,1911.9 265.3,1893.3 265.5,1905.2 265.6,1912.4 265.8,1903.1 265.9,1903.4 266.1,1897.6 266.2,1905.6 266.3,1901.6 266.5,1908.9 266.6,1903.8 266.8,1909.1 266.9,1906.9 267.1,1911.3 267.2,1911.8 267.4,1908.8 267.5,1911.2 267.7,1915.2 267.8,1901.3 268,1907.1 268.1,1913.9 268.3,1919.9 268.4,1912.6 268.6,1909.3 268.7,1920.4 268.9,1915.5 269,1911.7 269.2,1914.6 269.3,1915.4 269.5,1908.8 269.6,1919.6 269.7,1924 269.9,1920.1 270,1918.3 270.2,1908.8 270.3,1906.1 270.5,1915.1 270.6,1912.9 270.8,1915.1 270.9,1914.6 271.1,1907.1 271.2,1915.2 271.4,1908 271.5,1911.7 271.7,1906.9 271.8,1913.3 272,1919 272.1,1903.9 272.3,1895.2 272.4,1898.1 272.6,1906.5 272.7,1907.4 272.9,1906.7 273,1907.2 273.1,1895.2 273.3,1900.6 273.4,1896.7 273.6,1902.9 273.7,1899.6 273.9,1910.3 274,1911.7 274.2,1912 274.3,1904.2 274.5,1899.5 274.6,1909.4 274.8,1906.8 274.9,1910.7 275.1,1911.4 275.2,1915.6 275.4,1901.9 275.5,1909.9 275.7,1913.2 275.8,1910.6 276,1910.3 276.1,1909.3 276.3,1911.4 276.4,1901.8 276.5,1906.6 276.7,1906.6 276.8,1908.1 277,1911.7 277.1,1908.5 277.3,1909.8 277.4,1906.8 277.6,1908.3 277.7,1912.9 277.9,1907.3 278,1912 278.2,1907.2 278.3,1913.5 278.5,1913.3 278.6,1913.7 278.8,1916.5 278.9,1913.4 279.1,1914.9 279.2,1914.6 279.4,1903.6 279.5,1908 279.6,1916.7 279.8,1912.3 279.9,1916.2 280.1,1920.6 280.2,1919.4 280.4,1909.8 280.5,1922.8 280.7,1921 280.8,1921.5 281,1920.7 281.1,1912.7 281.3,1916.1 281.4,1909.9 281.6,1916.1 281.7,1910 281.9,1914.5 282,1909.4 282.2,1913.1 282.3,1906.8 282.5,1902.2 282.6,1913.5 282.8,1914.4 282.9,1908.7 283,1909.3 283.2,1916 283.3,1913.1 283.5,1907.9 283.6,1899.9 283.8,1910.5 283.9,1914.6 284.1,1908.7 284.2,1910.3 284.4,1911.9 284.5,1909.5 284.7,1912.1 284.8,1905.7 285,1916.5 285.1,1910.4 285.3,1907 285.4,1908.1 285.6,1922.6 285.7,1915.5 285.9,1918.1 286,1902.1 286.2,1899.9 286.3,1905 286.4,1909.7 286.6,1905.4 286.7,1906.1 286.9,1919.2 287,1905.4 287.2,1910.8 287.3,1918.2 287.5,1908 287.6,1917.4 287.8,1911.3 287.9,1905.8 288.1,1903.7 288.2,1908.1 288.4,1913.4 288.5,1905.6 288.7,1903.7 288.8,1899.6 289,1912.7 289.1,1908.1 289.3,1905.9 289.4,1909.2 289.6,1909.7 289.7,1909 289.8,1915.2 290,1912.2 290.1,1907.7 290.3,1918.1 290.4,1913 290.6,1913.8 290.7,1910.4 290.9,1904.3 291,1913 291.2,1917.8 291.3,1906.6 291.5,1910.4 291.6,1919.5 291.8,1910.1 291.9,1909.6 292.1,1918.2 292.2,1913.1 292.4,1910.3 292.5,1918.7 292.7,1913.2 292.8,1913 293,1909.8 293.1,1905.6 293.2,1911.2 293.4,1912.7 293.5,1906.5 293.7,1907.9 293.8,1901.6 294,1912.2 294.1,1918 294.3,1906.5 294.4,1912.3 294.6,1914 294.7,1911.5 294.9,1904 295,1919 295.2,1929.5 295.3,1923.7 295.5,1921.5 295.6,1911.7 295.8,1915.9 295.9,1914.4 296.1,1916.3 296.2,1921.6 296.4,1912.6 296.5,1915.2 296.6,1909.7 296.8,1916.2 296.9,1923.4 297.1,1916.2 297.2,1910.6 297.4,1914.7 297.5,1921.8 297.7,1918.6 297.8,1909.2 298,1907.5 298.1,1918 298.3,1919.6 298.4,1927.9 298.6,1918.1 298.7,1915.6 298.9,1897.4 299,1912.1 299.2,1906.4 299.3,1911.6 299.5,1917.7 299.6,1912.2 299.7,1905.9 299.9,1917.7 300,1912 300.2,1907.1 300.3,1917.2 300.5,1912.7 300.6,1912.6 300.8,1910.1 300.9,1902.1 301.1,1913.9 301.2,1917 301.4,1911.8 301.5,1911.8 301.7,1913.7 301.8,1924.5 302,1915.5 302.1,1914 302.3,1915.9 302.4,1917.7 302.6,1918.5 302.7,1917.7 302.9,1907.4 303,1909.8 303.1,1908.5 303.3,1910.4 303.4,1909.8 303.6,1916.8 303.7,1907.6 303.9,1910.1 304,1907 304.2,1911.7 304.3,1910.2 304.5,1908.9 304.6,1912.3 304.8,1917.7 304.9,1913.1 305.1,1906.4 305.2,1908.5 305.4,1917.1 305.5,1911.4 305.7,1908.7 305.8,1910.8 306,1915.6 306.1,1921 306.3,1908.7 306.4,1910.1 306.5,1895.6 306.7,1904.9 306.8,1905.6 307,1911.7 307.1,1908.1 307.3,1901.3 307.4,1907 307.6,1910.9 307.7,1918.7 307.9,1912.2 308,1924.4 308.2,1911.7 308.3,1907 308.5,1916.1 308.6,1915.4 308.8,1914.4 308.9,1923.3 309.1,1921.8 309.2,1917.2 309.4,1919.6 309.5,1910.7 309.7,1908.9 309.8,1912.3 309.9,1909.9 310.1,1920.6 310.2,1915.4 310.4,1914.2 310.5,1913.4 310.7,1915.2 310.8,1913.6 311,1909.4 311.1,1915.1 311.3,1922 311.4,1916.8 311.6,1916.1 311.7,1920.8 311.9,1914 312,1910.2 312.2,1910.2 312.3,1912 312.5,1913.9 312.6,1921 312.8,1919.3 312.9,1910.8 313.1,1921.6 313.2,1918 313.3,1906.7 313.5,1917.4 313.6,1912.6 313.8,1906.5 313.9,1916.8 314.1,1923.8 314.2,1919.9 314.4,1911.6 314.5,1912.9 314.7,1903.8 314.8,1902.4 315,1914.6 315.1,1908.3 315.3,1909.3 315.4,1908 315.6,1913.4 315.7,1916.4 315.9,1914.7 316,1907.3 316.2,1910.1 316.3,1909.2 316.5,1907.6 316.6,1908.3 316.7,1911.4 316.9,1917.9 317,1912.2 317.2,1907.9 317.3,1909.5 317.5,1914.7 317.6,1907.4 317.8,1915.4 317.9,1909 318.1,1907.4 318.2,1909.1 318.4,1908.7 318.5,1911.2 318.7,1915.7 318.8,1922.3 319,1914.4 319.1,1912.1 319.3,1921 319.4,1904 319.6,1908 319.7,1909.5 319.8,1909.7 320,1910.7 320.1,1906.1 320.3,1907.3 320.4,1913.9 320.6,1911.5 320.7,1907.7 320.9,1911.6 321,1904.8 321.2,1905.9 321.3,1906.3 321.5,1907.6 321.6,1905.4 321.8,1922.5 321.9,1920.4 322.1,1913.5 322.2,1915.6 322.4,1915.1 322.5,1915.4 322.7,1923 322.8,1910.7 323,1905 323.1,1908.1 323.2,1915.6 323.4,1915 323.5,1904.4 323.7,1910.6 323.8,1904 324,1906.1 324.1,1904.2 324.3,1906.9 324.4,1910.7 324.6,1914.2 324.7,1918.1 324.9,1917.3 325,1913.9 325.2,1917.1 325.3,1911.3 325.5,1914.2 325.6,1912.3 325.8,1911.6 325.9,1923 326.1,1912.5 326.2,1914.5 326.4,1909 326.5,1914 326.6,1916.2 326.8,1922.7 326.9,1927.8 327.1,1918 327.2,1917 327.4,1918.5 327.5,1908.4 327.7,1915.9 327.8,1917.1 328,1909.1 328.1,1916.9 328.3,1921 328.4,1902.6 328.6,1908.5 328.7,1904.7 328.9,1916.2 329,1913.3 329.2,1907.1 329.3,1917 329.5,1917.4 329.6,1919.2 329.8,1911.4 329.9,1916.4 330,1918.9 330.2,1920.6 330.3,1917.7 330.5,1909.9 330.6,1922.9 330.8,1914.3 330.9,1912.6 331.1,1916.6 331.2,1919.6 331.4,1919.4 331.5,1910 331.7,1909.2 331.8,1911.4 332,1913.4 332.1,1919.1 332.3,1926.1 332.4,1920.6 332.6,1916.3 332.7,1912.4 332.9,1924.3 333,1924.9 333.2,1924 333.3,1913.4 333.4,1915 333.6,1916.6 333.7,1922.6 333.9,1914.7 334,1917.6 334.2,1920.6 334.3,1921.6 334.5,1920.2 334.6,1909.5 334.8,1915 334.9,1920.1 335.1,1914.6 335.2,1909.7 335.4,1920.1 335.5,1912.8 335.7,1927.2 335.8,1912.8 336,1910.7 336.1,1921.4 336.3,1915.9 336.4,1910.9 336.6,1906.1 336.7,1909.4 336.8,1913.8 337,1909.1 337.1,1912.2 337.3,1912.8 337.4,1902.7 337.6,1904.3 337.7,1906.5 337.9,1917.8 338,1917.3 338.2,1920.4 338.3,1906.5 338.5,1907 338.6,1905 338.8,1903.9 338.9,1911 339.1,1917.8 339.2,1914.4 339.4,1906.9 339.5,1908.1 339.7,1911.1 339.8,1905.7 339.9,1915.1 340.1,1904.9 340.2,1917.8 340.4,1917.7 340.5,1925.9 340.7,1916.6 340.8,1907.2 341,1908.1 341.1,1909 341.3,1904.9 341.4,1910.5 341.6,1913.8 341.7,1918 341.9,1921.1 342,1910.5 342.2,1918.9 342.3,1917.6 342.5,1915.7 342.6,1915.3 342.8,1910 342.9,1915.9 343.1,1918.1 343.2,1911.3 343.3,1915.1 343.5,1915.3 343.6,1909.5 343.8,1914.1 343.9,1918 344.1,1908.9 344.2,1916.5 344.4,1912.1 344.5,1913.1 344.7,1909.2 344.8,1905.6 345,1907.2 345.1,1913.8 345.3,1912.3 345.4,1916.6 345.6,1905.6 345.7,1910 345.9,1907 346,1924 346.2,1911.1 346.3,1912 346.5,1909.4 346.6,1917.7 346.7,1917.8 346.9,1915.7 347,1913.7 347.2,1913.2 347.3,1908 347.5,1908.1 347.6,1901.5 347.8,1915.5 347.9,1917.2 348.1,1908.3 348.2,1910.5 348.4,1915 348.5,1911.4 348.7,1908.9 348.8,1918.9 349,1907.9 349.1,1915.5 349.3,1905.5 349.4,1905 349.6,1915.7 349.7,1913.7 349.9,1913.1 350,1914.9" fill="none" stroke="#e1302f" stroke-width="1.9" stroke-linejoin="bevel"/>
<line x1="310" y1="2018.5" x2="365.9" y2="2018.5" stroke="#1d1d1b" stroke-width="1.8"/>
<line x1="365" y1="1955" x2="365" y2="2018.5" stroke="#1d1d1b" stroke-width="1.8"/>
<text transform="translate(388 2020) rotate(-90)" font-size="20.9" fill="#1d1d1b">2 %</text>
<text x="317" y="2044" font-size="20.9" fill="#1d1d1b">1 min</text>
<text x="52" y="2044" font-size="20.9" fill="#1d1d1b">ISO</text>
<text x="415" y="1143" font-size="27" fill="#1d1d1b" font-weight="700">h</text>
<text x="437" y="1143" font-size="20.8" fill="#1d1d1b" font-weight="700">Proportion of responding cells</text>
<rect x="468" y="1307" width="22" height="62.3" fill="#1d1d1b"/>
<rect x="468.9" y="1255.2" width="20.2" height="52.3" fill="#fff" stroke="#1d1d1b" stroke-width="1.8"/>
<text transform="translate(486 1171.2) rotate(-90)" font-size="20.9" fill="#1d1d1b" text-anchor="end">45.8 %</text>
<text transform="translate(486 1387.1) rotate(-90)" font-size="20.9" fill="#1d1d1b" text-anchor="end">54.2 %</text>
<text transform="translate(486 1480) rotate(-90)" font-size="20.9" fill="#1d1d1b" text-anchor="end">0 h</text>
<rect x="491.4" y="1306" width="22" height="63.2" fill="#e1302f"/>
<rect x="492.2" y="1255.2" width="20.2" height="51.4" fill="#fff" stroke="#e1302f" stroke-width="1.8"/>
<text transform="translate(509.4 1171.2) rotate(-90)" font-size="20.9" fill="#1d1d1b" text-anchor="end">45.0 %</text>
<text transform="translate(509.4 1387.1) rotate(-90)" font-size="20.9" fill="#1d1d1b" text-anchor="end">55.0 %</text>
<text transform="translate(509.4 1480) rotate(-90)" font-size="20.9" fill="#1d1d1b" text-anchor="end">1 h</text>
<rect x="514.7" y="1310.9" width="22" height="58.4" fill="#e1302f"/>
<rect x="515.6" y="1255.2" width="20.2" height="56.2" fill="#fff" stroke="#e1302f" stroke-width="1.8"/>
<text transform="translate(532.7 1171.2) rotate(-90)" font-size="20.9" fill="#1d1d1b" text-anchor="end">49.2 %</text>
<text transform="translate(532.7 1387.1) rotate(-90)" font-size="20.9" fill="#1d1d1b" text-anchor="end">50.8 %</text>
<text transform="translate(532.7 1480) rotate(-90)" font-size="20.9" fill="#1d1d1b" text-anchor="end">3 h</text>
<rect x="538" y="1308.9" width="22" height="60.4" fill="#e1302f"/>
<rect x="538.9" y="1255.2" width="20.2" height="54.2" fill="#fff" stroke="#e1302f" stroke-width="1.8"/>
<text transform="translate(556 1171.2) rotate(-90)" font-size="20.9" fill="#1d1d1b" text-anchor="end">47.5 %</text>
<text transform="translate(556 1387.1) rotate(-90)" font-size="20.9" fill="#1d1d1b" text-anchor="end">52.5 %</text>
<text transform="translate(556 1480) rotate(-90)" font-size="20.9" fill="#1d1d1b" text-anchor="end">6 h</text>
<rect x="561.4" y="1306" width="22" height="63.2" fill="#1d1d1b"/>
<rect x="562.3" y="1255.2" width="20.2" height="51.4" fill="#fff" stroke="#1d1d1b" stroke-width="1.8"/>
<text transform="translate(579.4 1171.2) rotate(-90)" font-size="20.9" fill="#1d1d1b" text-anchor="end">45.0 %</text>
<text transform="translate(579.4 1387.1) rotate(-90)" font-size="20.9" fill="#1d1d1b" text-anchor="end">55.0 %</text>
<text transform="translate(579.4 1480) rotate(-90)" font-size="20.9" fill="#1d1d1b" text-anchor="end">24 h</text>
<rect x="438.5" y="1414" width="9.5" height="9.5" fill="#1d1d1b"/>
<text transform="translate(450 1407) rotate(-90)" font-size="20.9" fill="#1d1d1b">Dip</text>
<rect x="439.3" y="1304" width="8" height="8" fill="#fff" stroke="#1d1d1b" stroke-width="1.5"/>
<text transform="translate(450 1295.5) rotate(-90)" font-size="20.9" fill="#1d1d1b">No dip</text>
<text x="478" y="1553" font-size="20.9" fill="#1d1d1b">Astrocytes</text>
<rect x="665.9" y="1254.3" width="22" height="115" fill="#1d1d1b"/>
<text transform="translate(683.9 1171.2) rotate(-90)" font-size="20.9" fill="#1d1d1b" text-anchor="end">0.0 %</text>
<text transform="translate(683.9 1387.1) rotate(-90)" font-size="20.9" fill="#1d1d1b" text-anchor="end">100.0 %</text>
<text transform="translate(683.9 1480) rotate(-90)" font-size="20.9" fill="#1d1d1b" text-anchor="end">0 h</text>
<rect x="689.2" y="1258.1" width="22" height="111.2" fill="#e1302f"/>
<rect x="690.1" y="1255.2" width="20.2" height="3.4" fill="#fff" stroke="#e1302f" stroke-width="1.8"/>
<text transform="translate(707.2 1171.2) rotate(-90)" font-size="20.9" fill="#1d1d1b" text-anchor="end">3.3 %</text>
<text transform="translate(707.2 1387.1) rotate(-90)" font-size="20.9" fill="#1d1d1b" text-anchor="end">96.7 %</text>
<text transform="translate(707.2 1480) rotate(-90)" font-size="20.9" fill="#1d1d1b" text-anchor="end">1 h</text>
<rect x="712.6" y="1264.9" width="22" height="104.4" fill="#e1302f"/>
<rect x="713.5" y="1255.2" width="20.2" height="10.2" fill="#fff" stroke="#e1302f" stroke-width="1.8"/>
<text transform="translate(730.6 1171.2) rotate(-90)" font-size="20.9" fill="#1d1d1b" text-anchor="end">9.2 %</text>
<text transform="translate(730.6 1387.1) rotate(-90)" font-size="20.9" fill="#1d1d1b" text-anchor="end">90.8 %</text>
<text transform="translate(730.6 1480) rotate(-90)" font-size="20.9" fill="#1d1d1b" text-anchor="end">3 h</text>
<rect x="736" y="1263.8" width="22" height="105.5" fill="#e1302f"/>
<rect x="736.9" y="1255.2" width="20.2" height="9.1" fill="#fff" stroke="#e1302f" stroke-width="1.8"/>
<text transform="translate(754 1171.2) rotate(-90)" font-size="20.9" fill="#1d1d1b" text-anchor="end">8.3 %</text>
<text transform="translate(754 1387.1) rotate(-90)" font-size="20.9" fill="#1d1d1b" text-anchor="end">91.7 %</text>
<text transform="translate(754 1480) rotate(-90)" font-size="20.9" fill="#1d1d1b" text-anchor="end">6 h</text>
<rect x="759.3" y="1254.3" width="22" height="115" fill="#1d1d1b"/>
<text transform="translate(777.3 1171.2) rotate(-90)" font-size="20.9" fill="#1d1d1b" text-anchor="end">0.8 %</text>
<text transform="translate(777.3 1387.1) rotate(-90)" font-size="20.9" fill="#1d1d1b" text-anchor="end">99.2 %</text>
<text transform="translate(777.3 1480) rotate(-90)" font-size="20.9" fill="#1d1d1b" text-anchor="end">24 h</text>
<rect x="636.5" y="1414" width="9.5" height="9.5" fill="#1d1d1b"/>
<text transform="translate(648 1407) rotate(-90)" font-size="20.9" fill="#1d1d1b">Surge</text>
<rect x="637.3" y="1304" width="8" height="8" fill="#fff" stroke="#1d1d1b" stroke-width="1.5"/>
<text transform="translate(648 1295.5) rotate(-90)" font-size="20.9" fill="#1d1d1b">No Surge</text>
<text x="684" y="1553" font-size="20.9" fill="#1d1d1b">Neurons</text>
<rect x="884.5" y="1254.3" width="22" height="115" fill="#1d1d1b"/>
<text transform="translate(902.5 1171.2) rotate(-90)" font-size="20.9" fill="#1d1d1b" text-anchor="end">0.8 %</text>
<text transform="translate(902.5 1387.1) rotate(-90)" font-size="20.9" fill="#1d1d1b" text-anchor="end">99.2 %</text>
<text transform="translate(902.5 1480) rotate(-90)" font-size="20.9" fill="#1d1d1b" text-anchor="end">0 h</text>
<rect x="907.9" y="1262" width="22" height="107.3" fill="#e1302f"/>
<rect x="908.8" y="1255.2" width="20.2" height="7.3" fill="#fff" stroke="#e1302f" stroke-width="1.8"/>
<text transform="translate(925.9 1171.2) rotate(-90)" font-size="20.9" fill="#1d1d1b" text-anchor="end">6.7 %</text>
<text transform="translate(925.9 1387.1) rotate(-90)" font-size="20.9" fill="#1d1d1b" text-anchor="end">93.3 %</text>
<text transform="translate(925.9 1480) rotate(-90)" font-size="20.9" fill="#1d1d1b" text-anchor="end">1 h</text>
<rect x="931.2" y="1266.7" width="22" height="102.6" fill="#e1302f"/>
<rect x="932.1" y="1255.2" width="20.2" height="12" fill="#fff" stroke="#e1302f" stroke-width="1.8"/>
<text transform="translate(949.2 1171.2) rotate(-90)" font-size="20.9" fill="#1d1d1b" text-anchor="end">10.8 %</text>
<text transform="translate(949.2 1387.1) rotate(-90)" font-size="20.9" fill="#1d1d1b" text-anchor="end">89.2 %</text>
<text transform="translate(949.2 1480) rotate(-90)" font-size="20.9" fill="#1d1d1b" text-anchor="end">3 h</text>
<rect x="954.5" y="1284" width="22" height="85.3" fill="#e1302f"/>
<rect x="955.4" y="1255.2" width="20.2" height="29.3" fill="#fff" stroke="#e1302f" stroke-width="1.8"/>
<text transform="translate(972.5 1171.2) rotate(-90)" font-size="20.9" fill="#1d1d1b" text-anchor="end">25.8 %</text>
<text transform="translate(972.5 1387.1) rotate(-90)" font-size="20.9" fill="#1d1d1b" text-anchor="end">74.2 %</text>
<text transform="translate(972.5 1480) rotate(-90)" font-size="20.9" fill="#1d1d1b" text-anchor="end">6 h</text>
<rect x="977.9" y="1254.3" width="22" height="115" fill="#1d1d1b"/>
<text transform="translate(995.9 1171.2) rotate(-90)" font-size="20.9" fill="#1d1d1b" text-anchor="end">0.0 %</text>
<text transform="translate(995.9 1387.1) rotate(-90)" font-size="20.9" fill="#1d1d1b" text-anchor="end">100.0 %</text>
<text transform="translate(995.9 1480) rotate(-90)" font-size="20.9" fill="#1d1d1b" text-anchor="end">24 h</text>
<rect x="856.5" y="1414" width="9.5" height="9.5" fill="#1d1d1b"/>
<text transform="translate(868 1407) rotate(-90)" font-size="20.9" fill="#1d1d1b">Surge</text>
<rect x="857.3" y="1304" width="8" height="8" fill="#fff" stroke="#1d1d1b" stroke-width="1.5"/>
<text transform="translate(868 1295.5) rotate(-90)" font-size="20.9" fill="#1d1d1b">No Surge</text>
<text x="895" y="1553" font-size="20.9" fill="#1d1d1b">Astrocytes</text>
<text x="415" y="1630" font-size="27" fill="#1d1d1b" font-weight="700">i</text>
<text x="435" y="1630" font-size="20.8" fill="#1d1d1b" font-weight="700">Lactate dynamics of responding cells</text>
<text x="438" y="1668" font-size="20.9" fill="#1d1d1b">N = 3, n = 6</text>
<text x="625" y="1668" font-size="20.9" fill="#1d1d1b">p &lt; 0.001</text>
<text x="812" y="1668" font-size="20.9" fill="#1d1d1b">p &lt; 0.001</text>
<line x1="636.8" y1="1686.3" x2="684" y2="1686.3" stroke="#1d1d1b" stroke-width="1.5"/>
<line x1="636.8" y1="1696.3" x2="705.3" y2="1696.3" stroke="#1d1d1b" stroke-width="1.5"/>
<line x1="823" y1="1686.3" x2="871.6" y2="1686.3" stroke="#1d1d1b" stroke-width="1.5"/>
<line x1="823" y1="1696.3" x2="892.7" y2="1696.3" stroke="#1d1d1b" stroke-width="1.5"/>
<rect x="438.5" y="1851.6" width="20.6" height="39.9" fill="#1d1d1b"/>
<rect x="461.2" y="1846.1" width="20.6" height="45.4" fill="#e1302f"/>
<rect x="484.1" y="1846.5" width="20.6" height="45" fill="#e1302f"/>
<rect x="507.3" y="1851.6" width="20.6" height="39.9" fill="#e1302f"/>
<rect x="530.3" y="1844.8" width="20.6" height="46.7" fill="#1d1d1b"/>
<line x1="448.8" y1="1813.8" x2="448.8" y2="1852.6" stroke="#1d1d1b" stroke-width="1.5"/>
<line x1="442.5" y1="1813.8" x2="455.1" y2="1813.8" stroke="#1d1d1b" stroke-width="1.7"/>
<path d="M448.6,1815h0M448.8,1820h0M448.7,1828h0M448.7,1833.2h0M448.5,1837.9h0M448.9,1838h0M449,1839h0M448.7,1840.9h0M448.6,1841.7h0M448.6,1842.6h0M449,1844.1h0M448.7,1845h0M448.7,1846.2h0M449,1847.8h0M449.1,1849.2h0M449,1850h0M448.7,1851h0M448.7,1852.4h0M448.8,1853.3h0M448.8,1854.4h0M449.1,1856.3h0M449,1857.5h0M448.5,1858.6h0M448.7,1859.9h0M448.7,1861.7h0M448.9,1863.1h0M448.9,1864.2h0M448.8,1865.4h0M448.7,1867.4h0M448.5,1868.4h0M448.5,1869.5h0M449,1871.1h0M448.6,1872.4h0M448.7,1873.8h0M449,1875.4h0M448.8,1876.3h0M448.8,1877.3h0M448.5,1878.8h0M448.8,1879.7h0M448.8,1880.6h0M448.7,1881.5h0M448.9,1882.7h0M448.6,1884.5h0M448.6,1886.3h0M448.7,1888h0M448.9,1889.4h0M448.7,1891.2h0M448.8,1892.4h0" stroke="#d2332c" stroke-width="3.9" stroke-linecap="round" fill="none"/>
<circle cx="448.8" cy="1705.8" r="1.9" fill="#d2332c"/>
<circle cx="448.8" cy="1753.8" r="1.9" fill="#d2332c"/>
<circle cx="448.8" cy="1757.7" r="1.9" fill="#d2332c"/>
<circle cx="448.8" cy="1766.9" r="1.9" fill="#d2332c"/>
<circle cx="448.8" cy="1777.6" r="1.9" fill="#d2332c"/>
<circle cx="448.8" cy="1784.4" r="1.9" fill="#d2332c"/>
<circle cx="448.8" cy="1796.8" r="1.9" fill="#d2332c"/>
<line x1="471.5" y1="1807.3" x2="471.5" y2="1847.1" stroke="#e1302f" stroke-width="1.5"/>
<line x1="465.2" y1="1807.3" x2="477.8" y2="1807.3" stroke="#e1302f" stroke-width="1.7"/>
<path d="M471.6,1816h0M471.3,1824.1h0M471.7,1829.4h0M471.3,1833h0M471.7,1834.7h0M471.8,1836h0M471.2,1837.9h0M471.2,1839.8h0M471.8,1841.3h0M471.3,1842.8h0M471.4,1844.2h0M471.5,1845.4h0M471.5,1846.3h0M471.2,1847.4h0M471.7,1848.3h0M471.2,1849.4h0M471.8,1850.4h0M471.2,1852.2h0M471.2,1854.1h0M471.7,1856h0M471.5,1857.9h0M471.8,1859.3h0M471.7,1860.7h0M471.3,1862.6h0M471.8,1863.8h0M471.4,1865.2h0M471.3,1866.3h0M471.3,1867.6h0M471.8,1869.1h0M471.2,1870.3h0M471.5,1872.2h0M471.2,1874.2h0M471.5,1875.2h0M471.4,1876.3h0M471.2,1877.6h0M471.3,1878.5h0M471.3,1879.5h0M471.2,1880.5h0M471.5,1882.3h0M471.3,1883.2h0M471.8,1884.8h0M471.6,1886.2h0M471.8,1887.7h0M471.3,1888.9h0M471.3,1890.7h0M471.7,1892.6h0" stroke="#1d1d1b" stroke-width="4.1" stroke-linecap="round" fill="none"/>
<circle cx="471.5" cy="1731.3" r="2" fill="#1d1d1b"/>
<circle cx="471.5" cy="1753.8" r="2" fill="#1d1d1b"/>
<circle cx="471.5" cy="1755.5" r="2" fill="#1d1d1b"/>
<circle cx="471.5" cy="1766.5" r="2" fill="#1d1d1b"/>
<circle cx="471.5" cy="1769.6" r="2" fill="#1d1d1b"/>
<circle cx="471.5" cy="1777.6" r="2" fill="#1d1d1b"/>
<circle cx="471.5" cy="1791.7" r="2" fill="#1d1d1b"/>
<circle cx="471.5" cy="1807.3" r="2" fill="#1d1d1b"/>
<line x1="494.4" y1="1800.5" x2="494.4" y2="1847.5" stroke="#e1302f" stroke-width="1.5"/>
<line x1="488.1" y1="1800.5" x2="500.7" y2="1800.5" stroke="#e1302f" stroke-width="1.7"/>
<path d="M494.4,1808h0M494.6,1813h0M494.3,1818.8h0M494.7,1824.3h0M494.2,1827.6h0M494.7,1830.6h0M494.2,1833.1h0M494.1,1835.6h0M494.7,1839.9h0M494.6,1843.7h0M494.3,1844h0M494.5,1845.5h0M494.1,1846.5h0M494.7,1847.8h0M494.2,1849.1h0M494.4,1850.3h0M494.5,1852.2h0M494.2,1853.8h0M494.2,1855.1h0M494.6,1856.3h0M494.3,1857.6h0M494.3,1859.5h0M494.6,1861.2h0M494.6,1862.1h0M494.4,1863.1h0M494.1,1864h0M494.5,1865.4h0M494.4,1866.7h0M494.5,1868.6h0M494.6,1870.6h0M494.4,1872.2h0M494.6,1874h0M494.1,1875.9h0M494.5,1877.3h0M494.5,1879.2h0M494.2,1880.1h0M494.2,1881.3h0M494.6,1883.2h0M494.1,1884.4h0M494.2,1885.4h0M494.1,1887h0M494.6,1887.9h0M494.2,1889.5h0M494.4,1890.4h0M494.1,1892.3h0" stroke="#1d1d1b" stroke-width="4.1" stroke-linecap="round" fill="none"/>
<circle cx="494.4" cy="1712.4" r="2" fill="#1d1d1b"/>
<circle cx="494.4" cy="1724" r="2" fill="#1d1d1b"/>
<circle cx="494.4" cy="1733.7" r="2" fill="#1d1d1b"/>
<circle cx="494.4" cy="1747.5" r="2" fill="#1d1d1b"/>
<circle cx="494.4" cy="1764" r="2" fill="#1d1d1b"/>
<circle cx="494.4" cy="1772" r="2" fill="#1d1d1b"/>
<circle cx="494.4" cy="1780" r="2" fill="#1d1d1b"/>
<circle cx="494.4" cy="1786.6" r="2" fill="#1d1d1b"/>
<circle cx="494.4" cy="1800.5" r="2" fill="#1d1d1b"/>
<line x1="517.6" y1="1811.8" x2="517.6" y2="1852.6" stroke="#e1302f" stroke-width="1.5"/>
<line x1="511.3" y1="1811.8" x2="523.9" y2="1811.8" stroke="#e1302f" stroke-width="1.7"/>
<path d="M517.7,1818h0M517.9,1827.2h0M517.4,1832h0M517.6,1836.3h0M517.9,1838.8h0M517.4,1842.4h0M517.8,1843h0M517.8,1844.5h0M517.5,1845.7h0M517.9,1847.6h0M517.5,1848.5h0M517.7,1849.8h0M517.6,1851.4h0M517.9,1852.7h0M517.5,1853.9h0M517.6,1855.1h0M517.5,1856.5h0M517.4,1858.2h0M517.8,1859.6h0M517.5,1861.3h0M517.6,1862.3h0M517.7,1863.5h0M517.4,1865.3h0M517.3,1866.8h0M517.9,1868h0M517.4,1869.8h0M517.3,1870.6h0M517.3,1872.5h0M517.5,1873.9h0M517.7,1875.6h0M517.9,1876.7h0M517.8,1877.5h0M517.9,1878.4h0M517.5,1879.6h0M517.9,1881.4h0M517.8,1883.4h0M517.4,1884.5h0M517.8,1885.5h0M517.5,1887.2h0M517.6,1889h0M517.5,1889.8h0M517.4,1891.4h0" stroke="#1d1d1b" stroke-width="4.1" stroke-linecap="round" fill="none"/>
<circle cx="517.6" cy="1701" r="2" fill="#1d1d1b"/>
<circle cx="517.6" cy="1729" r="2" fill="#1d1d1b"/>
<circle cx="517.6" cy="1746" r="2" fill="#1d1d1b"/>
<circle cx="517.6" cy="1756.8" r="2" fill="#1d1d1b"/>
<circle cx="517.6" cy="1791.7" r="2" fill="#1d1d1b"/>
<circle cx="517.6" cy="1801.4" r="2" fill="#1d1d1b"/>
<circle cx="517.6" cy="1803" r="2" fill="#1d1d1b"/>
<line x1="540.6" y1="1812.4" x2="540.6" y2="1845.8" stroke="#1d1d1b" stroke-width="1.5"/>
<line x1="534.3" y1="1812.4" x2="546.9" y2="1812.4" stroke="#1d1d1b" stroke-width="1.7"/>
<path d="M540.5,1805h0M540.9,1813.1h0M540.5,1818.6h0M540.6,1821.6h0M540.8,1826h0M540.9,1827.7h0M540.9,1829.1h0M540.4,1830.3h0M540.3,1831.3h0M540.7,1832.7h0M540.9,1834.6h0M540.8,1835.9h0M540.7,1837.3h0M540.5,1838.1h0M540.7,1839.7h0M540.5,1840.8h0M540.6,1842.2h0M540.4,1843.8h0M540.9,1845.5h0M540.6,1846.7h0M540.7,1848.1h0M540.8,1849.8h0M540.8,1851.2h0M540.4,1852.2h0M540.7,1853.9h0M540.5,1855.6h0M540.5,1857.1h0M540.8,1857.9h0M540.5,1859.2h0M540.8,1860.4h0M540.3,1862.2h0M540.4,1863h0M540.7,1864.3h0M540.4,1865.7h0M540.5,1866.7h0M540.8,1868.5h0M540.3,1869.8h0M540.7,1871.6h0M540.6,1873.5h0M540.6,1874.8h0M540.6,1876.1h0M540.7,1877.5h0M540.8,1879h0M540.7,1880.6h0M540.5,1882.1h0M540.5,1883.9h0M540.4,1884.8h0M540.3,1885.7h0M540.3,1886.6h0M540.7,1887.8h0M540.5,1889h0M540.6,1890.2h0M540.3,1891.1h0M540.4,1892.3h0" stroke="#d2332c" stroke-width="3.9" stroke-linecap="round" fill="none"/>
<circle cx="540.6" cy="1753.8" r="1.9" fill="#d2332c"/>
<circle cx="540.6" cy="1763" r="1.9" fill="#d2332c"/>
<circle cx="540.6" cy="1765.7" r="1.9" fill="#d2332c"/>
<circle cx="540.6" cy="1768" r="1.9" fill="#d2332c"/>
<circle cx="540.6" cy="1783" r="1.9" fill="#d2332c"/>
<circle cx="540.6" cy="1795.8" r="1.9" fill="#d2332c"/>
<line x1="570.3" y1="1833.7" x2="570.3" y2="1891.8" stroke="#1d1d1b" stroke-width="1.7"/>
<text transform="translate(594.3 1891.2) rotate(-90)" font-size="20.9" fill="#1d1d1b">10 %<tspan font-size="17">&#215;</tspan>min</text>
<text transform="translate(454.1 1929.6) rotate(-90)" font-size="20.9" fill="#1d1d1b" text-anchor="end">0 h</text>
<text transform="translate(476.8 1929.6) rotate(-90)" font-size="20.9" fill="#1d1d1b" text-anchor="end">1 h</text>
<text transform="translate(499.7 1929.6) rotate(-90)" font-size="20.9" fill="#1d1d1b" text-anchor="end">3 h</text>
<text transform="translate(522.9 1929.6) rotate(-90)" font-size="20.9" fill="#1d1d1b" text-anchor="end">6 h</text>
<text transform="translate(545.9 1929.6) rotate(-90)" font-size="20.9" fill="#1d1d1b" text-anchor="end">24 h</text>
<text x="480.2" y="2003.2" font-size="20.9" fill="#1d1d1b">Dip</text>
<text x="448.5" y="2039.2" font-size="20.9" fill="#1d1d1b">Astrocytes</text>
<rect x="626.5" y="1851.6" width="20.4" height="39.9" fill="#1d1d1b"/>
<rect x="649" y="1852.8" width="20.4" height="38.7" fill="#e1302f"/>
<rect x="672" y="1864.7" width="20.4" height="26.8" fill="#e1302f"/>
<rect x="694.7" y="1867.4" width="20.4" height="24.1" fill="#e1302f"/>
<rect x="717.2" y="1859.2" width="20.4" height="32.3" fill="#1d1d1b"/>
<line x1="636.7" y1="1822.3" x2="636.7" y2="1852.6" stroke="#1d1d1b" stroke-width="1.5"/>
<line x1="630.4" y1="1822.3" x2="643" y2="1822.3" stroke="#1d1d1b" stroke-width="1.7"/>
<path d="M636.4,1800h0M636.6,1808.6h0M636.6,1813.1h0M636.8,1817.8h0M636.6,1823h0M637,1826h0M636.8,1827.8h0M636.4,1828.7h0M636.7,1830.6h0M636.6,1832.1h0M636.4,1833.7h0M636.4,1834.6h0M636.9,1835.8h0M636.6,1837.4h0M636.5,1838.7h0M636.8,1840.2h0M636.8,1841.8h0M636.5,1843.3h0M636.4,1844.2h0M636.7,1845.7h0M636.6,1847.4h0M636.6,1849.3h0M636.6,1850.2h0M636.6,1852.1h0M636.7,1853.4h0M636.7,1854.8h0M636.9,1856.8h0M636.8,1857.8h0M636.9,1859.4h0M636.6,1860.4h0M636.5,1862.2h0M636.7,1863h0M636.4,1864.5h0M636.5,1865.5h0M636.5,1866.6h0M636.4,1867.5h0M636.5,1868.6h0M636.8,1870.2h0M636.8,1871.9h0M636.7,1873.6h0M636.9,1874.7h0M636.9,1876.1h0M636.6,1877.6h0M636.9,1878.7h0M637,1880.1h0M636.8,1882.1h0M636.8,1883.5h0M636.6,1884.7h0M636.6,1886.4h0M636.4,1888.3h0M636.5,1889.1h0M636.9,1890.2h0M636.8,1892h0" stroke="#d2332c" stroke-width="3.9" stroke-linecap="round" fill="none"/>
<circle cx="636.7" cy="1743" r="1.9" fill="#d2332c"/>
<circle cx="636.7" cy="1760.6" r="1.9" fill="#d2332c"/>
<circle cx="636.7" cy="1776.5" r="1.9" fill="#d2332c"/>
<circle cx="636.7" cy="1780" r="1.9" fill="#d2332c"/>
<circle cx="636.7" cy="1787.8" r="1.9" fill="#d2332c"/>
<circle cx="636.7" cy="1794" r="1.9" fill="#d2332c"/>
<circle cx="636.7" cy="1796.8" r="1.9" fill="#d2332c"/>
<line x1="659.2" y1="1821.8" x2="659.2" y2="1853.8" stroke="#e1302f" stroke-width="1.5"/>
<line x1="652.9" y1="1821.8" x2="665.5" y2="1821.8" stroke="#e1302f" stroke-width="1.7"/>
<path d="M659.3,1798h0M659.3,1805.2h0M659.4,1813h0M658.9,1815.9h0M658.9,1818.6h0M659.1,1822.1h0M659.2,1824.7h0M659.4,1827.8h0M659.2,1828h0M659,1829.5h0M659.5,1830.5h0M659,1831.8h0M659,1832.9h0M658.9,1834.6h0M659,1835.7h0M659.3,1837.4h0M659.2,1838.5h0M659.4,1839.4h0M659,1841.3h0M659.2,1842.7h0M659.4,1844.4h0M659.2,1846h0M659.5,1847.9h0M658.9,1848.9h0M659.1,1850.2h0M659.1,1851.6h0M659.5,1853.3h0M659.4,1854.9h0M659.1,1855.8h0M659.1,1857.3h0M659.4,1859.2h0M658.9,1861.1h0M659,1862.1h0M659.1,1863.6h0M659.2,1865h0M659,1866.3h0M659,1867.1h0M659.5,1868h0M658.9,1869.4h0M659.2,1870.6h0M659.3,1872.1h0M658.9,1873.1h0M659.5,1875h0M659,1875.8h0M658.9,1877.5h0M659.4,1879.2h0M659.3,1880.7h0M659.4,1882.7h0M659.5,1883.5h0M659.5,1884.5h0M659.3,1885.5h0M659,1886.9h0M659.4,1888.7h0M659,1890.2h0M659.1,1891.5h0" stroke="#1d1d1b" stroke-width="4.1" stroke-linecap="round" fill="none"/>
<circle cx="659.2" cy="1725.4" r="2" fill="#1d1d1b"/>
<circle cx="659.2" cy="1741.5" r="2" fill="#1d1d1b"/>
<circle cx="659.2" cy="1764" r="2" fill="#1d1d1b"/>
<circle cx="659.2" cy="1768.2" r="2" fill="#1d1d1b"/>
<circle cx="659.2" cy="1796" r="2" fill="#1d1d1b"/>
<line x1="682.2" y1="1847.3" x2="682.2" y2="1865.7" stroke="#e1302f" stroke-width="1.5"/>
<line x1="675.9" y1="1847.3" x2="688.5" y2="1847.3" stroke="#e1302f" stroke-width="1.7"/>
<path d="M682.3,1822h0M682.2,1826h0M682,1830.3h0M682.5,1835.7h0M681.9,1838.9h0M682.2,1841.6h0M682,1844.8h0M682.5,1845.7h0M682.3,1846.8h0M682.3,1848.4h0M682.4,1850.1h0M681.9,1851.5h0M681.9,1853.5h0M682.1,1855.4h0M682.5,1857h0M682.4,1858.4h0M682,1859.9h0M681.9,1861.3h0M682.1,1863.3h0M682.2,1865.1h0M682.4,1866.6h0M681.9,1868.4h0M682.4,1870.2h0M682.3,1871.3h0M682,1872.4h0M681.9,1874.2h0M682.1,1876h0M682.3,1877.2h0M682.3,1878.7h0M682,1880.5h0M682.5,1882.2h0M682.4,1884.1h0M682.4,1885.9h0M682,1887h0M682,1889h0M682.3,1890.4h0M682.3,1891.4h0" stroke="#1d1d1b" stroke-width="4.1" stroke-linecap="round" fill="none"/>
<circle cx="682.2" cy="1803.6" r="2" fill="#1d1d1b"/>
<circle cx="682.2" cy="1807.3" r="2" fill="#1d1d1b"/>
<circle cx="682.2" cy="1811.6" r="2" fill="#1d1d1b"/>
<circle cx="682.2" cy="1815" r="2" fill="#1d1d1b"/>
<line x1="704.9" y1="1851.6" x2="704.9" y2="1868.4" stroke="#e1302f" stroke-width="1.5"/>
<line x1="698.6" y1="1851.6" x2="711.2" y2="1851.6" stroke="#e1302f" stroke-width="1.7"/>
<path d="M705.2,1824h0M705.2,1830.4h0M704.9,1836.3h0M705.2,1838h0M705.1,1839.7h0M705.2,1840.7h0M704.8,1841.6h0M704.9,1842.8h0M705.1,1844.6h0M704.8,1845.6h0M704.7,1847.1h0M704.7,1847.9h0M704.9,1848.7h0M704.8,1849.9h0M704.7,1851.3h0M704.6,1852.5h0M704.9,1854.3h0M705.1,1855.6h0M705.1,1856.6h0M705.2,1858.4h0M705.1,1860h0M704.8,1861.2h0M704.7,1863.1h0M705.2,1864.6h0M705.2,1865.9h0M705.2,1867.3h0M705.2,1868.2h0M705.2,1869.6h0M704.7,1871h0M705.2,1872h0M705.2,1873.3h0M705.2,1874.4h0M705,1875.6h0M705.1,1877.3h0M704.6,1879.1h0M704.9,1880.3h0M705.2,1881.7h0M704.9,1882.5h0M705.1,1883.8h0M704.8,1884.9h0M704.7,1886.7h0M704.9,1888.3h0M704.6,1889.1h0M704.9,1890.9h0M704.8,1892.1h0" stroke="#1d1d1b" stroke-width="4.1" stroke-linecap="round" fill="none"/>
<circle cx="704.9" cy="1807.7" r="2" fill="#1d1d1b"/>
<circle cx="704.9" cy="1817.6" r="2" fill="#1d1d1b"/>
<line x1="727.4" y1="1839.3" x2="727.4" y2="1860.2" stroke="#1d1d1b" stroke-width="1.5"/>
<line x1="721.1" y1="1839.3" x2="733.7" y2="1839.3" stroke="#1d1d1b" stroke-width="1.7"/>
<path d="M727.2,1812h0M727.6,1815.3h0M727.5,1820.1h0M727.6,1826h0M727.7,1827.6h0M727.4,1828.7h0M727.1,1829.8h0M727.3,1831.1h0M727.4,1832.7h0M727.1,1834h0M727.1,1834.9h0M727.4,1836.8h0M727.4,1838.3h0M727.2,1839.7h0M727.4,1841.5h0M727.4,1842.9h0M727.4,1844.5h0M727.3,1846.2h0M727.4,1847.5h0M727.6,1849.5h0M727.4,1851h0M727.5,1852.5h0M727.4,1853.4h0M727.1,1855h0M727.6,1856.6h0M727.6,1858.4h0M727.2,1860.3h0M727.2,1862.3h0M727.7,1864.2h0M727.6,1865.6h0M727.6,1866.8h0M727.7,1867.9h0M727.5,1869.4h0M727.3,1870.4h0M727.4,1871.6h0M727.4,1873h0M727.7,1874.7h0M727.4,1876.3h0M727.3,1877.3h0M727.2,1878.6h0M727.1,1880.5h0M727.3,1881.3h0M727.7,1883.2h0M727.3,1884.3h0M727.1,1885.6h0M727.7,1887.5h0M727.1,1889.2h0M727.1,1890.9h0M727.3,1892.4h0" stroke="#d2332c" stroke-width="3.9" stroke-linecap="round" fill="none"/>
<circle cx="727.4" cy="1786.9" r="1.9" fill="#d2332c"/>
<circle cx="727.4" cy="1792.9" r="1.9" fill="#d2332c"/>
<line x1="753.6" y1="1852.4" x2="753.6" y2="1891.8" stroke="#1d1d1b" stroke-width="1.7"/>
<text transform="translate(777.6 1891.2) rotate(-90)" font-size="20.9" fill="#1d1d1b">10 %<tspan font-size="17">&#215;</tspan>min</text>
<text transform="translate(642 1929.6) rotate(-90)" font-size="20.9" fill="#1d1d1b" text-anchor="end">0 h</text>
<text transform="translate(664.5 1929.6) rotate(-90)" font-size="20.9" fill="#1d1d1b" text-anchor="end">1 h</text>
<text transform="translate(687.5 1929.6) rotate(-90)" font-size="20.9" fill="#1d1d1b" text-anchor="end">3 h</text>
<text transform="translate(710.2 1929.6) rotate(-90)" font-size="20.9" fill="#1d1d1b" text-anchor="end">6 h</text>
<text transform="translate(732.7 1929.6) rotate(-90)" font-size="20.9" fill="#1d1d1b" text-anchor="end">24 h</text>
<text x="655.2" y="2003.2" font-size="20.9" fill="#1d1d1b">Surge</text>
<text x="631.5" y="2039.2" font-size="20.9" fill="#1d1d1b">Neurons</text>
<rect x="812.9" y="1863.8" width="20.5" height="28.2" fill="#1d1d1b"/>
<rect x="836" y="1870" width="20.5" height="22" fill="#e1302f"/>
<rect x="859" y="1878.8" width="20.5" height="13.2" fill="#e1302f"/>
<rect x="882.1" y="1878" width="20.5" height="14" fill="#e1302f"/>
<rect x="905.5" y="1863.1" width="20.5" height="28.9" fill="#1d1d1b"/>
<line x1="823.1" y1="1844.8" x2="823.1" y2="1864.8" stroke="#1d1d1b" stroke-width="1.5"/>
<line x1="816.9" y1="1844.8" x2="829.4" y2="1844.8" stroke="#1d1d1b" stroke-width="1.7"/>
<path d="M823.3,1826h0M823,1830.8h0M823,1834h0M822.9,1835.3h0M823.2,1836.4h0M822.9,1838.2h0M823.4,1839.3h0M823.2,1840.1h0M822.8,1842h0M823.1,1843.7h0M823.2,1845h0M822.9,1847h0M823.1,1848.3h0M822.9,1849.2h0M823.3,1850.4h0M823.1,1851.4h0M823,1853.4h0M823.1,1855.2h0M822.8,1856.6h0M823.1,1857.9h0M823.4,1859.2h0M822.9,1860.9h0M823.4,1862h0M823,1863.5h0M823.3,1864.5h0M823.4,1865.6h0M823.4,1866.5h0M823.5,1868.4h0M823.1,1869.3h0M823.3,1870.8h0M823,1872.5h0M823.4,1874.4h0M823.1,1876.2h0M823.2,1877.6h0M823.3,1878.8h0M822.9,1880.1h0M823.1,1881h0M823.4,1882.4h0M823.3,1883.4h0M823,1884.6h0M823.1,1886.4h0M823.2,1887.6h0M823.5,1888.8h0M823.2,1890.5h0M823.5,1891.3h0M822.9,1892.7h0" stroke="#d2332c" stroke-width="3.9" stroke-linecap="round" fill="none"/>
<circle cx="823.1" cy="1788.6" r="1.9" fill="#d2332c"/>
<circle cx="823.1" cy="1796.8" r="1.9" fill="#d2332c"/>
<circle cx="823.1" cy="1820" r="1.9" fill="#d2332c"/>
<line x1="846.2" y1="1857.5" x2="846.2" y2="1871" stroke="#e1302f" stroke-width="1.5"/>
<line x1="840" y1="1857.5" x2="852.5" y2="1857.5" stroke="#e1302f" stroke-width="1.7"/>
<path d="M846.6,1844.8h0M846.3,1849.5h0M846.4,1850h0M846.6,1851.6h0M846.4,1853.5h0M846.2,1855.4h0M846,1856.6h0M846.3,1857.9h0M846.4,1859.7h0M846.1,1860.9h0M846,1862.5h0M846.4,1863.9h0M846.1,1865.4h0M846.1,1867.1h0M846,1869.1h0M846.5,1870.4h0M846.3,1872h0M846.1,1873.7h0M846.2,1875.4h0M846.2,1877.1h0M846.3,1878.3h0M846.4,1879.4h0M846.2,1880.4h0M846.2,1882.2h0M845.9,1884.1h0M845.9,1885.8h0M846,1887.6h0M845.9,1889h0M846.4,1890.4h0M846.1,1891.9h0" stroke="#1d1d1b" stroke-width="4.1" stroke-linecap="round" fill="none"/>
<circle cx="846.2" cy="1805" r="2" fill="#1d1d1b"/>
<line x1="869.2" y1="1868.2" x2="869.2" y2="1879.8" stroke="#e1302f" stroke-width="1.5"/>
<line x1="863" y1="1868.2" x2="875.5" y2="1868.2" stroke="#e1302f" stroke-width="1.7"/>
<path d="M869,1846h0M869.4,1854.7h0M869.5,1857.6h0M869,1861.8h0M869.2,1863.3h0M869.2,1865h0M869.2,1866.8h0M869.3,1868h0M869.3,1869h0M869,1870.1h0M869,1871.4h0M868.9,1873.2h0M869,1875.1h0M869.4,1876.6h0M869.4,1878.4h0M869.1,1879.9h0M869.2,1881.1h0M869.6,1882.8h0M869.5,1883.8h0M869.2,1884.9h0M869.3,1886.1h0M869.5,1887.3h0M869.6,1888.6h0M869.3,1889.8h0M869.3,1891.1h0M869.2,1893h0" stroke="#1d1d1b" stroke-width="4.1" stroke-linecap="round" fill="none"/>
<circle cx="869.2" cy="1833.7" r="2" fill="#1d1d1b"/>
<circle cx="869.2" cy="1837" r="2" fill="#1d1d1b"/>
<circle cx="869.2" cy="1841" r="2" fill="#1d1d1b"/>
<line x1="892.4" y1="1867.4" x2="892.4" y2="1879" stroke="#e1302f" stroke-width="1.5"/>
<line x1="886.1" y1="1867.4" x2="898.6" y2="1867.4" stroke="#e1302f" stroke-width="1.7"/>
<path d="M892.2,1848h0M892.3,1854h0M892.1,1857.2h0M892.4,1860h0M892.6,1861.9h0M892,1863.4h0M892.6,1864.9h0M892.5,1866.8h0M892.3,1868.3h0M892.7,1870h0M892.5,1871.6h0M892.1,1872.4h0M892.2,1873.8h0M892.6,1875.4h0M892,1876.3h0M892.3,1877.4h0M892.4,1879h0M892.7,1880.9h0M892.6,1881.8h0M892.2,1883.1h0M892,1884.9h0M892.5,1886.1h0M892.7,1887.5h0M892.1,1889.1h0M892,1890.3h0M892.5,1892h0" stroke="#1d1d1b" stroke-width="4.1" stroke-linecap="round" fill="none"/>
<circle cx="892.4" cy="1842.6" r="2" fill="#1d1d1b"/>
<circle cx="892.4" cy="1845" r="2" fill="#1d1d1b"/>
<line x1="915.8" y1="1843.4" x2="915.8" y2="1864.1" stroke="#1d1d1b" stroke-width="1.5"/>
<line x1="909.5" y1="1843.4" x2="922" y2="1843.4" stroke="#1d1d1b" stroke-width="1.7"/>
<path d="M915.9,1824.4h0M915.9,1832h0M915.9,1833.9h0M915.9,1835.6h0M915.7,1837.4h0M915.8,1838.3h0M915.8,1839.8h0M915.4,1840.6h0M915.9,1842.3h0M915.9,1843.7h0M916,1845.6h0M916.1,1846.8h0M916,1847.6h0M915.9,1848.5h0M916,1849.5h0M915.7,1851.1h0M916,1852.8h0M916,1854.2h0M916,1855.9h0M915.7,1857.9h0M915.9,1859.2h0M915.7,1860.7h0M915.5,1862.7h0M915.5,1864.6h0M916,1866.1h0M915.5,1867.9h0M916,1868.8h0M915.6,1869.8h0M915.5,1871.2h0M915.4,1872.9h0M916,1874.1h0M915.9,1875.4h0M915.5,1876.3h0M915.4,1877.3h0M915.6,1878.3h0M915.6,1880.1h0M915.5,1881.5h0M915.6,1882.4h0M915.7,1883.9h0M915.8,1885.8h0M915.4,1887.3h0M915.7,1888.8h0M915.8,1890.1h0M916,1891.6h0M915.6,1892.7h0" stroke="#d2332c" stroke-width="3.9" stroke-linecap="round" fill="none"/>
<circle cx="915.8" cy="1788.6" r="1.9" fill="#d2332c"/>
<circle cx="915.8" cy="1796.8" r="1.9" fill="#d2332c"/>
<circle cx="915.8" cy="1820" r="1.9" fill="#d2332c"/>
<line x1="944.2" y1="1854" x2="944.2" y2="1892.3" stroke="#1d1d1b" stroke-width="1.7"/>
<text transform="translate(968.2 1891.7) rotate(-90)" font-size="20.9" fill="#1d1d1b">10 %<tspan font-size="17">&#215;</tspan>min</text>
<text transform="translate(828.4 1929.6) rotate(-90)" font-size="20.9" fill="#1d1d1b" text-anchor="end">0 h</text>
<text transform="translate(851.5 1929.6) rotate(-90)" font-size="20.9" fill="#1d1d1b" text-anchor="end">1 h</text>
<text transform="translate(874.5 1929.6) rotate(-90)" font-size="20.9" fill="#1d1d1b" text-anchor="end">3 h</text>
<text transform="translate(897.6 1929.6) rotate(-90)" font-size="20.9" fill="#1d1d1b" text-anchor="end">6 h</text>
<text transform="translate(921 1929.6) rotate(-90)" font-size="20.9" fill="#1d1d1b" text-anchor="end">24 h</text>
<text x="843.2" y="2003.2" font-size="20.9" fill="#1d1d1b">Surge</text>
<text x="821.5" y="2039.2" font-size="20.9" fill="#1d1d1b">Astrocytes</text>
</svg>
</body></html>
